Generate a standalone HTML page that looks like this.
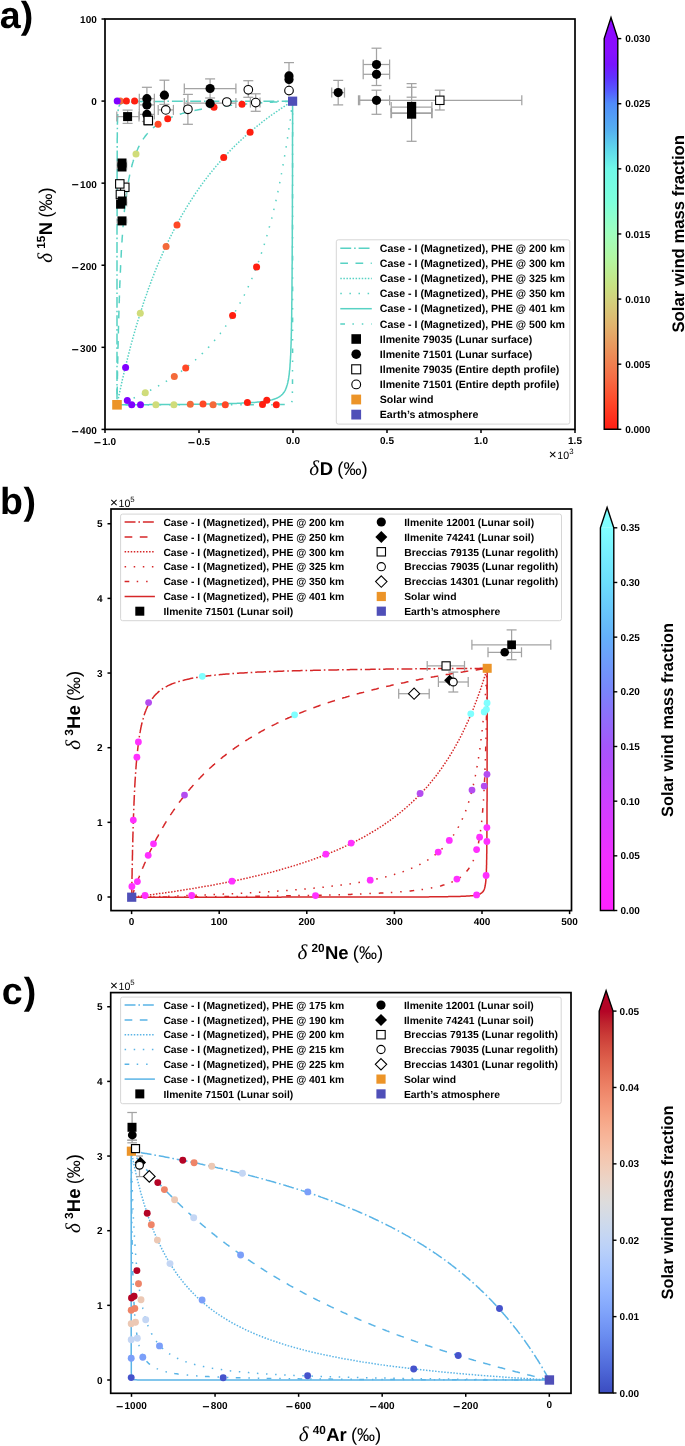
<!DOCTYPE html>
<html><head><meta charset="utf-8"><style>
html,body{margin:0;padding:0;background:#fff;}
svg{display:block;will-change:transform;}
text{text-rendering:geometricPrecision;}
</style></head><body>
<svg width="685" height="1446" viewBox="0 0 685 1446">
<rect width="685" height="1446" fill="#fff"/>
<polyline points="292.6,101.2 291.9,101.2 291.2,101.2 290.6,101.2 289.9,101.2 289.2,101.2 288.5,101.2 287.9,101.2 287.2,101.2 286.5,101.2 285.8,101.2 285.2,101.2 284.5,101.2 283.8,101.2 283.1,101.2 282.5,101.2 281.8,101.2 281.1,101.2 280.4,101.2 279.8,101.2 279.1,101.2 278.4,101.2 277.7,101.2 277.1,101.2 276.4,101.2 275.7,101.2 275.0,101.2 274.4,101.2 273.7,101.2 273.0,101.2 272.3,101.2 271.7,101.2 271.0,101.2 270.3,101.2 269.6,101.2 269.0,101.2 268.3,101.2 267.6,101.2 266.9,101.2 266.3,101.2 265.6,101.2 264.9,101.2 264.2,101.2 263.6,101.2 262.9,101.2 262.2,101.2 261.5,101.2 260.9,101.2 260.2,101.2 259.5,101.2 258.8,101.2 258.2,101.2 257.5,101.2 256.8,101.2 256.1,101.2 255.5,101.2 254.8,101.2 254.1,101.2 253.4,101.2 252.8,101.2 252.1,101.2 251.4,101.2 250.7,101.2 250.1,101.2 249.4,101.2 248.7,101.2 248.0,101.2 247.3,101.2 246.7,101.2 246.0,101.2 245.3,101.2 244.6,101.2 244.0,101.2 243.3,101.2 242.6,101.2 241.9,101.2 241.3,101.2 240.6,101.2 239.9,101.2 239.2,101.2 238.6,101.2 237.9,101.2 237.2,101.2 236.5,101.2 235.9,101.2 235.2,101.2 234.5,101.2 233.8,101.2 233.2,101.2 232.5,101.2 231.8,101.2 231.1,101.2 230.5,101.2 229.8,101.2 229.1,101.2 228.4,101.2 227.8,101.2 227.1,101.2 226.4,101.2 225.7,101.2 225.1,101.2 224.4,101.2 223.7,101.2 223.0,101.2 222.4,101.2 221.7,101.2 221.0,101.2 220.3,101.2 219.7,101.2 219.0,101.2 218.3,101.2 217.6,101.2 217.0,101.2 216.3,101.2 215.6,101.2 214.9,101.2 214.3,101.2 213.6,101.2 212.9,101.3 212.2,101.3 211.6,101.3 210.9,101.3 210.2,101.3 209.5,101.3 208.9,101.3 208.2,101.3 207.5,101.3 206.8,101.3 206.2,101.3 205.5,101.3 204.8,101.3 204.1,101.3 203.4,101.3 202.8,101.3 202.1,101.3 201.4,101.3 200.7,101.3 200.1,101.3 199.4,101.3 198.7,101.3 198.0,101.3 197.4,101.3 196.7,101.3 196.0,101.3 195.3,101.3 194.7,101.3 194.0,101.3 193.3,101.3 192.6,101.3 192.0,101.3 191.3,101.3 190.6,101.3 189.9,101.3 189.3,101.3 188.6,101.3 187.9,101.3 187.2,101.3 186.6,101.3 185.9,101.3 185.2,101.3 184.5,101.3 183.9,101.3 183.2,101.3 182.5,101.3 181.8,101.3 181.2,101.3 180.5,101.3 179.8,101.3 179.1,101.3 178.5,101.3 177.8,101.3 177.1,101.3 176.4,101.3 175.8,101.3 175.1,101.3 174.4,101.3 173.7,101.3 173.1,101.3 172.4,101.3 171.7,101.3 171.0,101.3 170.4,101.3 169.7,101.3 169.0,101.3 168.3,101.3 167.7,101.3 167.0,101.4 166.3,101.4 165.6,101.4 165.0,101.4 164.3,101.4 163.6,101.4 162.9,101.4 162.3,101.4 161.6,101.4 160.9,101.4 160.2,101.4 159.5,101.4 158.9,101.4 158.2,101.4 157.5,101.4 156.8,101.4 156.2,101.4 155.5,101.4 154.8,101.4 154.1,101.4 153.5,101.4 152.8,101.4 152.1,101.4 151.4,101.4 150.8,101.5 150.1,101.5 149.4,101.5 148.7,101.5 148.1,101.5 147.4,101.5 146.7,101.5 146.0,101.5 145.4,101.5 144.7,101.5 144.0,101.5 143.3,101.5 142.7,101.6 142.0,101.6 141.3,101.6 140.6,101.6 140.0,101.6 139.3,101.6 138.6,101.6 137.9,101.6 137.3,101.7 136.6,101.7 135.9,101.7 135.2,101.7 134.6,101.7 133.9,101.8 133.2,101.8 132.5,101.8 131.9,101.9 131.2,101.9 130.5,101.9 129.8,102.0 129.2,102.0 128.5,102.1 127.8,102.1 127.1,102.2 126.5,102.3 125.8,102.3 125.6,102.4 125.1,102.4 124.4,102.6 123.8,102.7 123.1,102.9 122.4,103.1 121.7,103.4 121.4,103.5 121.1,103.7 120.4,104.3 120.0,104.7 119.7,105.0 119.2,105.9 119.0,106.3 118.8,107.0 118.5,108.2 118.4,108.8 118.3,109.4 118.1,110.5 118.0,111.7 117.9,112.9 117.8,114.0 117.7,115.2 117.7,116.2 117.7,116.4 117.6,117.5 117.6,118.7 117.5,119.9 117.5,121.1 117.5,122.2 117.4,123.4 117.4,124.6 117.4,125.7 117.4,126.9 117.4,128.1 117.3,129.2 117.3,130.4 117.3,131.6 117.3,132.7 117.3,133.9 117.3,135.1 117.3,136.2 117.3,137.4 117.2,138.6 117.2,139.7 117.2,140.9 117.2,142.1 117.2,143.2 117.2,144.4 117.2,145.6 117.2,146.7 117.2,147.9 117.2,149.1 117.2,150.2 117.2,151.4 117.2,152.6 117.2,153.7 117.2,154.9 117.2,156.1 117.2,157.2 117.2,158.4 117.1,159.6 117.1,160.8 117.1,161.9 117.1,163.1 117.1,164.3 117.1,165.4 117.1,166.6 117.1,167.8 117.1,168.9 117.1,170.1 117.1,171.3 117.1,172.4 117.1,173.6 117.1,174.8 117.1,175.9 117.1,177.1 117.1,178.3 117.1,179.4 117.1,180.6 117.1,181.8 117.1,182.9 117.1,184.1 117.1,185.3 117.1,186.4 117.1,187.6 117.1,188.8 117.1,189.9 117.1,191.1 117.1,192.3 117.1,193.4 117.1,194.6 117.1,195.8 117.1,197.0 117.1,198.1 117.1,199.3 117.1,200.5 117.1,201.6 117.1,202.8 117.1,204.0 117.1,205.1 117.1,206.3 117.1,207.5 117.1,208.6 117.1,209.8 117.1,211.0 117.1,212.1 117.1,213.3 117.1,214.5 117.1,215.6 117.1,216.8 117.1,218.0 117.1,219.1 117.1,220.3 117.1,221.5 117.1,222.6 117.1,223.8 117.1,225.0 117.1,226.1 117.0,227.3 117.0,228.5 117.0,229.6 117.0,230.8 117.0,232.0 117.0,233.1 117.0,234.3 117.0,235.5 117.0,236.7 117.0,237.8 117.0,239.0 117.0,240.2 117.0,241.3 117.0,242.5 117.0,243.7 117.0,244.8 117.0,246.0 117.0,247.2 117.0,248.3 117.0,249.5 117.0,250.7 117.0,251.8 117.0,253.0 117.0,254.2 117.0,255.3 117.0,256.5 117.0,257.7 117.0,258.8 117.0,260.0 117.0,261.2 117.0,262.3 117.0,263.5 117.0,264.7 117.0,265.8 117.0,267.0 117.0,268.2 117.0,269.3 117.0,270.5 117.0,271.7 117.0,272.9 117.0,274.0 117.0,275.2 117.0,276.4 117.0,277.5 117.0,278.7 117.0,279.9 117.0,281.0 117.0,282.2 117.0,283.4 117.0,284.5 117.0,285.7 117.0,286.9 117.0,288.0 117.0,289.2 117.0,290.4 117.0,291.5 117.0,292.7 117.0,293.9 117.0,295.0 117.0,296.2 117.0,297.4 117.0,298.5 117.0,299.7 117.0,300.9 117.0,302.0 117.0,303.2 117.0,304.4 117.0,305.5 117.0,306.7 117.0,307.9 117.0,309.0 117.0,310.2 117.0,311.4 117.0,312.6 117.0,313.7 117.0,314.9 117.0,316.1 117.0,317.2 117.0,318.4 117.0,319.6 117.0,320.7 117.0,321.9 117.0,323.1 117.0,324.2 117.0,325.4 117.0,326.6 117.0,327.7 117.0,328.9 117.0,330.1 117.0,331.2 117.0,332.4 117.0,333.6 117.0,334.7 117.0,335.9 117.0,337.1 117.0,338.2 117.0,339.4 117.0,340.6 117.0,341.7 117.0,342.9 117.0,344.1 117.0,345.2 117.0,346.4 117.0,347.6 117.0,348.8 117.0,349.9 117.0,351.1 117.0,352.3 117.0,353.4 117.0,354.6 117.0,355.8 117.0,356.9 117.0,358.1 117.0,359.3 117.0,360.4 117.0,361.6 117.0,362.8 117.0,363.9 117.0,365.1 117.0,366.3 117.0,367.4 117.0,368.6 117.0,369.8 117.0,370.9 117.0,372.1 117.0,373.3 117.0,374.4 117.0,375.6 117.0,376.8 117.0,377.9 117.0,379.1 117.0,380.3 117.0,381.4 117.0,382.6 117.0,383.8 117.0,384.9 117.0,386.1 117.0,387.3 117.0,388.5 117.0,389.6 117.0,390.8 117.0,392.0 117.0,393.1 117.0,394.3 117.0,395.5 117.0,396.6 117.0,397.8 117.0,399.0 117.0,400.1 117.0,401.3 117.0,402.5 117.0,403.6 117.0,404.8" fill="none" stroke="#58d2c4" stroke-width="1.5" stroke-dasharray="10.9 2.9 1.6 2.9" />
<polyline points="292.6,101.2 291.9,101.2 291.2,101.3 290.6,101.3 289.9,101.3 289.2,101.3 288.5,101.4 287.9,101.4 287.2,101.4 286.5,101.5 285.8,101.5 285.2,101.5 284.5,101.6 283.8,101.6 283.1,101.6 282.5,101.7 281.8,101.7 281.1,101.7 280.4,101.8 279.8,101.8 279.1,101.8 278.4,101.9 277.7,101.9 277.1,101.9 276.4,102.0 275.7,102.0 275.0,102.0 274.4,102.1 273.7,102.1 273.0,102.1 272.3,102.2 271.7,102.2 271.0,102.3 270.3,102.3 269.6,102.3 269.1,102.4 269.0,102.4 268.3,102.4 267.6,102.5 266.9,102.5 266.3,102.5 265.6,102.6 264.9,102.6 264.2,102.7 263.6,102.7 262.9,102.7 262.2,102.8 261.5,102.8 260.9,102.9 260.2,102.9 259.5,103.0 258.8,103.0 258.2,103.0 257.5,103.1 256.8,103.1 256.1,103.2 255.5,103.2 254.8,103.3 254.1,103.3 253.4,103.4 252.8,103.4 252.1,103.5 251.4,103.5 251.0,103.5 250.7,103.6 250.1,103.6 249.4,103.7 248.7,103.7 248.0,103.8 247.3,103.8 246.7,103.9 246.0,103.9 245.3,104.0 244.6,104.0 244.0,104.1 243.3,104.1 242.6,104.2 241.9,104.2 241.3,104.3 240.6,104.4 239.9,104.4 239.2,104.5 238.6,104.5 237.9,104.6 237.2,104.7 236.7,104.7 236.5,104.7 235.9,104.8 235.2,104.8 234.5,104.9 233.8,105.0 233.2,105.0 232.5,105.1 231.8,105.2 231.1,105.2 230.5,105.3 229.8,105.4 229.1,105.4 228.4,105.5 227.8,105.6 227.1,105.7 226.4,105.7 225.7,105.8 225.1,105.9 225.1,105.9 224.4,105.9 223.7,106.0 223.0,106.1 222.4,106.2 221.7,106.3 221.0,106.3 220.3,106.4 219.7,106.5 219.0,106.6 218.3,106.7 217.6,106.8 217.0,106.8 216.3,106.9 215.6,107.0 215.4,107.0 214.9,107.1 214.3,107.2 213.6,107.3 212.9,107.4 212.2,107.5 211.6,107.6 210.9,107.7 210.2,107.8 209.5,107.9 208.9,108.0 208.2,108.1 207.5,108.2 207.3,108.2 206.8,108.3 206.2,108.4 205.5,108.5 204.8,108.6 204.1,108.7 203.4,108.8 202.8,108.9 202.1,109.1 201.4,109.2 200.7,109.3 200.4,109.4 200.1,109.4 199.4,109.5 198.7,109.7 198.0,109.8 197.4,109.9 196.7,110.1 196.0,110.2 195.3,110.3 194.7,110.5 194.4,110.5 194.0,110.6 193.3,110.8 192.6,110.9 192.0,111.1 191.3,111.2 190.6,111.4 189.9,111.5 189.3,111.7 189.1,111.7 188.6,111.8 187.9,112.0 187.2,112.2 186.6,112.3 185.9,112.5 185.2,112.7 184.5,112.9 183.9,113.1 183.2,113.2 182.5,113.4 181.8,113.6 181.2,113.8 180.5,114.0 180.5,114.0 179.8,114.2 179.1,114.5 178.5,114.7 177.8,114.9 177.1,115.1 176.8,115.2 176.4,115.3 175.8,115.6 175.1,115.8 174.4,116.1 173.7,116.3 173.5,116.4 173.1,116.6 172.4,116.8 171.7,117.1 171.0,117.4 170.6,117.5 170.4,117.6 169.7,117.9 169.0,118.2 168.3,118.5 167.9,118.7 167.7,118.8 167.0,119.1 166.3,119.5 165.6,119.8 165.5,119.9 165.0,120.1 164.3,120.5 163.6,120.9 163.2,121.1 162.9,121.2 162.3,121.6 161.6,122.0 161.2,122.2 160.9,122.4 160.2,122.8 159.5,123.2 159.3,123.4 158.9,123.6 158.2,124.1 157.5,124.6 156.8,125.0 156.2,125.5 155.9,125.7 155.5,126.0 154.8,126.5 154.4,126.9 154.1,127.1 153.5,127.6 153.0,128.1 152.8,128.2 152.1,128.8 151.7,129.2 151.4,129.4 150.8,130.0 150.4,130.4 150.1,130.7 149.4,131.4 149.3,131.6 148.7,132.1 148.2,132.7 148.1,132.8 147.4,133.6 147.1,133.9 146.7,134.4 146.2,135.1 146.0,135.2 145.4,136.1 145.2,136.2 144.7,137.0 144.4,137.4 144.0,137.9 143.5,138.6 143.3,138.9 142.8,139.7 142.7,139.9 142.0,140.9 142.0,141.0 141.3,142.1 141.3,142.1 140.6,143.2 140.0,144.4 140.0,144.5 139.4,145.6 139.3,145.7 138.8,146.7 138.6,147.1 138.2,147.9 137.9,148.5 137.7,149.1 137.3,150.0 137.2,150.2 136.7,151.4 136.6,151.6 136.2,152.6 135.9,153.3 135.7,153.7 135.3,154.9 135.2,155.1 134.9,156.1 134.6,157.0 134.5,157.2 134.1,158.4 133.9,159.0 133.7,159.6 133.3,160.8 133.2,161.1 133.0,161.9 132.6,163.1 132.5,163.4 132.3,164.3 132.0,165.4 131.9,165.8 131.7,166.6 131.4,167.8 131.2,168.4 131.1,168.9 130.8,170.1 130.5,171.3 130.2,172.4 130.0,173.6 129.8,174.3 129.7,174.8 129.5,175.9 129.3,177.1 129.2,177.6 129.0,178.3 128.8,179.4 128.6,180.6 128.5,181.1 128.4,181.8 128.2,182.9 128.0,184.1 127.8,185.0 127.8,185.3 127.6,186.4 127.4,187.6 127.2,188.8 127.1,189.2 127.0,189.9 126.8,191.1 126.7,192.3 126.5,193.4 126.5,193.9 126.4,194.6 126.2,195.8 126.0,197.0 125.9,198.1 125.8,199.0 125.7,199.3 125.6,200.5 125.5,201.6 125.3,202.8 125.2,204.0 125.1,204.6 125.0,205.1 124.9,206.3 124.8,207.5 124.7,208.6 124.5,209.8 124.4,210.9 124.4,211.0 124.3,212.1 124.2,213.3 124.1,214.5 124.0,215.6 123.9,216.8 123.8,218.0 123.6,219.1 123.5,220.3 123.4,221.5 123.3,222.6 123.2,223.8 123.2,225.0 123.1,225.9 123.1,226.1 123.0,227.3 122.9,228.5 122.8,229.6 122.7,230.8 122.6,232.0 122.5,233.1 122.4,234.3 122.4,235.0 122.4,235.5 122.3,236.7 122.2,237.8 122.1,239.0 122.1,240.2 122.0,241.3 121.9,242.5 121.8,243.7 121.8,244.8 121.7,245.3 121.7,246.0 121.6,247.2 121.5,248.3 121.5,249.5 121.4,250.7 121.3,251.8 121.3,253.0 121.2,254.2 121.2,255.3 121.1,256.5 121.1,257.3 121.0,257.7 121.0,258.8 120.9,260.0 120.9,261.2 120.8,262.3 120.7,263.5 120.7,264.7 120.6,265.8 120.6,267.0 120.5,268.2 120.5,269.3 120.4,270.5 120.4,271.3 120.4,271.7 120.3,272.9 120.3,274.0 120.2,275.2 120.2,276.4 120.1,277.5 120.1,278.7 120.0,279.9 120.0,281.0 119.9,282.2 119.9,283.4 119.8,284.5 119.8,285.7 119.7,286.9 119.7,288.0 119.7,289.2 119.6,290.4 119.6,291.5 119.5,292.7 119.5,293.9 119.5,295.0 119.4,296.2 119.4,297.4 119.3,298.5 119.3,299.7 119.3,300.9 119.2,302.0 119.2,303.2 119.1,304.4 119.1,305.5 119.1,306.7 119.0,307.9 119.0,308.2 119.0,309.0 119.0,310.2 118.9,311.4 118.9,312.6 118.9,313.7 118.8,314.9 118.8,316.1 118.8,317.2 118.7,318.4 118.7,319.6 118.7,320.7 118.6,321.9 118.6,323.1 118.6,324.2 118.5,325.4 118.5,326.6 118.5,327.7 118.5,328.9 118.4,330.1 118.4,331.2 118.4,332.4 118.4,332.9 118.3,333.6 118.3,334.7 118.3,335.9 118.3,337.1 118.2,338.2 118.2,339.4 118.2,340.6 118.1,341.7 118.1,342.9 118.1,344.1 118.1,345.2 118.0,346.4 118.0,347.6 118.0,348.8 118.0,349.9 117.9,351.1 117.9,352.3 117.9,353.4 117.9,354.6 117.8,355.8 117.8,356.9 117.8,358.1 117.8,359.3 117.7,360.4 117.7,361.6 117.7,362.8 117.7,363.9 117.7,364.2 117.7,365.1 117.6,366.3 117.6,367.4 117.6,368.6 117.6,369.8 117.5,370.9 117.5,372.1 117.5,373.3 117.5,374.4 117.5,375.6 117.4,376.8 117.4,377.9 117.4,379.1 117.4,380.3 117.4,381.4 117.3,382.6 117.3,383.8 117.3,384.9 117.3,386.1 117.3,387.3 117.2,388.5 117.2,389.6 117.2,390.8 117.2,392.0 117.2,393.1 117.2,394.3 117.1,395.5 117.1,396.6 117.1,397.8 117.1,399.0 117.1,400.1 117.1,401.3 117.0,402.5 117.0,403.6 117.0,404.8" fill="none" stroke="#58d2c4" stroke-width="1.5" stroke-dasharray="7.7 7.5" />
<polyline points="292.6,101.2 291.9,101.6 291.2,102.0 290.7,102.4 290.6,102.4 289.9,102.9 289.2,103.3 288.8,103.5 288.5,103.7 287.9,104.1 287.2,104.6 287.0,104.7 286.5,105.0 285.8,105.4 285.2,105.9 285.2,105.9 284.5,106.3 283.8,106.7 283.4,107.0 283.1,107.2 282.5,107.6 281.8,108.1 281.6,108.2 281.1,108.5 280.4,109.0 279.8,109.4 279.8,109.4 279.1,109.9 278.4,110.3 278.1,110.5 277.7,110.8 277.1,111.3 276.4,111.7 276.4,111.7 275.7,112.2 275.0,112.7 274.7,112.9 274.4,113.1 273.7,113.6 273.1,114.0 273.0,114.1 272.3,114.6 271.7,115.0 271.4,115.2 271.0,115.5 270.3,116.0 269.8,116.4 269.6,116.5 269.0,117.0 268.3,117.5 268.2,117.5 267.6,118.0 266.9,118.5 266.6,118.7 266.3,119.0 265.6,119.5 265.1,119.9 264.9,120.0 264.2,120.5 263.6,121.0 263.6,121.1 262.9,121.6 262.2,122.1 262.0,122.2 261.5,122.6 260.9,123.1 260.5,123.4 260.2,123.7 259.5,124.2 259.1,124.6 258.8,124.7 258.2,125.3 257.6,125.7 257.5,125.8 256.8,126.4 256.2,126.9 256.1,126.9 255.5,127.5 254.8,128.0 254.7,128.1 254.1,128.6 253.4,129.1 253.3,129.2 252.8,129.7 252.1,130.3 251.9,130.4 251.4,130.8 250.7,131.4 250.6,131.6 250.1,132.0 249.4,132.6 249.2,132.7 248.7,133.2 248.0,133.8 247.9,133.9 247.3,134.3 246.7,134.9 246.5,135.1 246.0,135.5 245.3,136.1 245.2,136.2 244.6,136.7 244.0,137.4 243.9,137.4 243.3,138.0 242.6,138.6 242.6,138.6 241.9,139.2 241.4,139.7 241.3,139.8 240.6,140.5 240.1,140.9 239.9,141.1 239.2,141.7 238.9,142.1 238.6,142.4 237.9,143.0 237.7,143.2 237.2,143.7 236.5,144.3 236.5,144.4 235.9,145.0 235.3,145.6 235.2,145.6 234.5,146.3 234.1,146.7 233.8,147.0 233.2,147.6 232.9,147.9 232.5,148.3 231.8,149.0 231.7,149.1 231.1,149.7 230.6,150.2 230.5,150.4 229.8,151.1 229.5,151.4 229.1,151.8 228.4,152.5 228.3,152.6 227.8,153.2 227.2,153.7 227.1,153.9 226.4,154.6 226.1,154.9 225.7,155.3 225.1,156.1 225.1,156.1 224.4,156.8 224.0,157.2 223.7,157.5 223.0,158.3 222.9,158.4 222.4,159.0 221.9,159.6 221.7,159.8 221.0,160.5 220.8,160.8 220.3,161.3 219.8,161.9 219.7,162.1 219.0,162.9 218.8,163.1 218.3,163.6 217.8,164.3 217.6,164.4 217.0,165.2 216.8,165.4 216.3,166.0 215.8,166.6 215.6,166.8 214.9,167.6 214.8,167.8 214.3,168.4 213.8,168.9 213.6,169.2 212.9,170.1 212.9,170.1 212.2,170.9 211.9,171.3 211.6,171.7 211.0,172.4 210.9,172.6 210.2,173.4 210.1,173.6 209.5,174.3 209.1,174.8 208.9,175.1 208.2,175.9 208.2,176.0 207.5,176.9 207.3,177.1 206.8,177.7 206.4,178.3 206.2,178.6 205.5,179.4 205.5,179.5 204.8,180.4 204.7,180.6 204.1,181.3 203.8,181.8 203.4,182.2 202.9,182.9 202.8,183.1 202.1,184.1 202.1,184.1 201.4,185.0 201.2,185.3 200.7,185.9 200.4,186.4 200.1,186.9 199.6,187.6 199.4,187.8 198.7,188.8 198.7,188.8 198.0,189.8 197.9,189.9 197.4,190.7 197.1,191.1 196.7,191.7 196.3,192.3 196.0,192.7 195.5,193.4 195.3,193.7 194.7,194.6 194.7,194.7 194.0,195.7 194.0,195.8 193.3,196.7 193.2,197.0 192.6,197.8 192.4,198.1 192.0,198.8 191.7,199.3 191.3,199.9 190.9,200.5 190.6,200.9 190.2,201.6 189.9,202.0 189.4,202.8 189.3,203.0 188.7,204.0 188.6,204.1 188.0,205.1 187.9,205.2 187.2,206.3 187.2,206.3 186.6,207.4 186.5,207.5 185.9,208.5 185.8,208.6 185.2,209.6 185.1,209.8 184.5,210.8 184.4,211.0 183.9,211.9 183.7,212.1 183.2,213.1 183.1,213.3 182.5,214.2 182.4,214.5 181.8,215.4 181.7,215.6 181.2,216.6 181.0,216.8 180.5,217.8 180.4,218.0 179.8,219.0 179.7,219.1 179.1,220.2 179.1,220.3 178.5,221.4 178.4,221.5 177.8,222.6 177.8,222.7 177.2,223.8 177.1,223.9 176.5,225.0 176.4,225.2 175.9,226.1 175.8,226.4 175.3,227.3 175.1,227.7 174.7,228.5 174.4,229.0 174.1,229.6 173.7,230.3 173.5,230.8 173.1,231.6 172.9,232.0 172.4,232.9 172.3,233.1 171.7,234.2 171.7,234.3 171.1,235.5 171.0,235.6 170.5,236.7 170.4,237.0 169.9,237.8 169.7,238.3 169.4,239.0 169.0,239.7 168.8,240.2 168.3,241.1 168.2,241.3 167.7,242.5 167.7,242.5 167.1,243.7 167.0,243.9 166.6,244.8 166.3,245.4 166.0,246.0 165.6,246.8 165.5,247.2 165.0,248.3 164.9,248.3 164.4,249.5 164.3,249.8 163.9,250.7 163.6,251.2 163.3,251.8 162.9,252.7 162.8,253.0 162.3,254.2 162.3,254.3 161.8,255.3 161.6,255.8 161.3,256.5 160.9,257.3 160.8,257.7 160.3,258.8 160.2,258.9 159.8,260.0 159.5,260.5 159.3,261.2 158.9,262.1 158.8,262.3 158.3,263.5 158.2,263.7 157.8,264.7 157.5,265.3 157.3,265.8 156.8,267.0 156.8,267.0 156.4,268.2 156.2,268.6 155.9,269.3 155.5,270.3 155.4,270.5 154.9,271.7 154.8,272.0 154.5,272.9 154.1,273.7 154.0,274.0 153.6,275.2 153.5,275.4 153.1,276.4 152.8,277.2 152.7,277.5 152.2,278.7 152.1,278.9 151.8,279.9 151.4,280.7 151.3,281.0 150.9,282.2 150.8,282.5 150.5,283.4 150.1,284.3 150.0,284.5 149.6,285.7 149.4,286.2 149.2,286.9 148.7,288.0 148.7,288.0 148.3,289.2 148.1,289.9 147.9,290.4 147.5,291.5 147.4,291.8 147.1,292.7 146.7,293.7 146.7,293.9 146.3,295.0 146.0,295.6 145.8,296.2 145.4,297.4 145.4,297.6 145.0,298.5 144.7,299.6 144.6,299.7 144.3,300.9 144.0,301.6 143.9,302.0 143.5,303.2 143.3,303.6 143.1,304.4 142.7,305.5 142.7,305.7 142.3,306.7 142.0,307.7 141.9,307.9 141.6,309.0 141.3,309.8 141.2,310.2 140.8,311.4 140.6,311.9 140.4,312.6 140.1,313.7 140.0,314.1 139.7,314.9 139.3,316.1 139.3,316.2 139.0,317.2 138.6,318.4 138.6,318.4 138.3,319.6 137.9,320.6 137.9,320.7 137.6,321.9 137.3,322.9 137.2,323.1 136.9,324.2 136.6,325.2 136.5,325.4 136.2,326.6 135.9,327.4 135.8,327.7 135.5,328.9 135.2,329.8 135.1,330.1 134.8,331.2 134.6,332.1 134.5,332.4 134.1,333.6 133.9,334.5 133.8,334.7 133.5,335.9 133.2,336.9 133.2,337.1 132.8,338.2 132.5,339.3 132.5,339.4 132.2,340.6 131.9,341.7 131.9,341.8 131.6,342.9 131.2,344.1 131.2,344.3 130.9,345.2 130.6,346.4 130.5,346.8 130.3,347.6 130.0,348.8 129.8,349.4 129.7,349.9 129.4,351.1 129.2,352.0 129.1,352.3 128.8,353.4 128.5,354.6 128.5,354.6 128.2,355.8 127.9,356.9 127.8,357.2 127.6,358.1 127.3,359.3 127.1,359.9 127.0,360.4 126.7,361.6 126.5,362.6 126.4,362.8 126.1,363.9 125.9,365.1 125.8,365.4 125.6,366.3 125.3,367.4 125.1,368.2 125.0,368.6 124.7,369.8 124.5,370.9 124.4,371.0 124.2,372.1 123.9,373.3 123.8,373.9 123.6,374.4 123.4,375.6 123.1,376.8 123.1,376.8 122.8,377.9 122.5,379.1 122.4,379.7 122.3,380.3 122.0,381.4 121.8,382.6 121.7,382.7 121.5,383.8 121.2,384.9 121.1,385.8 121.0,386.1 120.7,387.3 120.5,388.5 120.4,388.8 120.2,389.6 119.9,390.8 119.7,391.9 119.7,392.0 119.4,393.1 119.2,394.3 119.0,395.1 118.9,395.5 118.7,396.6 118.5,397.8 118.4,398.3 118.2,399.0 118.0,400.1 117.7,401.3 117.7,401.5 117.5,402.5 117.2,403.6 117.0,404.8" fill="none" stroke="#58d2c4" stroke-width="1.5" stroke-dasharray="1.5 1.56" />
<polyline points="292.6,101.2 292.5,102.4 292.3,103.5 292.2,104.7 292.0,105.9 291.9,106.6 291.9,107.0 291.7,108.2 291.6,109.4 291.4,110.5 291.3,111.7 291.2,111.8 291.1,112.9 290.9,114.0 290.8,115.2 290.6,116.4 290.6,116.8 290.5,117.5 290.3,118.7 290.2,119.9 290.0,121.1 289.9,121.8 289.8,122.2 289.7,123.4 289.5,124.6 289.3,125.7 289.2,126.6 289.2,126.9 289.0,128.1 288.8,129.2 288.7,130.4 288.5,131.2 288.5,131.6 288.3,132.7 288.2,133.9 288.0,135.1 287.9,135.8 287.8,136.2 287.6,137.4 287.5,138.6 287.3,139.7 287.2,140.3 287.1,140.9 286.9,142.1 286.7,143.2 286.6,144.4 286.5,144.6 286.4,145.6 286.2,146.7 286.0,147.9 285.8,148.8 285.8,149.1 285.6,150.2 285.4,151.4 285.2,152.6 285.2,152.9 285.0,153.7 284.8,154.9 284.6,156.1 284.5,157.0 284.4,157.2 284.2,158.4 284.0,159.6 283.8,160.8 283.8,160.9 283.6,161.9 283.4,163.1 283.2,164.3 283.1,164.7 283.0,165.4 282.8,166.6 282.6,167.8 282.5,168.5 282.4,168.9 282.2,170.1 282.0,171.3 281.8,172.1 281.7,172.4 281.5,173.6 281.3,174.8 281.1,175.7 281.1,175.9 280.9,177.1 280.6,178.3 280.4,179.2 280.4,179.4 280.2,180.6 279.9,181.8 279.8,182.6 279.7,182.9 279.5,184.1 279.2,185.3 279.1,186.0 279.0,186.4 278.8,187.6 278.5,188.8 278.4,189.3 278.3,189.9 278.0,191.1 277.8,192.3 277.7,192.5 277.5,193.4 277.3,194.6 277.1,195.6 277.0,195.8 276.8,197.0 276.5,198.1 276.4,198.7 276.3,199.3 276.0,200.5 275.7,201.6 275.7,201.7 275.5,202.8 275.2,204.0 275.0,204.6 274.9,205.1 274.7,206.3 274.4,207.5 274.4,207.5 274.1,208.6 273.8,209.8 273.7,210.3 273.5,211.0 273.3,212.1 273.0,213.1 273.0,213.3 272.7,214.5 272.4,215.6 272.3,215.8 272.1,216.8 271.8,218.0 271.7,218.5 271.5,219.1 271.2,220.3 271.0,221.1 270.9,221.5 270.6,222.6 270.3,223.7 270.3,223.8 270.0,225.0 269.6,226.1 269.6,226.2 269.3,227.3 269.0,228.5 269.0,228.6 268.7,229.6 268.4,230.8 268.3,231.0 268.0,232.0 267.7,233.1 267.6,233.4 267.4,234.3 267.0,235.5 266.9,235.8 266.7,236.7 266.3,237.8 266.3,238.0 266.0,239.0 265.6,240.2 265.6,240.3 265.3,241.3 264.9,242.5 264.9,242.5 264.5,243.7 264.2,244.7 264.2,244.8 263.8,246.0 263.6,246.8 263.4,247.2 263.1,248.3 262.9,248.9 262.7,249.5 262.3,250.7 262.2,250.9 261.9,251.8 261.5,253.0 261.5,253.0 261.1,254.2 260.9,255.0 260.7,255.3 260.3,256.5 260.2,256.9 259.9,257.7 259.5,258.8 259.5,258.8 259.1,260.0 258.8,260.7 258.7,261.2 258.2,262.3 258.2,262.6 257.8,263.5 257.5,264.4 257.4,264.7 256.9,265.8 256.8,266.2 256.5,267.0 256.1,268.0 256.1,268.2 255.6,269.3 255.5,269.7 255.1,270.5 254.8,271.4 254.7,271.7 254.2,272.9 254.1,273.1 253.7,274.0 253.4,274.8 253.3,275.2 252.8,276.4 252.8,276.4 252.3,277.5 252.1,278.0 251.8,278.7 251.4,279.6 251.3,279.9 250.8,281.0 250.7,281.2 250.3,282.2 250.1,282.7 249.8,283.4 249.4,284.2 249.2,284.5 248.7,285.7 248.7,285.7 248.2,286.9 248.0,287.2 247.6,288.0 247.3,288.7 247.1,289.2 246.7,290.1 246.5,290.4 246.0,291.5 246.0,291.5 245.4,292.7 245.3,292.9 244.8,293.9 244.6,294.3 244.3,295.0 244.0,295.6 243.7,296.2 243.3,297.0 243.1,297.4 242.6,298.3 242.5,298.5 241.9,299.6 241.9,299.7 241.3,300.9 241.3,300.9 240.6,302.0 240.6,302.1 240.0,303.2 239.9,303.4 239.4,304.4 239.2,304.6 238.7,305.5 238.6,305.8 238.1,306.7 237.9,307.0 237.4,307.9 237.2,308.2 236.7,309.0 236.5,309.3 236.0,310.2 235.9,310.5 235.3,311.4 235.2,311.6 234.6,312.6 234.5,312.8 233.9,313.7 233.8,313.9 233.2,314.9 233.2,315.0 232.5,316.0 232.5,316.1 231.8,317.1 231.7,317.2 231.1,318.2 231.0,318.4 230.5,319.2 230.2,319.6 229.8,320.2 229.5,320.7 229.1,321.2 228.7,321.9 228.4,322.2 227.9,323.1 227.8,323.2 227.1,324.2 227.1,324.2 226.4,325.2 226.3,325.4 225.7,326.1 225.4,326.6 225.1,327.1 224.6,327.7 224.4,328.0 223.7,328.9 223.7,328.9 223.0,329.8 222.9,330.1 222.4,330.8 222.0,331.2 221.7,331.6 221.1,332.4 221.0,332.5 220.3,333.4 220.2,333.6 219.7,334.3 219.3,334.7 219.0,335.1 218.3,335.9 218.3,336.0 217.6,336.8 217.4,337.1 217.0,337.6 216.4,338.2 216.3,338.4 215.6,339.2 215.5,339.4 214.9,340.0 214.5,340.6 214.3,340.8 213.6,341.6 213.5,341.7 212.9,342.4 212.4,342.9 212.2,343.1 211.6,343.9 211.4,344.1 210.9,344.7 210.3,345.2 210.2,345.4 209.5,346.1 209.3,346.4 208.9,346.9 208.2,347.6 208.2,347.6 207.5,348.3 207.1,348.8 206.8,349.0 206.2,349.7 205.9,349.9 205.5,350.4 204.8,351.1 204.8,351.1 204.1,351.7 203.6,352.3 203.4,352.4 202.8,353.1 202.4,353.4 202.1,353.7 201.4,354.4 201.2,354.6 200.7,355.0 200.1,355.7 200.0,355.8 199.4,356.3 198.7,356.9 198.7,356.9 198.0,357.5 197.4,358.1 197.4,358.2 196.7,358.8 196.1,359.3 196.0,359.4 195.3,360.0 194.8,360.4 194.7,360.6 194.0,361.1 193.5,361.6 193.3,361.7 192.6,362.3 192.1,362.8 192.0,362.9 191.3,363.4 190.7,363.9 190.6,364.0 189.9,364.6 189.3,365.1 189.3,365.1 188.6,365.7 187.9,366.2 187.8,366.3 187.2,366.7 186.6,367.3 186.3,367.4 185.9,367.8 185.2,368.3 184.8,368.6 184.5,368.8 183.9,369.3 183.3,369.8 183.2,369.9 182.5,370.4 181.8,370.9 181.7,370.9 181.2,371.4 180.5,371.8 180.1,372.1 179.8,372.3 179.1,372.8 178.5,373.3 178.5,373.3 177.8,373.8 177.1,374.2 176.8,374.4 176.4,374.7 175.8,375.2 175.1,375.6 175.1,375.6 174.4,376.1 173.7,376.5 173.4,376.8 173.1,377.0 172.4,377.4 171.7,377.9 171.6,377.9 171.0,378.3 170.4,378.7 169.8,379.1 169.7,379.2 169.0,379.6 168.3,380.0 167.9,380.3 167.7,380.5 167.0,380.9 166.3,381.3 166.0,381.4 165.6,381.7 165.0,382.1 164.3,382.5 164.1,382.6 163.6,382.9 162.9,383.3 162.3,383.7 162.1,383.8 161.6,384.1 160.9,384.5 160.2,384.9 160.1,384.9 159.5,385.3 158.9,385.6 158.2,386.0 158.0,386.1 157.5,386.4 156.8,386.8 156.2,387.1 155.9,387.3 155.5,387.5 154.8,387.9 154.1,388.2 153.7,388.5 153.5,388.6 152.8,389.0 152.1,389.3 151.5,389.6 151.4,389.7 150.8,390.0 150.1,390.4 149.4,390.7 149.3,390.8 148.7,391.0 148.1,391.4 147.4,391.7 146.9,392.0 146.7,392.1 146.0,392.4 145.4,392.7 144.7,393.0 144.5,393.1 144.0,393.4 143.3,393.7 142.7,394.0 142.1,394.3 142.0,394.3 141.3,394.7 140.6,395.0 140.0,395.3 139.6,395.5 139.3,395.6 138.6,395.9 137.9,396.2 137.3,396.5 137.0,396.6 136.6,396.8 135.9,397.1 135.2,397.4 134.6,397.7 134.4,397.8 133.9,398.0 133.2,398.3 132.5,398.6 131.9,398.9 131.7,399.0 131.2,399.2 130.5,399.5 129.8,399.7 129.2,400.0 128.9,400.1 128.5,400.3 127.8,400.6 127.1,400.9 126.5,401.1 126.0,401.3 125.8,401.4 125.1,401.7 124.4,401.9 123.8,402.2 123.1,402.5 123.1,402.5 122.4,402.7 121.7,403.0 121.1,403.3 120.4,403.5 120.1,403.6 119.7,403.8 119.0,404.0 118.4,404.3 117.7,404.5 117.0,404.8" fill="none" stroke="#58d2c4" stroke-width="1.5" stroke-dasharray="1.5 7.6" />
<polyline points="292.6,101.2 292.6,102.4 292.6,103.5 292.6,104.7 292.6,105.9 292.6,107.0 292.6,108.2 292.6,109.4 292.6,110.5 292.6,111.7 292.6,112.9 292.6,114.0 292.6,115.2 292.6,116.4 292.6,117.5 292.6,118.7 292.6,119.9 292.6,121.1 292.6,122.2 292.6,123.4 292.6,124.6 292.6,125.7 292.6,126.9 292.6,128.1 292.6,129.2 292.6,130.4 292.6,131.6 292.6,132.7 292.6,133.9 292.6,135.1 292.5,136.2 292.5,137.4 292.5,138.6 292.5,139.7 292.5,140.9 292.5,142.1 292.5,143.2 292.5,144.4 292.5,145.6 292.5,146.7 292.5,147.9 292.5,149.1 292.5,150.2 292.5,151.4 292.5,152.6 292.5,153.7 292.5,154.9 292.5,156.1 292.5,157.2 292.5,158.4 292.5,159.6 292.5,160.8 292.5,161.9 292.5,163.1 292.5,164.3 292.5,165.4 292.5,166.6 292.5,167.8 292.5,168.9 292.5,170.1 292.5,171.3 292.5,172.4 292.5,173.6 292.5,174.8 292.5,175.9 292.5,177.1 292.5,178.3 292.5,179.4 292.5,180.6 292.5,181.8 292.5,182.9 292.5,184.1 292.5,185.3 292.4,186.4 292.4,187.6 292.4,188.8 292.4,189.9 292.4,191.1 292.4,192.3 292.4,193.4 292.4,194.6 292.4,195.8 292.4,197.0 292.4,198.1 292.4,199.3 292.4,200.5 292.4,201.6 292.4,202.8 292.4,204.0 292.4,205.1 292.4,206.3 292.4,207.5 292.4,208.6 292.4,209.8 292.4,211.0 292.4,212.1 292.4,213.3 292.4,214.5 292.4,215.6 292.4,216.8 292.4,218.0 292.4,219.1 292.3,220.3 292.3,221.5 292.3,222.6 292.3,223.8 292.3,225.0 292.3,226.1 292.3,227.3 292.3,228.5 292.3,229.6 292.3,230.8 292.3,232.0 292.3,233.1 292.3,234.3 292.3,235.5 292.3,236.7 292.3,237.8 292.3,239.0 292.3,240.2 292.3,241.3 292.3,242.5 292.3,243.7 292.3,244.8 292.2,246.0 292.2,247.2 292.2,248.3 292.2,249.5 292.2,250.7 292.2,251.8 292.2,253.0 292.2,254.2 292.2,255.3 292.2,256.5 292.2,257.7 292.2,258.8 292.2,260.0 292.2,261.2 292.2,262.3 292.2,263.5 292.1,264.7 292.1,265.8 292.1,267.0 292.1,268.2 292.1,269.3 292.1,270.5 292.1,271.7 292.1,272.9 292.1,274.0 292.1,275.2 292.1,276.4 292.1,277.5 292.1,278.7 292.0,279.9 292.0,281.0 292.0,282.2 292.0,283.4 292.0,284.5 292.0,285.7 292.0,286.9 292.0,288.0 292.0,289.2 292.0,290.4 291.9,291.5 291.9,292.7 291.9,293.9 291.9,293.9 291.9,295.0 291.9,296.2 291.9,297.4 291.9,298.5 291.9,299.7 291.9,300.9 291.8,302.0 291.8,303.2 291.8,304.4 291.8,305.5 291.8,306.7 291.8,307.9 291.8,309.0 291.7,310.2 291.7,311.4 291.7,312.6 291.7,313.7 291.7,314.9 291.7,316.1 291.6,317.2 291.6,318.4 291.6,319.6 291.6,320.7 291.6,321.9 291.5,323.1 291.5,324.2 291.5,325.4 291.5,326.6 291.5,327.7 291.4,328.9 291.4,330.1 291.4,331.2 291.4,332.4 291.3,333.6 291.3,334.7 291.3,335.9 291.3,337.1 291.2,337.2 291.2,338.2 291.2,339.4 291.2,340.6 291.1,341.7 291.1,342.9 291.1,344.1 291.0,345.2 291.0,346.4 290.9,347.6 290.9,348.8 290.8,349.9 290.8,351.1 290.8,352.3 290.7,353.4 290.7,354.6 290.6,355.8 290.6,356.2 290.5,356.9 290.5,358.1 290.4,359.3 290.3,360.4 290.3,361.6 290.2,362.8 290.1,363.9 290.0,365.1 290.0,366.3 289.9,367.0 289.9,367.4 289.8,368.6 289.7,369.8 289.5,370.9 289.4,372.1 289.3,373.3 289.2,373.9 289.2,374.4 289.0,375.6 288.8,376.8 288.7,377.9 288.5,378.7 288.5,379.1 288.3,380.3 288.0,381.4 287.9,382.2 287.8,382.6 287.5,383.8 287.2,384.9 287.2,384.9 286.8,386.1 286.5,387.1 286.4,387.3 286.0,388.5 285.8,388.8 285.5,389.6 285.2,390.3 284.9,390.8 284.5,391.5 284.2,392.0 283.8,392.5 283.4,393.1 283.1,393.4 282.5,394.2 282.4,394.3 281.8,394.8 281.1,395.5 281.1,395.5 280.4,396.0 279.8,396.5 279.5,396.6 279.1,396.9 278.4,397.3 277.7,397.7 277.5,397.8 277.1,398.0 276.4,398.3 275.7,398.6 275.0,398.8 274.7,399.0 274.4,399.1 273.7,399.3 273.0,399.5 272.3,399.7 271.7,399.9 271.0,400.1 270.7,400.1 270.3,400.2 269.6,400.4 269.0,400.5 268.3,400.7 267.6,400.8 266.9,400.9 266.3,401.0 265.6,401.1 264.9,401.2 264.5,401.3 264.2,401.3 263.6,401.4 262.9,401.5 262.2,401.6 261.5,401.7 260.9,401.8 260.2,401.8 259.5,401.9 258.8,402.0 258.2,402.1 257.5,402.1 256.8,402.2 256.1,402.2 255.5,402.3 254.8,402.4 254.1,402.4 253.5,402.5 253.4,402.5 252.8,402.5 252.1,402.6 251.4,402.6 250.7,402.7 250.1,402.7 249.4,402.7 248.7,402.8 248.0,402.8 247.3,402.9 246.7,402.9 246.0,402.9 245.3,403.0 244.6,403.0 244.0,403.0 243.3,403.1 242.6,403.1 241.9,403.1 241.3,403.2 240.6,403.2 239.9,403.2 239.2,403.3 238.6,403.3 237.9,403.3 237.2,403.3 236.5,403.4 235.9,403.4 235.2,403.4 234.5,403.4 233.8,403.5 233.2,403.5 232.5,403.5 231.8,403.5 231.1,403.6 230.5,403.6 229.8,403.6 229.1,403.6 228.5,403.6 228.4,403.6 227.8,403.7 227.1,403.7 226.4,403.7 225.7,403.7 225.1,403.7 224.4,403.7 223.7,403.8 223.0,403.8 222.4,403.8 221.7,403.8 221.0,403.8 220.3,403.8 219.7,403.9 219.0,403.9 218.3,403.9 217.6,403.9 217.0,403.9 216.3,403.9 215.6,403.9 214.9,404.0 214.3,404.0 213.6,404.0 212.9,404.0 212.2,404.0 211.6,404.0 210.9,404.0 210.2,404.0 209.5,404.1 208.9,404.1 208.2,404.1 207.5,404.1 206.8,404.1 206.2,404.1 205.5,404.1 204.8,404.1 204.1,404.1 203.4,404.1 202.8,404.2 202.1,404.2 201.4,404.2 200.7,404.2 200.1,404.2 199.4,404.2 198.7,404.2 198.0,404.2 197.4,404.2 196.7,404.2 196.0,404.2 195.3,404.3 194.7,404.3 194.0,404.3 193.3,404.3 192.6,404.3 192.0,404.3 191.3,404.3 190.6,404.3 189.9,404.3 189.3,404.3 188.6,404.3 187.9,404.3 187.2,404.4 186.6,404.4 185.9,404.4 185.2,404.4 184.5,404.4 183.9,404.4 183.2,404.4 182.5,404.4 181.8,404.4 181.2,404.4 180.5,404.4 179.8,404.4 179.1,404.4 178.5,404.4 177.8,404.4 177.1,404.4 176.4,404.5 175.8,404.5 175.1,404.5 174.4,404.5 173.7,404.5 173.1,404.5 172.4,404.5 171.7,404.5 171.0,404.5 170.4,404.5 169.7,404.5 169.0,404.5 168.3,404.5 167.7,404.5 167.0,404.5 166.3,404.5 165.6,404.5 165.0,404.5 164.3,404.6 163.6,404.6 162.9,404.6 162.3,404.6 161.6,404.6 160.9,404.6 160.2,404.6 159.5,404.6 158.9,404.6 158.2,404.6 157.5,404.6 156.8,404.6 156.2,404.6 155.5,404.6 154.8,404.6 154.1,404.6 153.5,404.6 152.8,404.6 152.1,404.6 151.4,404.6 150.8,404.6 150.1,404.6 149.4,404.6 148.7,404.7 148.1,404.7 147.4,404.7 146.7,404.7 146.0,404.7 145.4,404.7 144.7,404.7 144.0,404.7 143.3,404.7 142.7,404.7 142.0,404.7 141.3,404.7 140.6,404.7 140.0,404.7 139.3,404.7 138.6,404.7 137.9,404.7 137.3,404.7 136.6,404.7 135.9,404.7 135.2,404.7 134.6,404.7 133.9,404.7 133.2,404.7 132.5,404.7 131.9,404.7 131.2,404.7 130.5,404.7 129.8,404.7 129.2,404.7 128.5,404.8 127.8,404.8 127.1,404.8 126.5,404.8 125.8,404.8 125.1,404.8 124.4,404.8 123.8,404.8 123.1,404.8 122.4,404.8 121.7,404.8 121.1,404.8 120.4,404.8 119.7,404.8 119.0,404.8 118.4,404.8 117.7,404.8 117.0,404.8" fill="none" stroke="#58d2c4" stroke-width="1.5" />
<polyline points="292.6,101.2 292.6,102.4 292.6,103.5 292.6,104.7 292.6,105.9 292.6,107.0 292.6,108.2 292.6,109.4 292.6,110.5 292.6,111.7 292.6,112.9 292.6,114.0 292.6,115.2 292.6,116.4 292.6,117.5 292.6,118.7 292.6,119.9 292.6,121.1 292.6,122.2 292.6,123.4 292.6,124.6 292.6,125.7 292.6,126.9 292.6,128.1 292.6,129.2 292.6,130.4 292.6,131.6 292.6,132.7 292.6,133.9 292.6,135.1 292.6,136.2 292.6,137.4 292.6,138.6 292.6,139.7 292.6,140.9 292.6,142.1 292.6,143.2 292.6,144.4 292.6,145.6 292.6,146.7 292.6,147.9 292.6,149.1 292.6,150.2 292.6,151.4 292.6,152.6 292.6,153.7 292.6,154.9 292.6,156.1 292.6,157.2 292.6,158.4 292.6,159.6 292.6,160.8 292.6,161.9 292.6,163.1 292.6,164.3 292.6,165.4 292.6,166.6 292.6,167.8 292.6,168.9 292.6,170.1 292.6,171.3 292.6,172.4 292.6,173.6 292.6,174.8 292.6,175.9 292.6,177.1 292.6,178.3 292.6,179.4 292.6,180.6 292.6,181.8 292.6,182.9 292.6,184.1 292.6,185.3 292.6,186.4 292.6,187.6 292.6,188.8 292.6,189.9 292.6,191.1 292.6,192.3 292.6,193.4 292.6,194.6 292.6,195.8 292.6,197.0 292.6,198.1 292.6,199.3 292.6,200.5 292.6,201.6 292.6,202.8 292.6,204.0 292.6,205.1 292.6,206.3 292.6,207.5 292.6,208.6 292.6,209.8 292.6,211.0 292.6,212.1 292.6,213.3 292.6,214.5 292.6,215.6 292.6,216.8 292.6,218.0 292.6,219.1 292.6,220.3 292.6,221.5 292.6,222.6 292.6,223.8 292.6,225.0 292.6,226.1 292.6,227.3 292.6,228.5 292.6,229.6 292.6,230.8 292.6,232.0 292.6,233.1 292.6,234.3 292.6,235.5 292.6,236.7 292.6,237.8 292.6,239.0 292.6,240.2 292.6,241.3 292.6,242.5 292.6,243.7 292.6,244.8 292.6,246.0 292.6,247.2 292.6,248.3 292.6,249.5 292.6,250.7 292.6,251.8 292.6,253.0 292.6,254.2 292.6,255.3 292.6,256.5 292.6,257.7 292.6,258.8 292.6,260.0 292.6,261.2 292.6,262.3 292.6,263.5 292.6,264.7 292.6,265.8 292.6,267.0 292.6,268.2 292.6,269.3 292.6,270.5 292.6,271.7 292.6,272.9 292.6,274.0 292.6,275.2 292.6,276.4 292.6,277.5 292.6,278.7 292.6,279.9 292.6,281.0 292.6,282.2 292.6,283.4 292.6,284.5 292.6,285.7 292.6,286.9 292.6,288.0 292.6,289.2 292.6,290.4 292.6,291.5 292.6,292.7 292.6,293.9 292.6,295.0 292.6,296.2 292.6,297.4 292.6,298.5 292.6,299.7 292.6,300.9 292.6,302.0 292.6,303.2 292.6,304.4 292.6,305.5 292.6,306.7 292.6,307.9 292.6,309.0 292.6,310.2 292.6,311.4 292.6,312.6 292.6,313.7 292.6,314.9 292.6,316.1 292.6,317.2 292.6,318.4 292.6,319.6 292.6,320.7 292.6,321.9 292.6,323.1 292.6,324.2 292.6,325.4 292.6,326.6 292.6,327.7 292.6,328.9 292.6,330.1 292.6,331.2 292.6,332.4 292.6,333.6 292.6,334.7 292.6,335.9 292.6,337.1 292.6,338.2 292.6,339.4 292.6,340.6 292.6,341.7 292.6,342.9 292.6,344.1 292.6,345.2 292.6,346.4 292.6,347.6 292.6,348.8 292.6,349.9 292.6,351.1 292.6,352.3 292.6,353.4 292.6,354.6 292.6,355.8 292.6,356.9 292.6,358.1 292.6,359.3 292.6,360.4 292.6,361.6 292.6,362.8 292.6,363.9 292.6,365.1 292.6,366.3 292.5,367.4 292.5,368.6 292.5,369.8 292.5,370.9 292.5,372.1 292.5,373.3 292.5,374.4 292.5,375.6 292.5,376.8 292.5,377.9 292.5,379.1 292.5,380.3 292.5,381.4 292.5,382.6 292.5,383.8 292.5,384.9 292.5,386.1 292.5,387.3 292.5,388.5 292.5,389.6 292.5,390.8 292.4,392.0 292.4,393.1 292.4,394.3 292.4,395.5 292.3,396.6 292.3,397.8 292.2,399.0 292.2,400.1 292.0,401.3 291.9,401.7 291.7,402.5 291.2,403.2 290.8,403.6 290.6,403.8 289.9,404.0 289.2,404.2 288.5,404.3 287.9,404.4 287.2,404.4 286.5,404.5 285.8,404.5 285.2,404.5 284.5,404.5 283.8,404.6 283.1,404.6 282.5,404.6 281.8,404.6 281.1,404.6 280.4,404.6 279.8,404.6 279.1,404.7 278.4,404.7 277.7,404.7 277.1,404.7 276.4,404.7 275.7,404.7 275.0,404.7 274.4,404.7 273.7,404.7 273.0,404.7 272.3,404.7 271.7,404.7 271.0,404.7 270.3,404.7 269.6,404.7 269.0,404.7 268.3,404.7 267.6,404.7 266.9,404.7 266.3,404.7 265.6,404.7 264.9,404.7 264.2,404.7 263.6,404.7 262.9,404.7 262.2,404.7 261.5,404.7 260.9,404.7 260.2,404.7 259.5,404.7 258.8,404.7 258.2,404.8 257.5,404.8 256.8,404.8 256.1,404.8 255.5,404.8 254.8,404.8 254.1,404.8 253.4,404.8 252.8,404.8 252.1,404.8 251.4,404.8 250.7,404.8 250.1,404.8 249.4,404.8 248.7,404.8 248.0,404.8 247.3,404.8 246.7,404.8 246.0,404.8 245.3,404.8 244.6,404.8 244.0,404.8 243.3,404.8 242.6,404.8 241.9,404.8 241.3,404.8 240.6,404.8 239.9,404.8 239.2,404.8 238.6,404.8 237.9,404.8 237.2,404.8 236.5,404.8 235.9,404.8 235.2,404.8 234.5,404.8 233.8,404.8 233.2,404.8 232.5,404.8 231.8,404.8 231.1,404.8 230.5,404.8 229.8,404.8 229.1,404.8 228.4,404.8 227.8,404.8 227.1,404.8 226.4,404.8 225.7,404.8 225.1,404.8 224.4,404.8 223.7,404.8 223.0,404.8 222.4,404.8 221.7,404.8 221.0,404.8 220.3,404.8 219.7,404.8 219.0,404.8 218.3,404.8 217.6,404.8 217.0,404.8 216.3,404.8 215.6,404.8 214.9,404.8 214.3,404.8 213.6,404.8 212.9,404.8 212.2,404.8 211.6,404.8 210.9,404.8 210.2,404.8 209.5,404.8 208.9,404.8 208.2,404.8 207.5,404.8 206.8,404.8 206.2,404.8 205.5,404.8 204.8,404.8 204.1,404.8 203.4,404.8 202.8,404.8 202.1,404.8 201.4,404.8 200.7,404.8 200.1,404.8 199.4,404.8 198.7,404.8 198.0,404.8 197.4,404.8 196.7,404.8 196.0,404.8 195.3,404.8 194.7,404.8 194.0,404.8 193.3,404.8 192.6,404.8 192.0,404.8 191.3,404.8 190.6,404.8 189.9,404.8 189.3,404.8 188.6,404.8 187.9,404.8 187.2,404.8 186.6,404.8 185.9,404.8 185.2,404.8 184.5,404.8 183.9,404.8 183.2,404.8 182.5,404.8 181.8,404.8 181.2,404.8 180.5,404.8 179.8,404.8 179.1,404.8 178.5,404.8 177.8,404.8 177.1,404.8 176.4,404.8 175.8,404.8 175.1,404.8 174.4,404.8 173.7,404.8 173.1,404.8 172.4,404.8 171.7,404.8 171.0,404.8 170.4,404.8 169.7,404.8 169.0,404.8 168.3,404.8 167.7,404.8 167.0,404.8 166.3,404.8 165.6,404.8 165.0,404.8 164.3,404.8 163.6,404.8 162.9,404.8 162.3,404.8 161.6,404.8 160.9,404.8 160.2,404.8 159.5,404.8 158.9,404.8 158.2,404.8 157.5,404.8 156.8,404.8 156.2,404.8 155.5,404.8 154.8,404.8 154.1,404.8 153.5,404.8 152.8,404.8 152.1,404.8 151.4,404.8 150.8,404.8 150.1,404.8 149.4,404.8 148.7,404.8 148.1,404.8 147.4,404.8 146.7,404.8 146.0,404.8 145.4,404.8 144.7,404.8 144.0,404.8 143.3,404.8 142.7,404.8 142.0,404.8 141.3,404.8 140.6,404.8 140.0,404.8 139.3,404.8 138.6,404.8 137.9,404.8 137.3,404.8 136.6,404.8 135.9,404.8 135.2,404.8 134.6,404.8 133.9,404.8 133.2,404.8 132.5,404.8 131.9,404.8 131.2,404.8 130.5,404.8 129.8,404.8 129.2,404.8 128.5,404.8 127.8,404.8 127.1,404.8 126.5,404.8 125.8,404.8 125.1,404.8 124.4,404.8 123.8,404.8 123.1,404.8 122.4,404.8 121.7,404.8 121.1,404.8 120.4,404.8 119.7,404.8 119.0,404.8 118.4,404.8 117.7,404.8 117.0,404.8" fill="none" stroke="#58d2c4" stroke-width="1.5" stroke-dasharray="4.7 7.4 1.5 7.9 1.5 7.9" />
<line x1="116.80" y1="116.60" x2="139.00" y2="116.60" stroke="#a3a3a3" stroke-width="1.25" />
<line x1="116.80" y1="111.60" x2="116.80" y2="121.60" stroke="#a3a3a3" stroke-width="1.25" />
<line x1="139.00" y1="111.60" x2="139.00" y2="121.60" stroke="#a3a3a3" stroke-width="1.25" />
<line x1="127.60" y1="110.10" x2="127.60" y2="123.40" stroke="#a3a3a3" stroke-width="1.25" />
<line x1="122.60" y1="110.10" x2="132.60" y2="110.10" stroke="#a3a3a3" stroke-width="1.25" />
<line x1="122.60" y1="123.40" x2="132.60" y2="123.40" stroke="#a3a3a3" stroke-width="1.25" />
<line x1="139.30" y1="98.70" x2="154.40" y2="98.70" stroke="#a3a3a3" stroke-width="1.25" />
<line x1="139.30" y1="93.70" x2="139.30" y2="103.70" stroke="#a3a3a3" stroke-width="1.25" />
<line x1="154.40" y1="93.70" x2="154.40" y2="103.70" stroke="#a3a3a3" stroke-width="1.25" />
<line x1="146.90" y1="87.30" x2="146.90" y2="121.50" stroke="#a3a3a3" stroke-width="1.25" />
<line x1="141.90" y1="87.30" x2="151.90" y2="87.30" stroke="#a3a3a3" stroke-width="1.25" />
<line x1="141.90" y1="121.50" x2="151.90" y2="121.50" stroke="#a3a3a3" stroke-width="1.25" />
<line x1="139.30" y1="104.90" x2="154.40" y2="104.90" stroke="#a3a3a3" stroke-width="1.25" />
<line x1="139.30" y1="99.90" x2="139.30" y2="109.90" stroke="#a3a3a3" stroke-width="1.25" />
<line x1="154.40" y1="99.90" x2="154.40" y2="109.90" stroke="#a3a3a3" stroke-width="1.25" />
<line x1="139.30" y1="114.40" x2="154.40" y2="114.40" stroke="#a3a3a3" stroke-width="1.25" />
<line x1="139.30" y1="109.40" x2="139.30" y2="119.40" stroke="#a3a3a3" stroke-width="1.25" />
<line x1="154.40" y1="109.40" x2="154.40" y2="119.40" stroke="#a3a3a3" stroke-width="1.25" />
<line x1="164.40" y1="80.20" x2="164.40" y2="104.40" stroke="#a3a3a3" stroke-width="1.25" />
<line x1="159.40" y1="80.20" x2="169.40" y2="80.20" stroke="#a3a3a3" stroke-width="1.25" />
<line x1="159.40" y1="104.40" x2="169.40" y2="104.40" stroke="#a3a3a3" stroke-width="1.25" />
<line x1="158.20" y1="109.90" x2="173.40" y2="109.90" stroke="#a3a3a3" stroke-width="1.25" />
<line x1="158.20" y1="104.90" x2="158.20" y2="114.90" stroke="#a3a3a3" stroke-width="1.25" />
<line x1="173.40" y1="104.90" x2="173.40" y2="114.90" stroke="#a3a3a3" stroke-width="1.25" />
<line x1="187.90" y1="94.40" x2="187.90" y2="124.30" stroke="#a3a3a3" stroke-width="1.25" />
<line x1="182.90" y1="94.40" x2="192.90" y2="94.40" stroke="#a3a3a3" stroke-width="1.25" />
<line x1="182.90" y1="124.30" x2="192.90" y2="124.30" stroke="#a3a3a3" stroke-width="1.25" />
<line x1="184.30" y1="88.50" x2="235.90" y2="88.50" stroke="#a3a3a3" stroke-width="1.25" />
<line x1="184.30" y1="83.50" x2="184.30" y2="93.50" stroke="#a3a3a3" stroke-width="1.25" />
<line x1="235.90" y1="83.50" x2="235.90" y2="93.50" stroke="#a3a3a3" stroke-width="1.25" />
<line x1="210.10" y1="78.90" x2="210.10" y2="98.00" stroke="#a3a3a3" stroke-width="1.25" />
<line x1="205.10" y1="78.90" x2="215.10" y2="78.90" stroke="#a3a3a3" stroke-width="1.25" />
<line x1="205.10" y1="98.00" x2="215.10" y2="98.00" stroke="#a3a3a3" stroke-width="1.25" />
<line x1="184.30" y1="103.00" x2="235.90" y2="103.00" stroke="#a3a3a3" stroke-width="1.25" />
<line x1="184.30" y1="98.00" x2="184.30" y2="108.00" stroke="#a3a3a3" stroke-width="1.25" />
<line x1="235.90" y1="98.00" x2="235.90" y2="108.00" stroke="#a3a3a3" stroke-width="1.25" />
<line x1="248.30" y1="80.70" x2="248.30" y2="97.30" stroke="#a3a3a3" stroke-width="1.25" />
<line x1="243.30" y1="80.70" x2="253.30" y2="80.70" stroke="#a3a3a3" stroke-width="1.25" />
<line x1="243.30" y1="97.30" x2="253.30" y2="97.30" stroke="#a3a3a3" stroke-width="1.25" />
<line x1="250.40" y1="102.60" x2="260.00" y2="102.60" stroke="#a3a3a3" stroke-width="1.25" />
<line x1="250.40" y1="97.60" x2="250.40" y2="107.60" stroke="#a3a3a3" stroke-width="1.25" />
<line x1="260.00" y1="97.60" x2="260.00" y2="107.60" stroke="#a3a3a3" stroke-width="1.25" />
<line x1="255.70" y1="93.80" x2="255.70" y2="111.30" stroke="#a3a3a3" stroke-width="1.25" />
<line x1="250.70" y1="93.80" x2="260.70" y2="93.80" stroke="#a3a3a3" stroke-width="1.25" />
<line x1="250.70" y1="111.30" x2="260.70" y2="111.30" stroke="#a3a3a3" stroke-width="1.25" />
<line x1="289.00" y1="62.60" x2="289.00" y2="92.00" stroke="#a3a3a3" stroke-width="1.25" />
<line x1="284.00" y1="62.60" x2="294.00" y2="62.60" stroke="#a3a3a3" stroke-width="1.25" />
<line x1="284.00" y1="92.00" x2="294.00" y2="92.00" stroke="#a3a3a3" stroke-width="1.25" />
<line x1="331.70" y1="92.60" x2="344.50" y2="92.60" stroke="#a3a3a3" stroke-width="1.25" />
<line x1="331.70" y1="87.60" x2="331.70" y2="97.60" stroke="#a3a3a3" stroke-width="1.25" />
<line x1="344.50" y1="87.60" x2="344.50" y2="97.60" stroke="#a3a3a3" stroke-width="1.25" />
<line x1="338.20" y1="80.40" x2="338.20" y2="104.90" stroke="#a3a3a3" stroke-width="1.25" />
<line x1="333.20" y1="80.40" x2="343.20" y2="80.40" stroke="#a3a3a3" stroke-width="1.25" />
<line x1="333.20" y1="104.90" x2="343.20" y2="104.90" stroke="#a3a3a3" stroke-width="1.25" />
<line x1="363.20" y1="64.50" x2="389.60" y2="64.50" stroke="#a3a3a3" stroke-width="1.25" />
<line x1="363.20" y1="59.50" x2="363.20" y2="69.50" stroke="#a3a3a3" stroke-width="1.25" />
<line x1="389.60" y1="59.50" x2="389.60" y2="69.50" stroke="#a3a3a3" stroke-width="1.25" />
<line x1="376.50" y1="48.20" x2="376.50" y2="85.50" stroke="#a3a3a3" stroke-width="1.25" />
<line x1="371.50" y1="48.20" x2="381.50" y2="48.20" stroke="#a3a3a3" stroke-width="1.25" />
<line x1="371.50" y1="85.50" x2="381.50" y2="85.50" stroke="#a3a3a3" stroke-width="1.25" />
<line x1="363.20" y1="74.30" x2="389.60" y2="74.30" stroke="#a3a3a3" stroke-width="1.25" />
<line x1="363.20" y1="69.30" x2="363.20" y2="79.30" stroke="#a3a3a3" stroke-width="1.25" />
<line x1="389.60" y1="69.30" x2="389.60" y2="79.30" stroke="#a3a3a3" stroke-width="1.25" />
<line x1="358.50" y1="100.30" x2="389.60" y2="100.30" stroke="#a3a3a3" stroke-width="1.25" />
<line x1="358.50" y1="95.30" x2="358.50" y2="105.30" stroke="#a3a3a3" stroke-width="1.25" />
<line x1="389.60" y1="95.30" x2="389.60" y2="105.30" stroke="#a3a3a3" stroke-width="1.25" />
<line x1="376.50" y1="90.20" x2="376.50" y2="114.30" stroke="#a3a3a3" stroke-width="1.25" />
<line x1="371.50" y1="90.20" x2="381.50" y2="90.20" stroke="#a3a3a3" stroke-width="1.25" />
<line x1="371.50" y1="114.30" x2="381.50" y2="114.30" stroke="#a3a3a3" stroke-width="1.25" />
<line x1="391.20" y1="107.00" x2="431.90" y2="107.00" stroke="#a3a3a3" stroke-width="1.25" />
<line x1="391.20" y1="102.00" x2="391.20" y2="112.00" stroke="#a3a3a3" stroke-width="1.25" />
<line x1="431.90" y1="102.00" x2="431.90" y2="112.00" stroke="#a3a3a3" stroke-width="1.25" />
<line x1="411.60" y1="83.60" x2="411.60" y2="141.30" stroke="#a3a3a3" stroke-width="1.25" />
<line x1="406.60" y1="83.60" x2="416.60" y2="83.60" stroke="#a3a3a3" stroke-width="1.25" />
<line x1="406.60" y1="141.30" x2="416.60" y2="141.30" stroke="#a3a3a3" stroke-width="1.25" />
<line x1="411.60" y1="87.30" x2="411.60" y2="97.20" stroke="#a3a3a3" stroke-width="1.25" />
<line x1="406.60" y1="87.30" x2="416.60" y2="87.30" stroke="#a3a3a3" stroke-width="1.25" />
<line x1="406.60" y1="97.20" x2="416.60" y2="97.20" stroke="#a3a3a3" stroke-width="1.25" />
<line x1="391.20" y1="113.20" x2="431.90" y2="113.20" stroke="#a3a3a3" stroke-width="1.8" />
<line x1="391.20" y1="108.20" x2="391.20" y2="118.20" stroke="#a3a3a3" stroke-width="1.8" />
<line x1="431.90" y1="108.20" x2="431.90" y2="118.20" stroke="#a3a3a3" stroke-width="1.8" />
<line x1="359.70" y1="100.30" x2="521.80" y2="100.30" stroke="#a3a3a3" stroke-width="1.25" />
<line x1="359.70" y1="95.30" x2="359.70" y2="105.30" stroke="#a3a3a3" stroke-width="1.25" />
<line x1="521.80" y1="95.30" x2="521.80" y2="105.30" stroke="#a3a3a3" stroke-width="1.25" />
<line x1="439.80" y1="90.20" x2="439.80" y2="110.00" stroke="#a3a3a3" stroke-width="1.25" />
<line x1="434.80" y1="90.20" x2="444.80" y2="90.20" stroke="#a3a3a3" stroke-width="1.25" />
<line x1="434.80" y1="110.00" x2="444.80" y2="110.00" stroke="#a3a3a3" stroke-width="1.25" />
<line x1="116.50" y1="163.00" x2="127.00" y2="163.00" stroke="#c8c8c8" stroke-width="0.8" />
<line x1="116.50" y1="160.50" x2="116.50" y2="165.50" stroke="#c8c8c8" stroke-width="0.8" />
<line x1="127.00" y1="160.50" x2="127.00" y2="165.50" stroke="#c8c8c8" stroke-width="0.8" />
<line x1="116.50" y1="167.00" x2="127.00" y2="167.00" stroke="#c8c8c8" stroke-width="0.8" />
<line x1="116.50" y1="164.50" x2="116.50" y2="169.50" stroke="#c8c8c8" stroke-width="0.8" />
<line x1="127.00" y1="164.50" x2="127.00" y2="169.50" stroke="#c8c8c8" stroke-width="0.8" />
<line x1="116.50" y1="201.00" x2="127.00" y2="201.00" stroke="#c8c8c8" stroke-width="0.8" />
<line x1="116.50" y1="198.50" x2="116.50" y2="203.50" stroke="#c8c8c8" stroke-width="0.8" />
<line x1="127.00" y1="198.50" x2="127.00" y2="203.50" stroke="#c8c8c8" stroke-width="0.8" />
<line x1="116.50" y1="204.20" x2="127.00" y2="204.20" stroke="#c8c8c8" stroke-width="0.8" />
<line x1="116.50" y1="201.70" x2="116.50" y2="206.70" stroke="#c8c8c8" stroke-width="0.8" />
<line x1="127.00" y1="201.70" x2="127.00" y2="206.70" stroke="#c8c8c8" stroke-width="0.8" />
<line x1="116.50" y1="220.90" x2="127.00" y2="220.90" stroke="#c8c8c8" stroke-width="0.8" />
<line x1="116.50" y1="218.40" x2="116.50" y2="223.40" stroke="#c8c8c8" stroke-width="0.8" />
<line x1="127.00" y1="218.40" x2="127.00" y2="223.40" stroke="#c8c8c8" stroke-width="0.8" />
<line x1="116.50" y1="183.90" x2="127.00" y2="183.90" stroke="#c8c8c8" stroke-width="0.8" />
<line x1="116.50" y1="181.40" x2="116.50" y2="186.40" stroke="#c8c8c8" stroke-width="0.8" />
<line x1="127.00" y1="181.40" x2="127.00" y2="186.40" stroke="#c8c8c8" stroke-width="0.8" />
<line x1="116.50" y1="187.30" x2="127.00" y2="187.30" stroke="#c8c8c8" stroke-width="0.8" />
<line x1="116.50" y1="184.80" x2="116.50" y2="189.80" stroke="#c8c8c8" stroke-width="0.8" />
<line x1="127.00" y1="184.80" x2="127.00" y2="189.80" stroke="#c8c8c8" stroke-width="0.8" />
<line x1="116.50" y1="194.50" x2="127.00" y2="194.50" stroke="#c8c8c8" stroke-width="0.8" />
<line x1="116.50" y1="192.00" x2="116.50" y2="197.00" stroke="#c8c8c8" stroke-width="0.8" />
<line x1="127.00" y1="192.00" x2="127.00" y2="197.00" stroke="#c8c8c8" stroke-width="0.8" />
<circle cx="120.30" cy="101.10" r="3.5" fill="#f46a3a" stroke="none" stroke-width="0"/>
<circle cx="126.40" cy="101.10" r="3.5" fill="#ff1f10" stroke="none" stroke-width="0"/>
<circle cx="134.60" cy="101.10" r="3.5" fill="#ff1f10" stroke="none" stroke-width="0"/>
<circle cx="117.20" cy="101.10" r="3.5" fill="#8000ff" stroke="none" stroke-width="0"/>
<circle cx="167.70" cy="118.80" r="3.5" fill="#ff1f10" stroke="none" stroke-width="0"/>
<circle cx="158.10" cy="124.30" r="3.5" fill="#ff4826" stroke="none" stroke-width="0"/>
<circle cx="136.00" cy="153.90" r="3.5" fill="#d0dc7a" stroke="none" stroke-width="0"/>
<circle cx="214.00" cy="107.30" r="3.5" fill="#ff1f10" stroke="none" stroke-width="0"/>
<circle cx="242.00" cy="104.30" r="3.5" fill="#ff1f10" stroke="none" stroke-width="0"/>
<circle cx="250.10" cy="132.20" r="3.5" fill="#ff1f10" stroke="none" stroke-width="0"/>
<circle cx="223.70" cy="157.60" r="3.5" fill="#ff1f10" stroke="none" stroke-width="0"/>
<circle cx="177.00" cy="224.90" r="3.5" fill="#ff4826" stroke="none" stroke-width="0"/>
<circle cx="166.10" cy="246.60" r="3.5" fill="#f46a3a" stroke="none" stroke-width="0"/>
<circle cx="140.30" cy="313.20" r="3.5" fill="#d0dc7a" stroke="none" stroke-width="0"/>
<circle cx="125.60" cy="367.40" r="3.5" fill="#8000ff" stroke="none" stroke-width="0"/>
<circle cx="256.60" cy="266.90" r="3.5" fill="#ff1f10" stroke="none" stroke-width="0"/>
<circle cx="232.60" cy="315.60" r="3.5" fill="#ff1f10" stroke="none" stroke-width="0"/>
<circle cx="185.70" cy="367.90" r="3.5" fill="#ff4826" stroke="none" stroke-width="0"/>
<circle cx="174.30" cy="376.40" r="3.5" fill="#f46a3a" stroke="none" stroke-width="0"/>
<circle cx="145.30" cy="392.70" r="3.5" fill="#d0dc7a" stroke="none" stroke-width="0"/>
<circle cx="127.30" cy="400.60" r="3.5" fill="#8000ff" stroke="none" stroke-width="0"/>
<circle cx="131.70" cy="404.70" r="3.5" fill="#8000ff" stroke="none" stroke-width="0"/>
<circle cx="140.50" cy="404.70" r="3.5" fill="#8000ff" stroke="none" stroke-width="0"/>
<circle cx="155.90" cy="404.70" r="3.5" fill="#d0dc7a" stroke="none" stroke-width="0"/>
<circle cx="173.90" cy="404.70" r="3.5" fill="#d0dc7a" stroke="none" stroke-width="0"/>
<circle cx="190.30" cy="404.30" r="3.5" fill="#f46a3a" stroke="none" stroke-width="0"/>
<circle cx="203.00" cy="404.00" r="3.5" fill="#ff4826" stroke="none" stroke-width="0"/>
<circle cx="213.10" cy="404.70" r="3.5" fill="#f46a3a" stroke="none" stroke-width="0"/>
<circle cx="225.30" cy="404.70" r="3.5" fill="#ff4826" stroke="none" stroke-width="0"/>
<circle cx="247.40" cy="402.40" r="3.5" fill="#ff1f10" stroke="none" stroke-width="0"/>
<circle cx="262.50" cy="404.60" r="3.5" fill="#ff1f10" stroke="none" stroke-width="0"/>
<circle cx="266.80" cy="400.30" r="3.5" fill="#ff1f10" stroke="none" stroke-width="0"/>
<circle cx="276.30" cy="404.80" r="3.5" fill="#ff1f10" stroke="none" stroke-width="0"/>
<rect x="117.50" y="158.50" width="9.0" height="9.0" fill="#000" stroke="none" stroke-width="0"/>
<rect x="117.50" y="162.50" width="9.0" height="9.0" fill="#000" stroke="none" stroke-width="0"/>
<rect x="120.60" y="183.10" width="8.4" height="8.4" fill="#fff" stroke="#000" stroke-width="1.1"/>
<rect x="115.60" y="179.70" width="8.4" height="8.4" fill="#fff" stroke="#000" stroke-width="1.1"/>
<rect x="116.20" y="190.30" width="8.4" height="8.4" fill="#fff" stroke="#000" stroke-width="1.1"/>
<rect x="117.70" y="196.50" width="9.0" height="9.0" fill="#000" stroke="none" stroke-width="0"/>
<rect x="116.10" y="199.70" width="9.0" height="9.0" fill="#000" stroke="none" stroke-width="0"/>
<rect x="117.50" y="216.40" width="9.0" height="9.0" fill="#000" stroke="none" stroke-width="0"/>
<rect x="123.10" y="112.10" width="9.0" height="9.0" fill="#000" stroke="none" stroke-width="0"/>
<rect x="144.10" y="116.30" width="8.4" height="8.4" fill="#fff" stroke="#000" stroke-width="1.1"/>
<circle cx="146.90" cy="98.70" r="4.6" fill="#000" stroke="none" stroke-width="0"/>
<circle cx="146.90" cy="104.90" r="4.6" fill="#000" stroke="none" stroke-width="0"/>
<circle cx="146.90" cy="114.40" r="4.6" fill="#000" stroke="none" stroke-width="0"/>
<circle cx="164.40" cy="95.20" r="4.6" fill="#000" stroke="none" stroke-width="0"/>
<circle cx="210.10" cy="88.50" r="4.6" fill="#000" stroke="none" stroke-width="0"/>
<circle cx="210.10" cy="103.40" r="4.6" fill="#000" stroke="none" stroke-width="0"/>
<circle cx="289.00" cy="75.90" r="4.6" fill="#000" stroke="none" stroke-width="0"/>
<circle cx="289.00" cy="79.40" r="4.6" fill="#000" stroke="none" stroke-width="0"/>
<circle cx="338.20" cy="92.60" r="4.6" fill="#000" stroke="none" stroke-width="0"/>
<circle cx="376.50" cy="64.50" r="4.6" fill="#000" stroke="none" stroke-width="0"/>
<circle cx="376.50" cy="74.30" r="4.6" fill="#000" stroke="none" stroke-width="0"/>
<circle cx="376.50" cy="100.30" r="4.6" fill="#000" stroke="none" stroke-width="0"/>
<rect x="144.10" y="116.30" width="8.4" height="8.4" fill="#fff" stroke="#000" stroke-width="1.1"/>
<circle cx="165.80" cy="109.90" r="4.3" fill="#fff" stroke="#000" stroke-width="1.1"/>
<circle cx="187.90" cy="109.30" r="4.3" fill="#fff" stroke="#000" stroke-width="1.1"/>
<circle cx="226.80" cy="102.00" r="4.3" fill="#fff" stroke="#000" stroke-width="1.1"/>
<circle cx="248.30" cy="89.80" r="4.3" fill="#fff" stroke="#000" stroke-width="1.1"/>
<circle cx="255.70" cy="102.60" r="4.3" fill="#fff" stroke="#000" stroke-width="1.1"/>
<circle cx="289.00" cy="90.60" r="4.3" fill="#fff" stroke="#000" stroke-width="1.1"/>
<rect x="407.0" y="101.9" width="9.2" height="16.8" fill="#000"/>
<rect x="435.60" y="96.10" width="8.4" height="8.4" fill="#fff" stroke="#000" stroke-width="1.1"/>
<rect x="112.20" y="400.00" width="9.6" height="9.6" fill="#ec9428" stroke="none" stroke-width="0"/>
<rect x="288.00" y="96.60" width="9.2" height="9.2" fill="#4f4fb8" stroke="none" stroke-width="0"/>
<rect x="105.0" y="19.0" width="470.0" height="410.4" fill="none" stroke="#000" stroke-width="1.7"/>
<line x1="101.50" y1="19.00" x2="105.00" y2="19.00" stroke="#000" stroke-width="1.5" />
<text x="96.80" y="22.60" font-family="'Liberation Sans', sans-serif" font-size="10" font-weight="bold" font-style="normal" text-anchor="end" fill="#000" >100</text>
<line x1="101.50" y1="101.08" x2="105.00" y2="101.08" stroke="#000" stroke-width="1.5" />
<text x="96.80" y="104.68" font-family="'Liberation Sans', sans-serif" font-size="10" font-weight="bold" font-style="normal" text-anchor="end" fill="#000" >0</text>
<line x1="101.50" y1="183.16" x2="105.00" y2="183.16" stroke="#000" stroke-width="1.5" />
<text x="96.80" y="186.76" font-family="'Liberation Sans', sans-serif" font-size="10" font-weight="bold" font-style="normal" text-anchor="end" fill="#000" ><tspan font-size="12.4" dy="1.7">–</tspan><tspan dx="1.4" dy="-0.7">100</tspan></text>
<line x1="101.50" y1="265.24" x2="105.00" y2="265.24" stroke="#000" stroke-width="1.5" />
<text x="96.80" y="268.84" font-family="'Liberation Sans', sans-serif" font-size="10" font-weight="bold" font-style="normal" text-anchor="end" fill="#000" ><tspan font-size="12.4" dy="1.7">–</tspan><tspan dx="1.4" dy="-0.7">200</tspan></text>
<line x1="101.50" y1="347.32" x2="105.00" y2="347.32" stroke="#000" stroke-width="1.5" />
<text x="96.80" y="350.92" font-family="'Liberation Sans', sans-serif" font-size="10" font-weight="bold" font-style="normal" text-anchor="end" fill="#000" ><tspan font-size="12.4" dy="1.7">–</tspan><tspan dx="1.4" dy="-0.7">300</tspan></text>
<line x1="101.50" y1="429.40" x2="105.00" y2="429.40" stroke="#000" stroke-width="1.5" />
<text x="96.80" y="433.00" font-family="'Liberation Sans', sans-serif" font-size="10" font-weight="bold" font-style="normal" text-anchor="end" fill="#000" ><tspan font-size="12.4" dy="1.7">–</tspan><tspan dx="1.4" dy="-0.7">400</tspan></text>
<line x1="105.00" y1="429.40" x2="105.00" y2="432.90" stroke="#000" stroke-width="1.5" />
<text x="105.00" y="444.20" font-family="'Liberation Sans', sans-serif" font-size="10" font-weight="bold" font-style="normal" text-anchor="middle" fill="#000" ><tspan font-size="12.4" dy="1.7">–</tspan><tspan dx="1.4" dy="-0.7">1.0</tspan></text>
<line x1="199.00" y1="429.40" x2="199.00" y2="432.90" stroke="#000" stroke-width="1.5" />
<text x="199.00" y="444.20" font-family="'Liberation Sans', sans-serif" font-size="10" font-weight="bold" font-style="normal" text-anchor="middle" fill="#000" ><tspan font-size="12.4" dy="1.7">–</tspan><tspan dx="1.4" dy="-0.7">0.5</tspan></text>
<line x1="293.00" y1="429.40" x2="293.00" y2="432.90" stroke="#000" stroke-width="1.5" />
<text x="293.00" y="444.20" font-family="'Liberation Sans', sans-serif" font-size="10" font-weight="bold" font-style="normal" text-anchor="middle" fill="#000" >0.0</text>
<line x1="387.00" y1="429.40" x2="387.00" y2="432.90" stroke="#000" stroke-width="1.5" />
<text x="387.00" y="444.20" font-family="'Liberation Sans', sans-serif" font-size="10" font-weight="bold" font-style="normal" text-anchor="middle" fill="#000" >0.5</text>
<line x1="481.00" y1="429.40" x2="481.00" y2="432.90" stroke="#000" stroke-width="1.5" />
<text x="481.00" y="444.20" font-family="'Liberation Sans', sans-serif" font-size="10" font-weight="bold" font-style="normal" text-anchor="middle" fill="#000" >1.0</text>
<line x1="575.00" y1="429.40" x2="575.00" y2="432.90" stroke="#000" stroke-width="1.5" />
<text x="575.00" y="444.20" font-family="'Liberation Sans', sans-serif" font-size="10" font-weight="bold" font-style="normal" text-anchor="middle" fill="#000" >1.5</text>
<text x="573.50" y="458.80" font-family="'Liberation Sans', sans-serif" font-size="10.6" font-weight="normal" font-style="normal" text-anchor="end" fill="#000" ><tspan font-size="13.5">×</tspan><tspan dx="0.6">10</tspan><tspan font-size="7.8" dy="-4.8">3</tspan></text>
<text x="338.50" y="475.40" font-family="'Liberation Sans', sans-serif" font-size="18.5" font-weight="bold" font-style="normal" text-anchor="middle" fill="#000" ><tspan font-family="'Liberation Serif', serif" font-style="italic" font-weight="normal" font-size="21">δ</tspan><tspan dx="0.6">D</tspan><tspan font-weight="normal" dx="4.2">(</tspan><tspan font-weight="normal" textLength="18" lengthAdjust="spacingAndGlyphs">‰</tspan><tspan font-weight="normal">)</tspan></text>
<g transform="translate(51.8,225.0) rotate(-90)">
<text x="0.00" y="0.00" font-family="'Liberation Sans', sans-serif" font-size="18.5" font-weight="bold" font-style="normal" text-anchor="middle" fill="#000" ><tspan font-family="'Liberation Serif', serif" font-style="italic" font-weight="normal" font-size="21">δ</tspan><tspan font-size="11.8" dx="4.2" dy="-6.8">15</tspan><tspan dy="6.8" dx="0.3">N</tspan><tspan font-weight="normal" dx="4.2">(</tspan><tspan font-weight="normal" textLength="18" lengthAdjust="spacingAndGlyphs">‰</tspan><tspan font-weight="normal">)</tspan></text>
</g>
<text x="-0.20" y="28.30" font-family="'Liberation Sans', sans-serif" font-size="37.5" font-weight="bold" font-style="normal" text-anchor="start" fill="#000" >a<tspan dx="0.2">)</tspan></text>
<rect x="336.3" y="239.8" width="233.5" height="184.3" rx="2" fill="#fff" fill-opacity="0.8" stroke="#d6d6d6" stroke-width="1"/>
<line x1="340.3" y1="248.2" x2="371.8" y2="248.2" stroke="#58d2c4" stroke-width="1.5" stroke-dasharray="10.9 2.9 1.6 2.9"/>
<text x="379.80" y="251.90" font-family="'Liberation Sans', sans-serif" font-size="10.6" font-weight="bold" font-style="normal" text-anchor="start" fill="#000" >Case - I (Magnetized), PHE @ 200 km</text>
<line x1="340.3" y1="263.3" x2="371.8" y2="263.3" stroke="#58d2c4" stroke-width="1.5" stroke-dasharray="7.7 7.5"/>
<text x="379.80" y="267.00" font-family="'Liberation Sans', sans-serif" font-size="10.6" font-weight="bold" font-style="normal" text-anchor="start" fill="#000" >Case - I (Magnetized), PHE @ 300 km</text>
<line x1="340.3" y1="278.4" x2="371.8" y2="278.4" stroke="#58d2c4" stroke-width="1.5" stroke-dasharray="1.5 1.56"/>
<text x="379.80" y="282.10" font-family="'Liberation Sans', sans-serif" font-size="10.6" font-weight="bold" font-style="normal" text-anchor="start" fill="#000" >Case - I (Magnetized), PHE @ 325 km</text>
<line x1="340.3" y1="293.6" x2="371.8" y2="293.6" stroke="#58d2c4" stroke-width="1.5" stroke-dasharray="1.5 7.6"/>
<text x="379.80" y="297.30" font-family="'Liberation Sans', sans-serif" font-size="10.6" font-weight="bold" font-style="normal" text-anchor="start" fill="#000" >Case - I (Magnetized), PHE @ 350 km</text>
<line x1="340.3" y1="308.7" x2="371.8" y2="308.7" stroke="#58d2c4" stroke-width="1.5"/>
<text x="379.80" y="312.40" font-family="'Liberation Sans', sans-serif" font-size="10.6" font-weight="bold" font-style="normal" text-anchor="start" fill="#000" >Case - I (Magnetized), PHE @ 401 km</text>
<line x1="340.3" y1="323.9" x2="371.8" y2="323.9" stroke="#58d2c4" stroke-width="1.5" stroke-dasharray="4.7 7.4 1.5 7.9 1.5 7.9"/>
<text x="379.80" y="327.60" font-family="'Liberation Sans', sans-serif" font-size="10.6" font-weight="bold" font-style="normal" text-anchor="start" fill="#000" >Case - I (Magnetized), PHE @ 500 km</text>
<text x="379.80" y="342.70" font-family="'Liberation Sans', sans-serif" font-size="10.6" font-weight="bold" font-style="normal" text-anchor="start" fill="#000" >Ilmenite 79035 (Lunar surface)</text>
<text x="379.80" y="357.90" font-family="'Liberation Sans', sans-serif" font-size="10.6" font-weight="bold" font-style="normal" text-anchor="start" fill="#000" >Ilmenite 71501 (Lunar surface)</text>
<text x="379.80" y="373.00" font-family="'Liberation Sans', sans-serif" font-size="10.6" font-weight="bold" font-style="normal" text-anchor="start" fill="#000" >Ilmenite 79035 (Entire depth profile)</text>
<text x="379.80" y="388.10" font-family="'Liberation Sans', sans-serif" font-size="10.6" font-weight="bold" font-style="normal" text-anchor="start" fill="#000" >Ilmenite 71501 (Entire depth profile)</text>
<text x="379.80" y="403.20" font-family="'Liberation Sans', sans-serif" font-size="10.6" font-weight="bold" font-style="normal" text-anchor="start" fill="#000" >Solar wind</text>
<text x="379.80" y="418.30" font-family="'Liberation Sans', sans-serif" font-size="10.6" font-weight="bold" font-style="normal" text-anchor="start" fill="#000" >Earth’s atmosphere</text>
<rect x="351.40" y="334.20" width="9.6" height="9.6" fill="#000" stroke="none" stroke-width="0"/>
<circle cx="356.20" cy="354.20" r="4.8" fill="#000" stroke="none" stroke-width="0"/>
<rect x="351.70" y="364.80" width="9.0" height="9.0" fill="#fff" stroke="#000" stroke-width="1.1"/>
<circle cx="356.20" cy="384.40" r="4.4" fill="#fff" stroke="#000" stroke-width="1.1"/>
<rect x="351.30" y="394.60" width="9.8" height="9.8" fill="#ec9428" stroke="none" stroke-width="0"/>
<rect x="351.30" y="409.70" width="9.8" height="9.8" fill="#4f4fb8" stroke="none" stroke-width="0"/>
<defs><linearGradient id="cba" gradientUnits="userSpaceOnUse" x1="0" y1="429.3" x2="0" y2="38.6"><stop offset="0.0000" stop-color="#ff1e14"/><stop offset="0.0667" stop-color="#ff4628"/><stop offset="0.1333" stop-color="#f56e46"/><stop offset="0.2000" stop-color="#eb915a"/><stop offset="0.2667" stop-color="#e1b46e"/><stop offset="0.3333" stop-color="#d2d27d"/><stop offset="0.3667" stop-color="#c8e182"/><stop offset="0.4333" stop-color="#b4f5a0"/><stop offset="0.5000" stop-color="#a0ffbe"/><stop offset="0.5833" stop-color="#7dffdc"/><stop offset="0.6667" stop-color="#70f8e8"/><stop offset="0.7167" stop-color="#5fd7eb"/><stop offset="0.7667" stop-color="#55aff0"/><stop offset="0.8333" stop-color="#508cfa"/><stop offset="0.8667" stop-color="#555aff"/><stop offset="0.9000" stop-color="#5f32ff"/><stop offset="0.9333" stop-color="#7814ff"/><stop offset="0.9667" stop-color="#870fff"/><stop offset="1.0000" stop-color="#8c0aff"/></linearGradient></defs>
<path d="M604.2,429.3 L604.2,38.6 L611.0,17.6 L617.8,38.6 L617.8,429.3 Z" fill="url(#cba)"/>
<path d="M604.2,38.6 L611.0,17.6 L617.8,38.6 Z" fill="#8c0aff"/>
<path d="M604.2,429.3 L604.2,38.6 L611.0,17.6 L617.8,38.6 L617.8,429.3 Z" fill="none" stroke="#000" stroke-width="1.4"/>
<line x1="617.80" y1="429.30" x2="621.30" y2="429.30" stroke="#000" stroke-width="1.4" />
<text x="625.20" y="432.90" font-family="'Liberation Sans', sans-serif" font-size="10" font-weight="bold" font-style="normal" text-anchor="start" fill="#000" >0.000</text>
<line x1="617.80" y1="364.18" x2="621.30" y2="364.18" stroke="#000" stroke-width="1.4" />
<text x="625.20" y="367.78" font-family="'Liberation Sans', sans-serif" font-size="10" font-weight="bold" font-style="normal" text-anchor="start" fill="#000" >0.005</text>
<line x1="617.80" y1="299.07" x2="621.30" y2="299.07" stroke="#000" stroke-width="1.4" />
<text x="625.20" y="302.67" font-family="'Liberation Sans', sans-serif" font-size="10" font-weight="bold" font-style="normal" text-anchor="start" fill="#000" >0.010</text>
<line x1="617.80" y1="233.95" x2="621.30" y2="233.95" stroke="#000" stroke-width="1.4" />
<text x="625.20" y="237.55" font-family="'Liberation Sans', sans-serif" font-size="10" font-weight="bold" font-style="normal" text-anchor="start" fill="#000" >0.015</text>
<line x1="617.80" y1="168.83" x2="621.30" y2="168.83" stroke="#000" stroke-width="1.4" />
<text x="625.20" y="172.43" font-family="'Liberation Sans', sans-serif" font-size="10" font-weight="bold" font-style="normal" text-anchor="start" fill="#000" >0.020</text>
<line x1="617.80" y1="103.72" x2="621.30" y2="103.72" stroke="#000" stroke-width="1.4" />
<text x="625.20" y="107.32" font-family="'Liberation Sans', sans-serif" font-size="10" font-weight="bold" font-style="normal" text-anchor="start" fill="#000" >0.025</text>
<line x1="617.80" y1="38.60" x2="621.30" y2="38.60" stroke="#000" stroke-width="1.4" />
<text x="625.20" y="42.20" font-family="'Liberation Sans', sans-serif" font-size="10" font-weight="bold" font-style="normal" text-anchor="start" fill="#000" >0.030</text>
<g transform="translate(684.3,233.8) rotate(-90)">
<text x="0.00" y="0.00" font-family="'Liberation Sans', sans-serif" font-size="16.7" font-weight="bold" font-style="normal" text-anchor="middle" fill="#000" >Solar wind mass fraction</text>
</g>
<polyline points="131.7,897.2 131.7,896.3 131.7,895.4 131.7,894.6 131.8,893.7 131.8,892.8 131.8,891.9 131.8,891.0 131.8,890.2 131.8,889.3 131.8,888.4 131.8,887.5 131.9,886.6 131.9,885.8 131.9,884.9 131.9,884.0 131.9,883.1 131.9,882.2 131.9,881.4 132.0,880.5 132.0,879.6 132.0,878.7 132.0,877.8 132.0,877.0 132.0,876.1 132.1,875.2 132.1,874.3 132.1,873.4 132.1,872.5 132.1,871.7 132.1,870.8 132.1,869.9 132.2,869.0 132.2,868.1 132.2,867.3 132.2,866.4 132.2,865.5 132.3,864.6 132.3,863.7 132.3,862.9 132.3,862.0 132.3,861.1 132.3,860.2 132.4,859.3 132.4,858.5 132.4,857.6 132.4,856.7 132.4,855.8 132.5,854.9 132.5,854.1 132.5,853.2 132.5,852.3 132.5,851.4 132.5,850.5 132.6,849.7 132.6,848.8 132.6,847.9 132.6,847.0 132.7,846.1 132.7,845.3 132.7,844.4 132.7,843.5 132.7,842.6 132.8,841.7 132.8,840.9 132.8,840.0 132.8,839.1 132.8,838.2 132.9,837.3 132.9,836.5 132.9,835.6 132.9,834.7 133.0,833.8 133.0,832.9 133.0,832.1 133.0,831.2 133.1,830.3 133.1,830.3 133.1,829.4 133.1,828.5 133.1,827.6 133.2,826.8 133.2,825.9 133.2,825.0 133.3,824.1 133.3,823.2 133.3,822.4 133.3,821.5 133.4,820.6 133.4,819.7 133.4,818.8 133.5,818.0 133.5,817.1 133.5,816.2 133.5,815.3 133.6,814.4 133.6,813.6 133.6,812.7 133.7,811.8 133.7,810.9 133.7,810.0 133.8,809.2 133.8,808.3 133.8,807.4 133.9,806.5 133.9,805.6 133.9,804.8 134.0,803.9 134.0,803.0 134.0,802.1 134.1,801.2 134.1,800.4 134.2,799.5 134.2,798.6 134.2,797.7 134.3,796.8 134.3,796.0 134.4,795.1 134.4,794.2 134.4,793.4 134.4,793.3 134.5,792.4 134.5,791.6 134.6,790.7 134.6,789.8 134.7,788.9 134.7,788.0 134.7,787.2 134.8,786.3 134.8,785.4 134.9,784.5 134.9,783.6 135.0,782.8 135.0,781.9 135.1,781.0 135.1,780.1 135.2,779.2 135.3,778.3 135.3,777.5 135.4,776.6 135.4,775.7 135.5,774.8 135.5,773.9 135.6,773.1 135.7,772.2 135.7,771.3 135.8,770.4 135.8,770.1 135.8,769.5 135.9,768.7 136.0,767.8 136.0,766.9 136.1,766.0 136.2,765.1 136.2,764.3 136.3,763.4 136.4,762.5 136.5,761.6 136.5,760.7 136.6,759.9 136.7,759.0 136.8,758.1 136.9,757.2 136.9,756.3 137.0,755.5 137.1,754.6 137.2,754.0 137.2,753.7 137.3,752.8 137.4,751.9 137.5,751.1 137.6,750.2 137.7,749.3 137.8,748.4 137.9,747.5 138.0,746.7 138.1,745.8 138.2,744.9 138.3,744.0 138.4,743.1 138.5,742.3 138.5,742.2 138.6,741.4 138.8,740.5 138.9,739.6 139.0,738.7 139.2,737.9 139.3,737.0 139.4,736.1 139.6,735.2 139.7,734.3 139.9,733.4 139.9,733.2 140.0,732.6 140.2,731.7 140.3,730.8 140.5,729.9 140.7,729.0 140.8,728.2 141.0,727.3 141.2,726.4 141.3,726.1 141.4,725.5 141.6,724.6 141.8,723.8 142.0,722.9 142.2,722.0 142.4,721.1 142.6,720.4 142.7,720.2 142.9,719.4 143.2,718.5 143.4,717.6 143.7,716.7 143.9,715.8 144.0,715.6 144.2,715.0 144.5,714.1 144.8,713.2 145.1,712.3 145.4,711.7 145.5,711.4 145.8,710.6 146.1,709.7 146.5,708.8 146.7,708.3 146.9,707.9 147.3,707.0 147.7,706.2 148.1,705.4 148.1,705.3 148.6,704.4 149.1,703.5 149.5,702.8 149.6,702.6 150.1,701.8 150.7,700.9 150.8,700.6 151.2,700.0 151.8,699.1 152.2,698.6 152.5,698.2 153.2,697.4 153.6,696.9 153.9,696.5 154.7,695.6 154.9,695.3 155.5,694.7 156.3,693.9 156.3,693.8 157.3,693.0 157.7,692.6 158.2,692.1 159.0,691.4 159.3,691.2 160.4,690.3 160.4,690.3 161.6,689.4 161.8,689.3 162.9,688.5 163.1,688.4 164.3,687.7 164.5,687.6 165.9,686.8 165.9,686.8 167.2,686.1 167.5,685.9 168.6,685.4 169.4,685.0 170.0,684.8 171.4,684.2 171.4,684.1 172.7,683.6 173.6,683.3 174.1,683.1 175.5,682.6 176.0,682.4 176.8,682.1 178.2,681.7 178.8,681.5 179.6,681.3 180.9,680.9 181.8,680.6 182.3,680.5 183.7,680.2 185.0,679.8 185.3,679.7 186.4,679.5 187.8,679.2 189.1,678.9 189.2,678.9 190.5,678.6 191.9,678.3 193.2,678.1 193.8,678.0 194.6,677.8 196.0,677.6 197.3,677.4 198.7,677.2 199.0,677.1 200.1,676.9 201.4,676.7 202.8,676.5 204.2,676.4 205.2,676.2 205.5,676.2 206.9,676.0 208.3,675.8 209.6,675.7 211.0,675.5 212.4,675.4 212.6,675.3 213.7,675.2 215.1,675.1 216.5,674.9 217.8,674.8 219.2,674.7 220.6,674.5 221.5,674.5 221.9,674.4 223.3,674.3 224.7,674.2 226.0,674.1 227.4,674.0 228.8,673.9 230.1,673.8 231.5,673.7 232.5,673.6 232.9,673.6 234.2,673.5 235.6,673.4 237.0,673.3 238.3,673.2 239.7,673.1 241.1,673.0 242.5,672.9 243.8,672.9 245.2,672.8 246.4,672.7 246.6,672.7 247.9,672.6 249.3,672.5 250.7,672.5 252.0,672.4 253.4,672.3 254.8,672.3 256.1,672.2 257.5,672.1 258.9,672.1 260.2,672.0 261.6,672.0 263.0,671.9 264.3,671.8 264.8,671.8 265.7,671.8 267.1,671.7 268.4,671.7 269.8,671.6 271.2,671.6 272.5,671.5 273.9,671.5 275.3,671.4 276.6,671.4 278.0,671.3 279.4,671.3 280.7,671.2 282.1,671.2 283.5,671.1 284.8,671.1 286.2,671.0 287.6,671.0 288.9,671.0 289.8,670.9 290.3,670.9 291.7,670.9 293.0,670.8 294.4,670.8 295.8,670.8 297.1,670.7 298.5,670.7 299.9,670.7 301.2,670.6 302.6,670.6 304.0,670.6 305.3,670.5 306.7,670.5 308.1,670.5 309.4,670.4 310.8,670.4 312.2,670.4 313.6,670.3 314.9,670.3 316.3,670.3 317.7,670.2 319.0,670.2 320.4,670.2 321.8,670.1 323.1,670.1 324.5,670.1 325.9,670.1 326.0,670.1 327.2,670.0 328.6,670.0 330.0,670.0 331.3,670.0 332.7,669.9 334.1,669.9 335.4,669.9 336.8,669.9 338.2,669.8 339.5,669.8 340.9,669.8 342.3,669.8 343.6,669.7 345.0,669.7 346.4,669.7 347.7,669.7 349.1,669.7 350.5,669.6 351.8,669.6 353.2,669.6 354.6,669.6 355.9,669.5 357.3,669.5 358.7,669.5 360.0,669.5 361.4,669.5 362.8,669.4 364.1,669.4 365.5,669.4 366.9,669.4 368.2,669.4 369.6,669.4 371.0,669.3 372.3,669.3 373.7,669.3 375.1,669.3 376.4,669.3 377.8,669.2 379.2,669.2 380.5,669.2 381.9,669.2 383.3,669.2 383.3,669.2 384.7,669.2 386.0,669.1 387.4,669.1 388.8,669.1 390.1,669.1 391.5,669.1 392.9,669.1 394.2,669.1 395.6,669.0 397.0,669.0 398.3,669.0 399.7,669.0 401.1,669.0 402.4,669.0 403.8,669.0 405.2,668.9 406.5,668.9 407.9,668.9 409.3,668.9 410.6,668.9 412.0,668.9 413.4,668.9 414.7,668.8 416.1,668.8 417.5,668.8 418.8,668.8 420.2,668.8 421.6,668.8 422.9,668.8 424.3,668.8 425.7,668.7 427.0,668.7 428.4,668.7 429.8,668.7 431.1,668.7 432.5,668.7 433.9,668.7 435.2,668.7 436.6,668.7 438.0,668.6 439.3,668.6 440.7,668.6 442.1,668.6 443.4,668.6 444.8,668.6 446.2,668.6 447.5,668.6 448.9,668.6 450.3,668.5 451.6,668.5 453.0,668.5 454.4,668.5 455.8,668.5 457.1,668.5 458.5,668.5 459.9,668.5 461.2,668.5 462.6,668.5 464.0,668.4 465.3,668.4 466.7,668.4 468.1,668.4 469.4,668.4 470.8,668.4 472.2,668.4 473.5,668.4 474.9,668.4 476.3,668.4 477.6,668.4 479.0,668.4 480.4,668.3 481.7,668.3 483.1,668.3 484.5,668.3 485.8,668.3 487.2,668.3" fill="none" stroke="#d62728" stroke-width="1.5" stroke-dasharray="10.9 2.9 1.6 2.9" />
<polyline points="131.7,897.2 132.0,896.3 132.3,895.4 132.6,894.6 132.9,893.7 133.1,893.2 133.2,892.8 133.5,891.9 133.8,891.0 134.1,890.2 134.4,889.4 134.5,889.3 134.8,888.4 135.1,887.5 135.4,886.6 135.7,885.8 135.8,885.6 136.1,884.9 136.4,884.0 136.7,883.1 137.0,882.2 137.2,881.9 137.4,881.4 137.7,880.5 138.1,879.6 138.4,878.7 138.5,878.3 138.7,877.8 139.1,877.0 139.4,876.1 139.8,875.2 139.9,874.9 140.1,874.3 140.5,873.4 140.8,872.5 141.2,871.7 141.3,871.5 141.5,870.8 141.9,869.9 142.3,869.0 142.6,868.1 142.6,868.1 143.0,867.3 143.4,866.4 143.8,865.5 144.0,864.9 144.1,864.6 144.5,863.7 144.9,862.9 145.3,862.0 145.4,861.8 145.7,861.1 146.1,860.2 146.4,859.3 146.7,858.7 146.8,858.5 147.2,857.6 147.6,856.7 148.0,855.8 148.1,855.7 148.4,854.9 148.9,854.1 149.3,853.2 149.5,852.7 149.7,852.3 150.1,851.4 150.5,850.5 150.8,849.9 150.9,849.7 151.4,848.8 151.8,847.9 152.2,847.1 152.2,847.0 152.7,846.1 153.1,845.3 153.6,844.4 153.6,844.3 154.0,843.5 154.4,842.6 154.9,841.7 154.9,841.7 155.4,840.9 155.8,840.0 156.3,839.1 156.3,839.0 156.7,838.2 157.2,837.3 157.7,836.5 157.7,836.5 158.2,835.6 158.6,834.7 159.0,834.0 159.1,833.8 159.6,832.9 160.1,832.1 160.4,831.5 160.6,831.2 161.1,830.3 161.6,829.4 161.8,829.1 162.1,828.5 162.6,827.6 163.1,826.8 163.1,826.8 163.7,825.9 164.2,825.0 164.5,824.5 164.7,824.1 165.2,823.2 165.8,822.4 165.9,822.2 166.3,821.5 166.9,820.6 167.2,820.0 167.4,819.7 168.0,818.8 168.5,818.0 168.6,817.8 169.1,817.1 169.7,816.2 170.0,815.7 170.2,815.3 170.8,814.4 171.4,813.6 171.4,813.6 172.0,812.7 172.6,811.8 172.7,811.6 173.2,810.9 173.8,810.0 174.1,809.6 174.4,809.2 175.0,808.3 175.5,807.6 175.6,807.4 176.2,806.5 176.8,805.7 176.9,805.6 177.5,804.8 178.1,803.9 178.2,803.8 178.8,803.0 179.4,802.1 179.6,802.0 180.1,801.2 180.8,800.4 180.9,800.1 181.4,799.5 182.1,798.6 182.3,798.4 182.8,797.7 183.5,796.8 183.7,796.6 184.2,796.0 184.9,795.1 185.0,794.9 185.6,794.2 186.3,793.3 186.4,793.2 187.0,792.4 187.7,791.6 187.8,791.5 188.5,790.7 189.1,789.9 189.2,789.8 190.0,788.9 190.5,788.3 190.7,788.0 191.5,787.2 191.9,786.7 192.3,786.3 193.0,785.4 193.2,785.2 193.8,784.5 194.6,783.6 194.6,783.6 195.4,782.8 196.0,782.1 196.2,781.9 197.0,781.0 197.3,780.7 197.9,780.1 198.7,779.2 198.7,779.2 199.5,778.3 200.1,777.8 200.4,777.5 201.2,776.6 201.4,776.4 202.1,775.7 202.8,775.0 203.0,774.8 203.9,773.9 204.2,773.7 204.8,773.1 205.5,772.3 205.7,772.2 206.6,771.3 206.9,771.0 207.5,770.4 208.3,769.7 208.4,769.5 209.4,768.7 209.6,768.4 210.3,767.8 211.0,767.2 211.3,766.9 212.3,766.0 212.4,765.9 213.3,765.1 213.7,764.7 214.3,764.3 215.1,763.5 215.3,763.4 216.3,762.5 216.5,762.3 217.3,761.6 217.8,761.2 218.4,760.7 219.2,760.0 219.4,759.9 220.5,759.0 220.6,758.9 221.5,758.1 221.9,757.8 222.6,757.2 223.3,756.7 223.7,756.3 224.7,755.6 224.9,755.5 226.0,754.6 226.0,754.5 227.1,753.7 227.4,753.5 228.3,752.8 228.8,752.4 229.4,751.9 230.1,751.4 230.6,751.1 231.5,750.4 231.8,750.2 232.9,749.4 233.0,749.3 234.2,748.4 234.3,748.4 235.5,747.5 235.6,747.5 236.8,746.7 237.0,746.5 238.0,745.8 238.3,745.6 239.3,744.9 239.7,744.6 240.6,744.0 241.1,743.7 241.9,743.1 242.5,742.8 243.3,742.3 243.8,741.9 244.6,741.4 245.2,741.0 246.0,740.5 246.6,740.1 247.4,739.6 247.9,739.3 248.8,738.7 249.3,738.4 250.2,737.9 250.7,737.6 251.7,737.0 252.0,736.8 253.2,736.1 253.4,735.9 254.6,735.2 254.8,735.1 256.1,734.3 256.1,734.3 257.5,733.5 257.7,733.4 258.9,732.8 259.2,732.6 260.2,732.0 260.8,731.7 261.6,731.2 262.4,730.8 263.0,730.5 264.0,729.9 264.3,729.7 265.6,729.0 265.7,729.0 267.1,728.3 267.3,728.2 268.4,727.6 269.0,727.3 269.8,726.9 270.7,726.4 271.2,726.2 272.4,725.5 272.5,725.5 273.9,724.8 274.2,724.6 275.3,724.1 275.9,723.8 276.6,723.4 277.7,722.9 278.0,722.8 279.4,722.1 279.6,722.0 280.7,721.5 281.4,721.1 282.1,720.8 283.3,720.2 283.5,720.2 284.8,719.6 285.3,719.4 286.2,718.9 287.2,718.5 287.6,718.3 288.9,717.7 289.2,717.6 290.3,717.1 291.2,716.7 291.7,716.5 293.0,715.9 293.2,715.8 294.4,715.3 295.3,715.0 295.8,714.8 297.1,714.2 297.4,714.1 298.5,713.6 299.6,713.2 299.9,713.1 301.2,712.5 301.8,712.3 302.6,712.0 304.0,711.4 304.0,711.4 305.3,710.9 306.2,710.6 306.7,710.4 308.1,709.8 308.5,709.7 309.4,709.3 310.8,708.8 310.8,708.8 312.2,708.3 313.2,707.9 313.6,707.8 314.9,707.3 315.6,707.0 316.3,706.8 317.7,706.3 318.1,706.2 319.0,705.8 320.4,705.3 320.6,705.3 321.8,704.9 323.1,704.4 323.1,704.4 324.5,703.9 325.7,703.5 325.9,703.5 327.2,703.0 328.3,702.6 328.6,702.5 330.0,702.1 331.0,701.8 331.3,701.6 332.7,701.2 333.7,700.9 334.1,700.8 335.4,700.3 336.5,700.0 336.8,699.9 338.2,699.5 339.3,699.1 339.5,699.0 340.9,698.6 342.2,698.2 342.3,698.2 343.6,697.8 345.0,697.4 345.1,697.4 346.4,697.0 347.7,696.6 348.1,696.5 349.1,696.2 350.5,695.8 351.1,695.6 351.8,695.4 353.2,695.0 354.3,694.7 354.6,694.6 355.9,694.2 357.3,693.9 357.4,693.8 358.7,693.5 360.0,693.1 360.6,693.0 361.4,692.7 362.8,692.4 363.9,692.1 364.1,692.0 365.5,691.7 366.9,691.3 367.3,691.2 368.2,690.9 369.6,690.6 370.7,690.3 371.0,690.2 372.3,689.9 373.7,689.6 374.2,689.4 375.1,689.2 376.4,688.9 377.8,688.5 377.8,688.5 379.2,688.2 380.5,687.9 381.5,687.7 381.9,687.6 383.3,687.2 384.7,686.9 385.2,686.8 386.0,686.6 387.4,686.3 388.8,686.0 389.0,685.9 390.1,685.7 391.5,685.3 392.9,685.0 392.9,685.0 394.2,684.7 395.6,684.4 396.9,684.1 397.0,684.1 398.3,683.8 399.7,683.5 400.9,683.3 401.1,683.2 402.4,682.9 403.8,682.7 405.1,682.4 405.2,682.4 406.5,682.1 407.9,681.8 409.3,681.5 409.3,681.5 410.6,681.2 412.0,681.0 413.4,680.7 413.7,680.6 414.7,680.4 416.1,680.1 417.5,679.9 418.2,679.7 418.8,679.6 420.2,679.3 421.6,679.1 422.7,678.9 422.9,678.8 424.3,678.6 425.7,678.3 427.0,678.0 427.4,678.0 428.4,677.8 429.8,677.5 431.1,677.3 432.2,677.1 432.5,677.0 433.9,676.8 435.2,676.5 436.6,676.3 437.1,676.2 438.0,676.1 439.3,675.8 440.7,675.6 442.1,675.3 442.1,675.3 443.4,675.1 444.8,674.9 446.2,674.6 447.2,674.5 447.5,674.4 448.9,674.2 450.3,673.9 451.6,673.7 452.5,673.6 453.0,673.5 454.4,673.3 455.8,673.0 457.1,672.8 457.9,672.7 458.5,672.6 459.9,672.4 461.2,672.2 462.6,672.0 463.5,671.8 464.0,671.7 465.3,671.5 466.7,671.3 468.1,671.1 469.2,670.9 469.4,670.9 470.8,670.7 472.2,670.5 473.5,670.3 474.9,670.1 475.0,670.1 476.3,669.9 477.6,669.7 479.0,669.5 480.4,669.3 481.0,669.2 481.7,669.1 483.1,668.9 484.5,668.7 485.8,668.5 487.2,668.3" fill="none" stroke="#d62728" stroke-width="1.5" stroke-dasharray="7.7 7.5" />
<polyline points="131.7,897.2 133.1,897.0 134.4,896.9 135.8,896.7 137.2,896.5 138.5,896.4 138.8,896.3 139.9,896.2 141.3,896.0 142.6,895.8 144.0,895.7 145.4,895.5 145.6,895.4 146.7,895.3 148.1,895.1 149.5,894.9 150.8,894.8 152.2,894.6 152.3,894.6 153.6,894.4 154.9,894.2 156.3,894.0 157.7,893.8 158.7,893.7 159.0,893.6 160.4,893.4 161.8,893.2 163.1,893.1 164.5,892.9 165.0,892.8 165.9,892.7 167.2,892.5 168.6,892.3 170.0,892.1 171.0,891.9 171.4,891.9 172.7,891.7 174.1,891.5 175.5,891.3 176.8,891.0 176.9,891.0 178.2,890.8 179.6,890.6 180.9,890.4 182.3,890.2 182.6,890.2 183.7,890.0 185.0,889.8 186.4,889.6 187.8,889.3 188.1,889.3 189.1,889.1 190.5,888.9 191.9,888.7 193.2,888.4 193.5,888.4 194.6,888.2 196.0,888.0 197.3,887.8 198.7,887.5 198.8,887.5 200.1,887.3 201.4,887.1 202.8,886.8 203.9,886.6 204.2,886.6 205.5,886.3 206.9,886.1 208.3,885.9 208.8,885.8 209.6,885.6 211.0,885.4 212.4,885.1 213.6,884.9 213.7,884.9 215.1,884.6 216.5,884.3 217.8,884.1 218.3,884.0 219.2,883.8 220.6,883.6 221.9,883.3 222.9,883.1 223.3,883.0 224.7,882.8 226.0,882.5 227.4,882.2 227.4,882.2 228.8,882.0 230.1,881.7 231.5,881.4 231.7,881.4 232.9,881.1 234.2,880.8 235.6,880.5 236.0,880.5 237.0,880.3 238.3,880.0 239.7,879.7 240.1,879.6 241.1,879.4 242.5,879.1 243.8,878.8 244.1,878.7 245.2,878.5 246.6,878.2 247.9,877.9 248.0,877.8 249.3,877.5 250.7,877.2 251.9,877.0 252.0,876.9 253.4,876.6 254.8,876.3 255.6,876.1 256.1,876.0 257.5,875.6 258.9,875.3 259.3,875.2 260.2,875.0 261.6,874.6 262.9,874.3 263.0,874.3 264.3,873.9 265.7,873.6 266.4,873.4 267.1,873.3 268.4,872.9 269.8,872.5 269.8,872.5 271.2,872.2 272.5,871.8 273.1,871.7 273.9,871.5 275.3,871.1 276.4,870.8 276.6,870.7 278.0,870.4 279.4,870.0 279.6,869.9 280.7,869.6 282.1,869.2 282.7,869.0 283.5,868.8 284.8,868.4 285.8,868.1 286.2,868.0 287.6,867.6 288.8,867.3 288.9,867.2 290.3,866.8 291.7,866.4 291.7,866.4 293.0,866.0 294.4,865.6 294.6,865.5 295.8,865.1 297.1,864.7 297.4,864.6 298.5,864.3 299.9,863.8 300.2,863.7 301.2,863.4 302.6,863.0 302.9,862.9 304.0,862.5 305.3,862.0 305.5,862.0 306.7,861.6 308.1,861.1 308.1,861.1 309.4,860.7 310.7,860.2 310.8,860.2 312.2,859.7 313.2,859.3 313.6,859.2 314.9,858.7 315.6,858.5 316.3,858.2 317.7,857.7 318.0,857.6 319.0,857.2 320.4,856.7 320.4,856.7 321.8,856.2 322.7,855.8 323.1,855.7 324.5,855.1 325.0,854.9 325.9,854.6 327.2,854.1 327.2,854.1 328.6,853.5 329.4,853.2 330.0,853.0 331.3,852.4 331.6,852.3 332.7,851.8 333.7,851.4 334.1,851.3 335.4,850.7 335.8,850.5 336.8,850.1 337.8,849.7 338.2,849.5 339.5,848.9 339.8,848.8 340.9,848.3 341.8,847.9 342.3,847.7 343.6,847.1 343.7,847.0 345.0,846.4 345.6,846.1 346.4,845.8 347.5,845.3 347.7,845.2 349.1,844.5 349.4,844.4 350.5,843.8 351.2,843.5 351.8,843.2 353.0,842.6 353.2,842.5 354.6,841.8 354.7,841.7 355.9,841.1 356.4,840.9 357.3,840.4 358.1,840.0 358.7,839.7 359.8,839.1 360.0,839.0 361.4,838.2 361.5,838.2 362.8,837.5 363.1,837.3 364.1,836.7 364.7,836.5 365.5,836.0 366.2,835.6 366.9,835.2 367.8,834.7 368.2,834.4 369.3,833.8 369.6,833.6 370.8,832.9 371.0,832.8 372.3,832.1 372.3,832.0 373.7,831.2 373.8,831.2 375.1,830.4 375.2,830.3 376.4,829.5 376.6,829.4 377.8,828.7 378.0,828.5 379.2,827.8 379.4,827.6 380.5,826.9 380.7,826.8 381.9,826.0 382.1,825.9 383.3,825.1 383.4,825.0 384.7,824.2 384.7,824.1 386.0,823.2 386.0,823.2 387.2,822.4 387.4,822.3 388.5,821.5 388.8,821.3 389.7,820.6 390.1,820.3 390.9,819.7 391.5,819.3 392.1,818.8 392.9,818.3 393.3,818.0 394.2,817.3 394.5,817.1 395.6,816.2 395.6,816.2 396.8,815.3 397.0,815.2 397.9,814.4 398.3,814.1 399.0,813.6 399.7,813.0 400.1,812.7 401.1,811.9 401.2,811.8 402.2,810.9 402.4,810.8 403.3,810.0 403.8,809.6 404.3,809.2 405.2,808.4 405.3,808.3 406.4,807.4 406.5,807.3 407.4,806.5 407.9,806.0 408.4,805.6 409.3,804.8 409.3,804.8 410.3,803.9 410.6,803.6 411.3,803.0 412.0,802.3 412.2,802.1 413.1,801.2 413.4,801.0 414.0,800.4 414.7,799.7 415.0,799.5 415.9,798.6 416.1,798.4 416.7,797.7 417.5,797.0 417.6,796.8 418.5,796.0 418.8,795.6 419.4,795.1 420.2,794.2 420.2,794.2 421.0,793.3 421.6,792.8 421.9,792.4 422.7,791.6 422.9,791.3 423.5,790.7 424.3,789.8 424.3,789.8 425.1,788.9 425.7,788.3 425.9,788.0 426.7,787.2 427.0,786.7 427.4,786.3 428.2,785.4 428.4,785.2 429.0,784.5 429.7,783.6 429.8,783.5 430.4,782.8 431.1,781.9 431.2,781.9 431.9,781.0 432.5,780.2 432.6,780.1 433.3,779.2 433.9,778.5 434.0,778.3 434.7,777.5 435.2,776.8 435.4,776.6 436.1,775.7 436.6,775.0 436.7,774.8 437.4,773.9 438.0,773.2 438.1,773.1 438.7,772.2 439.3,771.3 439.4,771.3 440.0,770.4 440.6,769.5 440.7,769.5 441.3,768.7 441.9,767.8 442.1,767.5 442.5,766.9 443.1,766.0 443.4,765.5 443.7,765.1 444.3,764.3 444.8,763.5 444.9,763.4 445.5,762.5 446.1,761.6 446.2,761.5 446.7,760.7 447.2,759.9 447.5,759.4 447.8,759.0 448.4,758.1 448.9,757.2 448.9,757.2 449.5,756.3 450.0,755.5 450.3,755.0 450.6,754.6 451.1,753.7 451.6,752.8 451.6,752.8 452.1,751.9 452.7,751.1 453.0,750.5 453.2,750.2 453.7,749.3 454.2,748.4 454.4,748.1 454.7,747.5 455.2,746.7 455.7,745.8 455.8,745.7 456.2,744.9 456.7,744.0 457.1,743.2 457.2,743.1 457.6,742.3 458.1,741.4 458.5,740.7 458.6,740.5 459.1,739.6 459.5,738.7 459.9,738.1 460.0,737.9 460.4,737.0 460.9,736.1 461.2,735.4 461.3,735.2 461.8,734.3 462.2,733.4 462.6,732.7 462.7,732.6 463.1,731.7 463.5,730.8 463.9,729.9 464.0,729.9 464.4,729.0 464.8,728.2 465.2,727.3 465.3,727.0 465.6,726.4 466.0,725.5 466.4,724.6 466.7,724.1 466.8,723.8 467.2,722.9 467.6,722.0 468.0,721.1 468.1,721.1 468.4,720.2 468.8,719.4 469.2,718.5 469.4,718.0 469.6,717.6 470.0,716.7 470.3,715.8 470.7,715.0 470.8,714.8 471.1,714.1 471.4,713.2 471.8,712.3 472.2,711.5 472.2,711.4 472.5,710.6 472.9,709.7 473.3,708.8 473.5,708.1 473.6,707.9 474.0,707.0 474.3,706.2 474.6,705.3 474.9,704.6 475.0,704.4 475.3,703.5 475.7,702.6 476.0,701.8 476.3,701.1 476.3,700.9 476.7,700.0 477.0,699.1 477.3,698.2 477.6,697.4 477.6,697.4 478.0,696.5 478.3,695.6 478.6,694.7 478.9,693.8 479.0,693.6 479.2,693.0 479.5,692.1 479.9,691.2 480.2,690.3 480.4,689.7 480.5,689.4 480.8,688.5 481.1,687.7 481.4,686.8 481.7,685.9 481.7,685.7 482.0,685.0 482.2,684.1 482.5,683.3 482.8,682.4 483.1,681.5 483.1,681.5 483.4,680.6 483.7,679.7 484.0,678.9 484.2,678.0 484.5,677.3 484.5,677.1 484.8,676.2 485.1,675.3 485.3,674.5 485.6,673.6 485.8,672.9 485.9,672.7 486.1,671.8 486.4,670.9 486.7,670.1 486.9,669.2 487.2,668.3" fill="none" stroke="#d62728" stroke-width="1.5" stroke-dasharray="1.5 1.56" />
<polyline points="131.7,897.2 133.1,897.2 134.4,897.1 135.8,897.1 137.2,897.1 138.5,897.0 139.9,897.0 141.3,897.0 142.6,896.9 144.0,896.9 145.4,896.8 146.7,896.8 148.1,896.8 149.5,896.7 150.8,896.7 152.2,896.7 153.6,896.6 154.9,896.6 156.3,896.5 157.7,896.5 159.0,896.5 160.4,896.4 161.8,896.4 163.1,896.3 163.7,896.3 164.5,896.3 165.9,896.3 167.2,896.2 168.6,896.2 170.0,896.1 171.4,896.1 172.7,896.0 174.1,896.0 175.5,896.0 176.8,895.9 178.2,895.9 179.6,895.8 180.9,895.8 182.3,895.7 183.7,895.7 185.0,895.6 186.4,895.6 187.8,895.5 189.1,895.5 190.5,895.4 190.6,895.4 191.9,895.4 193.2,895.3 194.6,895.3 196.0,895.2 197.3,895.2 198.7,895.1 200.1,895.1 201.4,895.0 202.8,895.0 204.2,894.9 205.5,894.9 206.9,894.8 208.3,894.8 209.6,894.7 211.0,894.7 212.4,894.6 213.6,894.6 213.7,894.6 215.1,894.5 216.5,894.4 217.8,894.4 219.2,894.3 220.6,894.3 221.9,894.2 223.3,894.1 224.7,894.1 226.0,894.0 227.4,894.0 228.8,893.9 230.1,893.8 231.5,893.8 232.9,893.7 233.4,893.7 234.2,893.6 235.6,893.6 237.0,893.5 238.3,893.4 239.7,893.4 241.1,893.3 242.5,893.2 243.8,893.2 245.2,893.1 246.6,893.0 247.9,892.9 249.3,892.9 250.6,892.8 250.7,892.8 252.0,892.7 253.4,892.6 254.8,892.6 256.1,892.5 257.5,892.4 258.9,892.3 260.2,892.3 261.6,892.2 263.0,892.1 264.3,892.0 265.7,891.9 265.8,891.9 267.1,891.8 268.4,891.8 269.8,891.7 271.2,891.6 272.5,891.5 273.9,891.4 275.3,891.3 276.6,891.2 278.0,891.1 279.2,891.0 279.4,891.0 280.7,890.9 282.1,890.8 283.5,890.7 284.8,890.6 286.2,890.5 287.6,890.4 288.9,890.3 290.3,890.2 291.2,890.2 291.7,890.1 293.0,890.0 294.4,889.9 295.8,889.8 297.1,889.7 298.5,889.6 299.9,889.5 301.2,889.3 302.0,889.3 302.6,889.2 304.0,889.1 305.3,889.0 306.7,888.9 308.1,888.7 309.4,888.6 310.8,888.5 311.7,888.4 312.2,888.3 313.6,888.2 314.9,888.1 316.3,887.9 317.7,887.8 319.0,887.7 320.4,887.5 320.5,887.5 321.8,887.4 323.1,887.2 324.5,887.1 325.9,886.9 327.2,886.8 328.5,886.6 328.6,886.6 330.0,886.5 331.3,886.3 332.7,886.1 334.1,886.0 335.4,885.8 335.9,885.8 336.8,885.6 338.2,885.5 339.5,885.3 340.9,885.1 342.3,884.9 342.6,884.9 343.6,884.7 345.0,884.5 346.4,884.4 347.7,884.2 348.9,884.0 349.1,884.0 350.5,883.8 351.8,883.5 353.2,883.3 354.6,883.1 354.6,883.1 355.9,882.9 357.3,882.7 358.7,882.5 360.0,882.2 360.0,882.2 361.4,882.0 362.8,881.7 364.1,881.5 364.9,881.4 365.5,881.2 366.9,881.0 368.2,880.7 369.5,880.5 369.6,880.5 371.0,880.2 372.3,879.9 373.7,879.6 373.9,879.6 375.1,879.3 376.4,879.0 377.8,878.7 377.9,878.7 379.2,878.4 380.5,878.1 381.7,877.8 381.9,877.8 383.3,877.5 384.7,877.1 385.3,877.0 386.0,876.8 387.4,876.4 388.7,876.1 388.8,876.0 390.1,875.7 391.5,875.3 391.8,875.2 392.9,874.9 394.2,874.5 394.8,874.3 395.6,874.1 397.0,873.7 397.7,873.4 398.3,873.2 399.7,872.8 400.4,872.5 401.1,872.3 402.4,871.8 402.9,871.7 403.8,871.4 405.2,870.9 405.4,870.8 406.5,870.4 407.7,869.9 407.9,869.8 409.3,869.3 409.9,869.0 410.6,868.7 412.0,868.1 412.0,868.1 413.4,867.6 414.0,867.3 414.7,866.9 415.9,866.4 416.1,866.3 417.5,865.7 417.8,865.5 418.8,865.0 419.5,864.6 420.2,864.3 421.2,863.7 421.6,863.6 422.9,862.9 422.9,862.8 424.3,862.0 424.4,862.0 425.7,861.2 425.9,861.1 427.0,860.4 427.4,860.2 428.4,859.6 428.7,859.3 429.8,858.7 430.1,858.5 431.1,857.7 431.4,857.6 432.5,856.8 432.6,856.7 433.8,855.8 433.9,855.8 435.0,854.9 435.2,854.7 436.1,854.1 436.6,853.6 437.2,853.2 438.0,852.5 438.2,852.3 439.2,851.4 439.3,851.3 440.2,850.5 440.7,850.1 441.2,849.7 442.1,848.8 442.1,848.8 443.0,847.9 443.4,847.4 443.8,847.0 444.7,846.1 444.8,846.0 445.5,845.3 446.2,844.5 446.3,844.4 447.1,843.5 447.5,842.9 447.8,842.6 448.6,841.7 448.9,841.3 449.3,840.9 450.0,840.0 450.3,839.6 450.6,839.1 451.3,838.2 451.6,837.7 451.9,837.3 452.6,836.5 453.0,835.8 453.2,835.6 453.8,834.7 454.3,833.8 454.4,833.7 454.9,832.9 455.5,832.1 455.8,831.6 456.0,831.2 456.5,830.3 457.0,829.4 457.1,829.3 457.5,828.5 458.0,827.6 458.5,826.8 458.5,826.8 459.0,825.9 459.5,825.0 459.9,824.2 459.9,824.1 460.3,823.2 460.8,822.4 461.2,821.5 461.2,821.4 461.6,820.6 462.0,819.7 462.4,818.8 462.6,818.5 462.8,818.0 463.2,817.1 463.6,816.2 463.9,815.3 464.0,815.3 464.3,814.4 464.6,813.6 465.0,812.7 465.3,811.8 465.3,811.8 465.7,810.9 466.0,810.0 466.3,809.2 466.6,808.3 466.7,808.1 466.9,807.4 467.3,806.5 467.6,805.6 467.8,804.8 468.1,804.1 468.1,803.9 468.4,803.0 468.7,802.1 469.0,801.2 469.2,800.4 469.4,799.8 469.5,799.5 469.8,798.6 470.0,797.7 470.3,796.8 470.5,796.0 470.8,795.1 470.8,795.0 471.0,794.2 471.3,793.3 471.5,792.4 471.7,791.6 472.0,790.7 472.2,789.9 472.2,789.8 472.4,788.9 472.6,788.0 472.8,787.2 473.0,786.3 473.3,785.4 473.5,784.5 473.5,784.2 473.7,783.6 473.9,782.8 474.1,781.9 474.2,781.0 474.4,780.1 474.6,779.2 474.8,778.3 474.9,777.9 475.0,777.5 475.2,776.6 475.4,775.7 475.5,774.8 475.7,773.9 475.9,773.1 476.0,772.2 476.2,771.3 476.3,771.0 476.4,770.4 476.5,769.5 476.7,768.7 476.9,767.8 477.0,766.9 477.2,766.0 477.3,765.1 477.5,764.3 477.6,763.4 477.6,763.3 477.8,762.5 477.9,761.6 478.0,760.7 478.2,759.9 478.3,759.0 478.5,758.1 478.6,757.2 478.7,756.3 478.9,755.5 479.0,754.6 479.0,754.6 479.1,753.7 479.3,752.8 479.4,751.9 479.5,751.1 479.6,750.2 479.8,749.3 479.9,748.4 480.0,747.5 480.1,746.7 480.2,745.8 480.4,744.9 480.4,744.9 480.5,744.0 480.6,743.1 480.7,742.3 480.8,741.4 480.9,740.5 481.0,739.6 481.1,738.7 481.2,737.9 481.4,737.0 481.5,736.1 481.6,735.2 481.7,734.3 481.7,733.8 481.8,733.4 481.9,732.6 482.0,731.7 482.1,730.8 482.2,729.9 482.3,729.0 482.4,728.2 482.5,727.3 482.5,726.4 482.6,725.5 482.7,724.6 482.8,723.8 482.9,722.9 483.0,722.0 483.1,721.1 483.1,721.0 483.2,720.2 483.3,719.4 483.3,718.5 483.4,717.6 483.5,716.7 483.6,715.8 483.7,715.0 483.8,714.1 483.8,713.2 483.9,712.3 484.0,711.4 484.1,710.6 484.2,709.7 484.2,708.8 484.3,707.9 484.4,707.0 484.5,706.3 484.5,706.2 484.5,705.3 484.6,704.4 484.7,703.5 484.8,702.6 484.8,701.8 484.9,700.9 485.0,700.0 485.1,699.1 485.1,698.2 485.2,697.4 485.3,696.5 485.3,695.6 485.4,694.7 485.5,693.8 485.5,693.0 485.6,692.1 485.7,691.2 485.7,690.3 485.8,689.4 485.8,688.9 485.9,688.5 485.9,687.7 486.0,686.8 486.0,685.9 486.1,685.0 486.2,684.1 486.2,683.3 486.3,682.4 486.4,681.5 486.4,680.6 486.5,679.7 486.5,678.9 486.6,678.0 486.6,677.1 486.7,676.2 486.8,675.3 486.8,674.5 486.9,673.6 486.9,672.7 487.0,671.8 487.0,670.9 487.1,670.1 487.1,669.2 487.2,668.3" fill="none" stroke="#d62728" stroke-width="1.5" stroke-dasharray="1.5 7.6" />
<polyline points="131.7,897.2 133.1,897.2 134.4,897.2 135.8,897.2 137.2,897.2 138.5,897.2 139.9,897.2 141.3,897.2 142.6,897.1 144.0,897.1 145.4,897.1 146.7,897.1 148.1,897.1 149.5,897.1 150.8,897.1 152.2,897.1 153.6,897.1 154.9,897.1 156.3,897.1 157.7,897.1 159.0,897.1 160.4,897.0 161.8,897.0 163.1,897.0 164.5,897.0 165.9,897.0 167.2,897.0 168.6,897.0 170.0,897.0 171.4,897.0 172.7,897.0 174.1,897.0 175.5,896.9 176.8,896.9 178.2,896.9 179.6,896.9 180.9,896.9 182.3,896.9 183.7,896.9 185.0,896.9 186.4,896.9 187.8,896.9 189.1,896.9 190.5,896.8 191.9,896.8 193.2,896.8 194.6,896.8 196.0,896.8 197.3,896.8 198.7,896.8 200.1,896.8 201.4,896.8 202.8,896.8 204.2,896.7 205.5,896.7 206.9,896.7 208.3,896.7 209.6,896.7 211.0,896.7 212.4,896.7 213.7,896.7 215.1,896.7 216.5,896.6 217.8,896.6 219.2,896.6 220.6,896.6 221.9,896.6 223.3,896.6 224.7,896.6 226.0,896.6 227.4,896.5 228.8,896.5 230.1,896.5 231.5,896.5 232.9,896.5 234.2,896.5 235.6,896.5 237.0,896.5 238.3,896.4 239.7,896.4 241.1,896.4 242.5,896.4 243.8,896.4 245.2,896.4 246.6,896.4 247.9,896.3 249.3,896.3 249.4,896.3 250.7,896.3 252.0,896.3 253.4,896.3 254.8,896.3 256.1,896.2 257.5,896.2 258.9,896.2 260.2,896.2 261.6,896.2 263.0,896.2 264.3,896.1 265.7,896.1 267.1,896.1 268.4,896.1 269.8,896.1 271.2,896.1 272.5,896.0 273.9,896.0 275.3,896.0 276.6,896.0 278.0,896.0 279.4,895.9 280.7,895.9 282.1,895.9 283.5,895.9 284.8,895.9 286.2,895.8 287.6,895.8 288.9,895.8 290.3,895.8 291.7,895.7 293.0,895.7 294.4,895.7 295.8,895.7 297.1,895.7 298.5,895.6 299.9,895.6 301.2,895.6 302.6,895.6 304.0,895.5 305.3,895.5 306.7,895.5 308.1,895.5 308.9,895.4 309.4,895.4 310.8,895.4 312.2,895.4 313.6,895.3 314.9,895.3 316.3,895.3 317.7,895.3 319.0,895.2 320.4,895.2 321.8,895.2 323.1,895.1 324.5,895.1 325.9,895.1 327.2,895.0 328.6,895.0 330.0,895.0 331.3,894.9 332.7,894.9 334.1,894.9 335.4,894.8 336.8,894.8 338.2,894.8 339.5,894.7 340.9,894.7 342.3,894.6 343.6,894.6 344.8,894.6 345.0,894.6 346.4,894.5 347.7,894.5 349.1,894.4 350.5,894.4 351.8,894.3 353.2,894.3 354.6,894.2 355.9,894.2 357.3,894.1 358.7,894.1 360.0,894.0 361.4,894.0 362.8,893.9 364.1,893.9 365.5,893.8 366.9,893.8 368.2,893.7 368.8,893.7 369.6,893.6 371.0,893.6 372.3,893.5 373.7,893.5 375.1,893.4 376.4,893.3 377.8,893.3 379.2,893.2 380.5,893.1 381.9,893.0 383.3,893.0 384.7,892.9 386.0,892.8 386.0,892.8 387.4,892.7 388.8,892.6 390.1,892.5 391.5,892.5 392.9,892.4 394.2,892.3 395.6,892.2 397.0,892.1 398.3,892.0 399.0,891.9 399.7,891.9 401.1,891.7 402.4,891.6 403.8,891.5 405.2,891.4 406.5,891.3 407.9,891.1 409.0,891.0 409.3,891.0 410.6,890.9 412.0,890.7 413.4,890.6 414.7,890.4 416.1,890.3 417.1,890.2 417.5,890.1 418.8,889.9 420.2,889.8 421.6,889.6 422.9,889.4 423.7,889.3 424.3,889.2 425.7,889.0 427.0,888.8 428.4,888.5 429.2,888.4 429.8,888.3 431.1,888.0 432.5,887.8 433.9,887.5 433.9,887.5 435.2,887.2 436.6,886.9 437.8,886.6 438.0,886.6 439.3,886.3 440.7,885.9 441.3,885.8 442.1,885.5 443.4,885.1 444.3,884.9 444.8,884.7 446.2,884.3 447.0,884.0 447.5,883.8 448.9,883.3 449.4,883.1 450.3,882.8 451.5,882.2 451.6,882.2 453.0,881.6 453.5,881.4 454.4,880.9 455.2,880.5 455.8,880.2 456.8,879.6 457.1,879.4 458.2,878.7 458.5,878.5 459.5,877.8 459.9,877.6 460.8,877.0 461.2,876.6 461.9,876.1 462.6,875.5 462.9,875.2 463.9,874.3 464.0,874.2 464.8,873.4 465.3,872.9 465.6,872.5 466.4,871.7 466.7,871.3 467.1,870.8 467.8,869.9 468.1,869.6 468.5,869.0 469.1,868.1 469.4,867.7 469.7,867.3 470.2,866.4 470.7,865.5 470.8,865.4 471.2,864.6 471.7,863.7 472.2,862.9 472.2,862.8 472.6,862.0 473.0,861.1 473.4,860.2 473.5,859.8 473.7,859.3 474.1,858.5 474.4,857.6 474.8,856.7 474.9,856.3 475.1,855.8 475.4,854.9 475.6,854.1 475.9,853.2 476.2,852.3 476.3,852.1 476.4,851.4 476.7,850.5 476.9,849.7 477.2,848.8 477.4,847.9 477.6,847.0 477.6,846.9 477.8,846.1 478.0,845.3 478.2,844.4 478.4,843.5 478.6,842.6 478.7,841.7 478.9,840.9 479.0,840.4 479.1,840.0 479.2,839.1 479.4,838.2 479.5,837.3 479.7,836.5 479.8,835.6 480.0,834.7 480.1,833.8 480.2,832.9 480.4,832.1 480.4,832.1 480.5,831.2 480.6,830.3 480.7,829.4 480.8,828.5 481.0,827.6 481.1,826.8 481.2,825.9 481.3,825.0 481.4,824.1 481.5,823.2 481.6,822.4 481.7,821.5 481.7,821.0 481.8,820.6 481.9,819.7 482.0,818.8 482.0,818.0 482.1,817.1 482.2,816.2 482.3,815.3 482.4,814.4 482.4,813.6 482.5,812.7 482.6,811.8 482.7,810.9 482.7,810.0 482.8,809.2 482.9,808.3 483.0,807.4 483.0,806.5 483.1,805.6 483.1,805.5 483.2,804.8 483.2,803.9 483.3,803.0 483.3,802.1 483.4,801.2 483.5,800.4 483.5,799.5 483.6,798.6 483.6,797.7 483.7,796.8 483.7,796.0 483.8,795.1 483.8,794.2 483.9,793.3 483.9,792.4 484.0,791.6 484.0,790.7 484.1,789.8 484.1,788.9 484.2,788.0 484.2,787.2 484.3,786.3 484.3,785.4 484.4,784.5 484.4,783.6 484.4,782.8 484.5,782.4 484.5,781.9 484.5,781.0 484.6,780.1 484.6,779.2 484.7,778.3 484.7,777.5 484.7,776.6 484.8,775.7 484.8,774.8 484.8,773.9 484.9,773.1 484.9,772.2 484.9,771.3 485.0,770.4 485.0,769.5 485.0,768.7 485.1,767.8 485.1,766.9 485.1,766.0 485.2,765.1 485.2,764.3 485.2,763.4 485.3,762.5 485.3,761.6 485.3,760.7 485.4,759.9 485.4,759.0 485.4,758.1 485.4,757.2 485.5,756.3 485.5,755.5 485.5,754.6 485.6,753.7 485.6,752.8 485.6,751.9 485.6,751.1 485.7,750.2 485.7,749.3 485.7,748.4 485.7,747.5 485.8,746.7 485.8,745.8 485.8,744.9 485.8,744.1 485.8,744.0 485.9,743.1 485.9,742.3 485.9,741.4 485.9,740.5 485.9,739.6 486.0,738.7 486.0,737.9 486.0,737.0 486.0,736.1 486.1,735.2 486.1,734.3 486.1,733.4 486.1,732.6 486.1,731.7 486.2,730.8 486.2,729.9 486.2,729.0 486.2,728.2 486.2,727.3 486.3,726.4 486.3,725.5 486.3,724.6 486.3,723.8 486.3,722.9 486.4,722.0 486.4,721.1 486.4,720.2 486.4,719.4 486.4,718.5 486.4,717.6 486.5,716.7 486.5,715.8 486.5,715.0 486.5,714.1 486.5,713.2 486.5,712.3 486.6,711.4 486.6,710.6 486.6,709.7 486.6,708.8 486.6,707.9 486.6,707.0 486.7,706.2 486.7,705.3 486.7,704.4 486.7,703.5 486.7,702.6 486.7,701.8 486.7,700.9 486.8,700.0 486.8,699.1 486.8,698.2 486.8,697.4 486.8,696.5 486.8,695.6 486.8,694.7 486.9,693.8 486.9,693.0 486.9,692.1 486.9,691.2 486.9,690.3 486.9,689.4 486.9,688.5 486.9,687.7 487.0,686.8 487.0,685.9 487.0,685.0 487.0,684.1 487.0,683.3 487.0,682.4 487.0,681.5 487.0,680.6 487.1,679.7 487.1,678.9 487.1,678.0 487.1,677.1 487.1,676.2 487.1,675.3 487.1,674.5 487.1,673.6 487.1,672.7 487.2,671.8 487.2,670.9 487.2,670.1 487.2,669.2 487.2,668.3" fill="none" stroke="#d62728" stroke-width="1.5" stroke-dasharray="4.7 7.4 1.5 7.9 1.5 7.9" />
<polyline points="131.7,897.2 133.1,897.2 134.4,897.2 135.8,897.2 137.2,897.2 138.5,897.2 139.9,897.2 141.3,897.2 142.6,897.2 144.0,897.2 145.4,897.2 146.7,897.2 148.1,897.2 149.5,897.2 150.8,897.2 152.2,897.2 153.6,897.2 154.9,897.2 156.3,897.2 157.7,897.2 159.0,897.2 160.4,897.2 161.8,897.2 163.1,897.2 164.5,897.2 165.9,897.2 167.2,897.2 168.6,897.2 170.0,897.2 171.4,897.2 172.7,897.2 174.1,897.2 175.5,897.2 176.8,897.2 178.2,897.2 179.6,897.2 180.9,897.2 182.3,897.2 183.7,897.2 185.0,897.2 186.4,897.2 187.8,897.2 189.1,897.2 190.5,897.2 191.9,897.2 193.2,897.2 194.6,897.2 196.0,897.2 197.3,897.2 198.7,897.2 200.1,897.2 201.4,897.2 202.8,897.2 204.2,897.2 205.5,897.2 206.9,897.2 208.3,897.2 209.6,897.2 211.0,897.2 212.4,897.2 213.7,897.2 215.1,897.2 216.5,897.2 217.8,897.2 219.2,897.2 220.6,897.2 221.9,897.2 223.3,897.2 224.7,897.2 226.0,897.2 227.4,897.2 228.8,897.2 230.1,897.2 231.5,897.2 232.9,897.2 234.2,897.2 235.6,897.2 237.0,897.2 238.3,897.2 239.7,897.2 241.1,897.2 242.5,897.2 243.8,897.2 245.2,897.2 246.6,897.2 247.9,897.2 249.3,897.2 250.7,897.2 252.0,897.2 253.4,897.2 254.8,897.2 256.1,897.2 257.5,897.2 258.9,897.2 260.2,897.2 261.6,897.2 263.0,897.2 264.3,897.2 265.7,897.2 267.1,897.2 268.4,897.2 269.8,897.2 271.2,897.2 272.5,897.2 273.9,897.2 275.3,897.2 276.6,897.2 278.0,897.2 279.4,897.2 280.7,897.2 282.1,897.1 283.5,897.1 284.8,897.1 286.2,897.1 287.6,897.1 288.9,897.1 290.3,897.1 291.7,897.1 293.0,897.1 294.4,897.1 295.8,897.1 297.1,897.1 298.5,897.1 299.9,897.1 301.2,897.1 302.6,897.1 304.0,897.1 305.3,897.1 306.7,897.1 308.1,897.1 309.4,897.1 310.8,897.1 312.2,897.1 313.6,897.1 314.9,897.1 316.3,897.1 317.7,897.1 319.0,897.1 320.4,897.1 321.8,897.1 323.1,897.1 324.5,897.1 325.9,897.1 327.2,897.1 328.6,897.1 330.0,897.1 331.3,897.1 332.7,897.1 334.1,897.1 335.4,897.1 336.8,897.1 338.2,897.1 339.5,897.1 340.9,897.1 342.3,897.1 343.6,897.1 345.0,897.1 346.4,897.1 347.7,897.1 349.1,897.1 350.5,897.1 351.8,897.1 353.2,897.1 354.6,897.1 355.9,897.1 357.3,897.1 358.7,897.1 360.0,897.1 361.4,897.1 362.8,897.1 364.1,897.1 365.5,897.1 366.9,897.1 368.2,897.1 369.6,897.1 371.0,897.1 372.3,897.1 373.7,897.1 375.1,897.1 376.4,897.0 377.8,897.0 379.2,897.0 380.5,897.0 381.9,897.0 383.3,897.0 384.7,897.0 386.0,897.0 387.4,897.0 388.8,897.0 390.1,897.0 391.5,897.0 392.9,897.0 394.2,897.0 395.6,897.0 397.0,897.0 398.3,897.0 399.7,897.0 401.1,897.0 402.4,897.0 403.8,897.0 405.2,897.0 406.5,897.0 407.9,897.0 409.3,897.0 410.6,897.0 412.0,896.9 413.4,896.9 414.7,896.9 416.1,896.9 417.5,896.9 418.8,896.9 420.2,896.9 421.6,896.9 422.9,896.9 424.3,896.9 425.7,896.9 427.0,896.9 428.4,896.9 429.8,896.8 431.1,896.8 432.5,896.8 433.9,896.8 435.2,896.8 436.6,896.8 438.0,896.8 439.3,896.8 440.7,896.7 442.1,896.7 443.4,896.7 444.8,896.7 446.2,896.7 447.5,896.7 448.9,896.6 450.3,896.6 451.6,896.6 453.0,896.6 454.4,896.5 455.8,896.5 457.1,896.5 458.5,896.4 459.9,896.4 461.2,896.3 461.6,896.3 462.6,896.3 464.0,896.2 465.3,896.2 466.7,896.1 468.1,896.0 469.4,895.9 470.8,895.8 472.2,895.7 473.5,895.5 474.0,895.4 474.9,895.3 476.3,895.1 477.6,894.7 478.3,894.6 479.0,894.3 480.4,893.8 480.5,893.7 481.7,892.9 481.8,892.8 482.7,891.9 483.1,891.5 483.4,891.0 483.9,890.2 484.3,889.3 484.5,888.7 484.6,888.4 484.8,887.5 485.0,886.6 485.2,885.8 485.3,884.9 485.5,884.0 485.6,883.1 485.7,882.2 485.8,881.4 485.8,880.7 485.9,880.5 485.9,879.6 486.0,878.7 486.0,877.8 486.1,877.0 486.2,876.1 486.2,875.2 486.2,874.3 486.3,873.4 486.3,872.5 486.4,871.7 486.4,870.8 486.4,869.9 486.4,869.0 486.5,868.1 486.5,867.3 486.5,866.4 486.5,865.5 486.6,864.6 486.6,863.7 486.6,862.9 486.6,862.0 486.6,861.1 486.6,860.2 486.7,859.3 486.7,858.5 486.7,857.6 486.7,856.7 486.7,855.8 486.7,854.9 486.7,854.1 486.8,853.2 486.8,852.3 486.8,851.4 486.8,850.5 486.8,849.7 486.8,848.8 486.8,847.9 486.8,847.0 486.8,846.1 486.8,845.3 486.8,844.4 486.9,843.5 486.9,842.6 486.9,841.7 486.9,840.9 486.9,840.0 486.9,839.1 486.9,838.2 486.9,837.3 486.9,836.5 486.9,835.6 486.9,834.7 486.9,833.8 486.9,832.9 486.9,832.1 486.9,831.2 486.9,830.3 486.9,829.4 487.0,828.5 487.0,827.6 487.0,826.8 487.0,825.9 487.0,825.0 487.0,824.1 487.0,823.2 487.0,822.4 487.0,821.5 487.0,820.6 487.0,819.7 487.0,818.8 487.0,818.0 487.0,817.1 487.0,816.2 487.0,815.3 487.0,814.4 487.0,813.6 487.0,812.7 487.0,811.8 487.0,810.9 487.0,810.0 487.0,809.2 487.0,808.3 487.0,807.4 487.0,806.5 487.0,805.6 487.0,804.8 487.0,803.9 487.0,803.0 487.0,802.1 487.1,801.2 487.1,800.4 487.1,799.5 487.1,798.6 487.1,797.7 487.1,796.8 487.1,796.0 487.1,795.1 487.1,794.2 487.1,793.3 487.1,792.4 487.1,791.6 487.1,790.7 487.1,789.8 487.1,788.9 487.1,788.0 487.1,787.2 487.1,786.3 487.1,785.4 487.1,784.5 487.1,783.6 487.1,782.8 487.1,781.9 487.1,781.0 487.1,780.1 487.1,779.2 487.1,778.3 487.1,777.5 487.1,776.6 487.1,775.7 487.1,774.8 487.1,773.9 487.1,773.1 487.1,772.2 487.1,771.3 487.1,770.4 487.1,769.5 487.1,768.7 487.1,767.8 487.1,766.9 487.1,766.0 487.1,765.1 487.1,764.3 487.1,763.4 487.1,762.5 487.1,761.6 487.1,760.7 487.1,759.9 487.1,759.0 487.1,758.1 487.1,757.2 487.1,756.3 487.1,755.5 487.1,754.6 487.1,753.7 487.1,752.8 487.1,751.9 487.1,751.1 487.1,750.2 487.1,749.3 487.1,748.4 487.1,747.5 487.1,746.7 487.1,745.8 487.1,744.9 487.1,744.0 487.1,743.1 487.1,742.3 487.1,741.4 487.2,740.5 487.2,739.6 487.2,738.7 487.2,737.9 487.2,737.0 487.2,736.1 487.2,735.2 487.2,734.3 487.2,733.4 487.2,732.6 487.2,731.7 487.2,730.8 487.2,729.9 487.2,729.0 487.2,728.2 487.2,727.3 487.2,726.4 487.2,725.5 487.2,724.6 487.2,723.8 487.2,722.9 487.2,722.0 487.2,721.1 487.2,720.2 487.2,719.4 487.2,718.5 487.2,717.6 487.2,716.7 487.2,715.8 487.2,715.0 487.2,714.1 487.2,713.2 487.2,712.3 487.2,711.4 487.2,710.6 487.2,709.7 487.2,708.8 487.2,707.9 487.2,707.0 487.2,706.2 487.2,705.3 487.2,704.4 487.2,703.5 487.2,702.6 487.2,701.8 487.2,700.9 487.2,700.0 487.2,699.1 487.2,698.2 487.2,697.4 487.2,696.5 487.2,695.6 487.2,694.7 487.2,693.8 487.2,693.0 487.2,692.1 487.2,691.2 487.2,690.3 487.2,689.4 487.2,688.5 487.2,687.7 487.2,686.8 487.2,685.9 487.2,685.0 487.2,684.1 487.2,683.3 487.2,682.4 487.2,681.5 487.2,680.6 487.2,679.7 487.2,678.9 487.2,678.0 487.2,677.1 487.2,676.2 487.2,675.3 487.2,674.5 487.2,673.6 487.2,672.7 487.2,671.8 487.2,670.9 487.2,670.1 487.2,669.2 487.2,668.3" fill="none" stroke="#d62728" stroke-width="1.5" />
<line x1="471.90" y1="644.80" x2="550.80" y2="644.80" stroke="#a3a3a3" stroke-width="1.25" />
<line x1="471.90" y1="639.80" x2="471.90" y2="649.80" stroke="#a3a3a3" stroke-width="1.25" />
<line x1="550.80" y1="639.80" x2="550.80" y2="649.80" stroke="#a3a3a3" stroke-width="1.25" />
<line x1="511.60" y1="629.90" x2="511.60" y2="659.70" stroke="#a3a3a3" stroke-width="1.25" />
<line x1="506.60" y1="629.90" x2="516.60" y2="629.90" stroke="#a3a3a3" stroke-width="1.25" />
<line x1="506.60" y1="659.70" x2="516.60" y2="659.70" stroke="#a3a3a3" stroke-width="1.25" />
<line x1="488.00" y1="652.30" x2="521.50" y2="652.30" stroke="#a3a3a3" stroke-width="1.25" />
<line x1="488.00" y1="647.30" x2="488.00" y2="657.30" stroke="#a3a3a3" stroke-width="1.25" />
<line x1="521.50" y1="647.30" x2="521.50" y2="657.30" stroke="#a3a3a3" stroke-width="1.25" />
<line x1="427.20" y1="665.90" x2="464.50" y2="665.90" stroke="#a3a3a3" stroke-width="1.25" />
<line x1="427.20" y1="660.90" x2="427.20" y2="670.90" stroke="#a3a3a3" stroke-width="1.25" />
<line x1="464.50" y1="660.90" x2="464.50" y2="670.90" stroke="#a3a3a3" stroke-width="1.25" />
<line x1="438.40" y1="682.00" x2="468.20" y2="682.00" stroke="#a3a3a3" stroke-width="1.25" />
<line x1="438.40" y1="677.00" x2="438.40" y2="687.00" stroke="#a3a3a3" stroke-width="1.25" />
<line x1="468.20" y1="677.00" x2="468.20" y2="687.00" stroke="#a3a3a3" stroke-width="1.25" />
<line x1="453.30" y1="672.10" x2="453.30" y2="692.00" stroke="#a3a3a3" stroke-width="1.25" />
<line x1="448.30" y1="672.10" x2="458.30" y2="672.10" stroke="#a3a3a3" stroke-width="1.25" />
<line x1="448.30" y1="692.00" x2="458.30" y2="692.00" stroke="#a3a3a3" stroke-width="1.25" />
<line x1="398.70" y1="693.70" x2="429.20" y2="693.70" stroke="#a3a3a3" stroke-width="1.25" />
<line x1="398.70" y1="688.70" x2="398.70" y2="698.70" stroke="#a3a3a3" stroke-width="1.25" />
<line x1="429.20" y1="688.70" x2="429.20" y2="698.70" stroke="#a3a3a3" stroke-width="1.25" />
<circle cx="202.30" cy="676.30" r="3.4" fill="#80ffff" stroke="none" stroke-width="0"/>
<circle cx="148.60" cy="702.60" r="3.4" fill="#b44cf0" stroke="none" stroke-width="0"/>
<circle cx="138.40" cy="742.00" r="3.4" fill="#ff30ff" stroke="none" stroke-width="0"/>
<circle cx="136.90" cy="757.20" r="3.4" fill="#ff30ff" stroke="none" stroke-width="0"/>
<circle cx="133.30" cy="820.10" r="3.4" fill="#ff30ff" stroke="none" stroke-width="0"/>
<circle cx="131.90" cy="886.40" r="3.4" fill="#ff30ff" stroke="none" stroke-width="0"/>
<circle cx="294.60" cy="714.80" r="3.4" fill="#80ffff" stroke="none" stroke-width="0"/>
<circle cx="184.50" cy="795.10" r="3.4" fill="#b44cf0" stroke="none" stroke-width="0"/>
<circle cx="153.50" cy="843.80" r="3.4" fill="#ff30ff" stroke="none" stroke-width="0"/>
<circle cx="148.20" cy="855.30" r="3.4" fill="#ff30ff" stroke="none" stroke-width="0"/>
<circle cx="137.40" cy="881.60" r="3.4" fill="#ff30ff" stroke="none" stroke-width="0"/>
<circle cx="470.80" cy="713.80" r="3.4" fill="#80ffff" stroke="none" stroke-width="0"/>
<circle cx="420.10" cy="793.50" r="3.4" fill="#b44cf0" stroke="none" stroke-width="0"/>
<circle cx="351.20" cy="843.10" r="3.4" fill="#ff30ff" stroke="none" stroke-width="0"/>
<circle cx="325.80" cy="854.20" r="3.4" fill="#ff30ff" stroke="none" stroke-width="0"/>
<circle cx="232.00" cy="881.20" r="3.4" fill="#ff30ff" stroke="none" stroke-width="0"/>
<circle cx="145.00" cy="895.50" r="3.4" fill="#ff30ff" stroke="none" stroke-width="0"/>
<circle cx="484.20" cy="711.90" r="3.4" fill="#80ffff" stroke="none" stroke-width="0"/>
<circle cx="472.00" cy="790.10" r="3.4" fill="#b44cf0" stroke="none" stroke-width="0"/>
<circle cx="449.30" cy="840.40" r="3.4" fill="#ff30ff" stroke="none" stroke-width="0"/>
<circle cx="438.20" cy="852.10" r="3.4" fill="#ff30ff" stroke="none" stroke-width="0"/>
<circle cx="370.20" cy="880.20" r="3.4" fill="#ff30ff" stroke="none" stroke-width="0"/>
<circle cx="191.70" cy="895.50" r="3.4" fill="#ff30ff" stroke="none" stroke-width="0"/>
<circle cx="486.40" cy="709.40" r="3.4" fill="#80ffff" stroke="none" stroke-width="0"/>
<circle cx="484.20" cy="786.10" r="3.4" fill="#b44cf0" stroke="none" stroke-width="0"/>
<circle cx="479.60" cy="837.20" r="3.4" fill="#ff30ff" stroke="none" stroke-width="0"/>
<circle cx="476.60" cy="849.60" r="3.4" fill="#ff30ff" stroke="none" stroke-width="0"/>
<circle cx="456.90" cy="879.10" r="3.4" fill="#ff30ff" stroke="none" stroke-width="0"/>
<circle cx="315.50" cy="895.60" r="3.4" fill="#ff30ff" stroke="none" stroke-width="0"/>
<circle cx="487.10" cy="703.00" r="3.4" fill="#80ffff" stroke="none" stroke-width="0"/>
<circle cx="487.00" cy="774.30" r="3.4" fill="#b44cf0" stroke="none" stroke-width="0"/>
<circle cx="486.90" cy="827.60" r="3.4" fill="#ff30ff" stroke="none" stroke-width="0"/>
<circle cx="486.90" cy="841.50" r="3.4" fill="#ff30ff" stroke="none" stroke-width="0"/>
<circle cx="486.10" cy="875.50" r="3.4" fill="#ff30ff" stroke="none" stroke-width="0"/>
<circle cx="476.60" cy="894.90" r="3.4" fill="#ff30ff" stroke="none" stroke-width="0"/>
<rect x="507.25" y="640.45" width="8.7" height="8.7" fill="#000" stroke="none" stroke-width="0"/>
<circle cx="504.70" cy="652.30" r="4.3" fill="#000" stroke="none" stroke-width="0"/>
<rect x="442.00" y="661.80" width="8.2" height="8.2" fill="#fff" stroke="#000" stroke-width="1.1"/>
<polygon points="449.60,674.80 455.10,680.30 449.60,685.80 444.10,680.30" fill="#000" stroke="none" stroke-width="0"/>
<circle cx="453.30" cy="682.00" r="3.9" fill="#fff" stroke="#000" stroke-width="1.1"/>
<polygon points="414.10,688.10 419.70,693.70 414.10,699.30 408.50,693.70" fill="#fff" stroke="#000" stroke-width="1.1"/>
<rect x="482.70" y="663.80" width="9.0" height="9.0" fill="#ec9428" stroke="none" stroke-width="0"/>
<rect x="127.10" y="892.60" width="9.2" height="9.2" fill="#4f4fb8" stroke="none" stroke-width="0"/>
<rect x="111.0" y="509.0" width="460.5" height="401.6" fill="none" stroke="#000" stroke-width="1.7"/>
<line x1="107.50" y1="897.00" x2="111.00" y2="897.00" stroke="#000" stroke-width="1.5" />
<text x="102.60" y="900.60" font-family="'Liberation Sans', sans-serif" font-size="10" font-weight="bold" font-style="normal" text-anchor="end" fill="#000" >0</text>
<line x1="107.50" y1="822.35" x2="111.00" y2="822.35" stroke="#000" stroke-width="1.5" />
<text x="102.60" y="825.95" font-family="'Liberation Sans', sans-serif" font-size="10" font-weight="bold" font-style="normal" text-anchor="end" fill="#000" >1</text>
<line x1="107.50" y1="747.70" x2="111.00" y2="747.70" stroke="#000" stroke-width="1.5" />
<text x="102.60" y="751.30" font-family="'Liberation Sans', sans-serif" font-size="10" font-weight="bold" font-style="normal" text-anchor="end" fill="#000" >2</text>
<line x1="107.50" y1="673.05" x2="111.00" y2="673.05" stroke="#000" stroke-width="1.5" />
<text x="102.60" y="676.65" font-family="'Liberation Sans', sans-serif" font-size="10" font-weight="bold" font-style="normal" text-anchor="end" fill="#000" >3</text>
<line x1="107.50" y1="598.40" x2="111.00" y2="598.40" stroke="#000" stroke-width="1.5" />
<text x="102.60" y="602.00" font-family="'Liberation Sans', sans-serif" font-size="10" font-weight="bold" font-style="normal" text-anchor="end" fill="#000" >4</text>
<line x1="107.50" y1="523.75" x2="111.00" y2="523.75" stroke="#000" stroke-width="1.5" />
<text x="102.60" y="527.35" font-family="'Liberation Sans', sans-serif" font-size="10" font-weight="bold" font-style="normal" text-anchor="end" fill="#000" >5</text>
<line x1="131.60" y1="910.60" x2="131.60" y2="914.10" stroke="#000" stroke-width="1.5" />
<text x="131.60" y="925.20" font-family="'Liberation Sans', sans-serif" font-size="10" font-weight="bold" font-style="normal" text-anchor="middle" fill="#000" >0</text>
<line x1="219.20" y1="910.60" x2="219.20" y2="914.10" stroke="#000" stroke-width="1.5" />
<text x="219.20" y="925.20" font-family="'Liberation Sans', sans-serif" font-size="10" font-weight="bold" font-style="normal" text-anchor="middle" fill="#000" >100</text>
<line x1="306.80" y1="910.60" x2="306.80" y2="914.10" stroke="#000" stroke-width="1.5" />
<text x="306.80" y="925.20" font-family="'Liberation Sans', sans-serif" font-size="10" font-weight="bold" font-style="normal" text-anchor="middle" fill="#000" >200</text>
<line x1="394.40" y1="910.60" x2="394.40" y2="914.10" stroke="#000" stroke-width="1.5" />
<text x="394.40" y="925.20" font-family="'Liberation Sans', sans-serif" font-size="10" font-weight="bold" font-style="normal" text-anchor="middle" fill="#000" >300</text>
<line x1="482.00" y1="910.60" x2="482.00" y2="914.10" stroke="#000" stroke-width="1.5" />
<text x="482.00" y="925.20" font-family="'Liberation Sans', sans-serif" font-size="10" font-weight="bold" font-style="normal" text-anchor="middle" fill="#000" >400</text>
<line x1="569.60" y1="910.60" x2="569.60" y2="914.10" stroke="#000" stroke-width="1.5" />
<text x="569.60" y="925.20" font-family="'Liberation Sans', sans-serif" font-size="10" font-weight="bold" font-style="normal" text-anchor="middle" fill="#000" >500</text>
<text x="110.00" y="506.80" font-family="'Liberation Sans', sans-serif" font-size="10.6" font-weight="normal" font-style="normal" text-anchor="start" fill="#000" ><tspan font-size="13.5">×</tspan><tspan dx="0.6">10</tspan><tspan font-size="7.8" dy="-4.8">5</tspan></text>
<text x="340.40" y="958.80" font-family="'Liberation Sans', sans-serif" font-size="18.5" font-weight="bold" font-style="normal" text-anchor="middle" fill="#000" ><tspan font-family="'Liberation Serif', serif" font-style="italic" font-weight="normal" font-size="21">δ</tspan><tspan font-size="11.8" dx="4.2" dy="-6.8">20</tspan><tspan dy="6.8" dx="0.3">Ne</tspan><tspan font-weight="normal" dx="4.2">(</tspan><tspan font-weight="normal" textLength="18" lengthAdjust="spacingAndGlyphs">‰</tspan><tspan font-weight="normal">)</tspan></text>
<g transform="translate(79.7,710.3) rotate(-90)">
<text x="0.00" y="0.00" font-family="'Liberation Sans', sans-serif" font-size="18.5" font-weight="bold" font-style="normal" text-anchor="middle" fill="#000" ><tspan font-family="'Liberation Serif', serif" font-style="italic" font-weight="normal" font-size="21">δ</tspan><tspan font-size="11.8" dx="4.2" dy="-6.8">3</tspan><tspan dy="6.8" dx="0.3">He</tspan><tspan font-weight="normal" dx="4.2">(</tspan><tspan font-weight="normal" textLength="18" lengthAdjust="spacingAndGlyphs">‰</tspan><tspan font-weight="normal">)</tspan></text>
</g>
<text x="0.00" y="514.20" font-family="'Liberation Sans', sans-serif" font-size="37.5" font-weight="bold" font-style="normal" text-anchor="start" fill="#000" >b<tspan dx="0.6">)</tspan></text>
<rect x="120.6" y="514.1" width="440.9" height="106.6" rx="2" fill="#fff" fill-opacity="0.8" stroke="#d6d6d6" stroke-width="1"/>
<line x1="124.6" y1="522.0" x2="154.9" y2="522.0" stroke="#d62728" stroke-width="1.5" stroke-dasharray="10.9 2.9 1.6 2.9"/>
<text x="163.40" y="525.70" font-family="'Liberation Sans', sans-serif" font-size="10.35" font-weight="bold" font-style="normal" text-anchor="start" fill="#000" >Case - I (Magnetized), PHE @ 200 km</text>
<line x1="124.6" y1="536.9" x2="154.9" y2="536.9" stroke="#d62728" stroke-width="1.5" stroke-dasharray="7.7 7.5"/>
<text x="163.40" y="540.60" font-family="'Liberation Sans', sans-serif" font-size="10.35" font-weight="bold" font-style="normal" text-anchor="start" fill="#000" >Case - I (Magnetized), PHE @ 250 km</text>
<line x1="124.6" y1="551.8" x2="154.9" y2="551.8" stroke="#d62728" stroke-width="1.5" stroke-dasharray="1.5 1.56"/>
<text x="163.40" y="555.50" font-family="'Liberation Sans', sans-serif" font-size="10.35" font-weight="bold" font-style="normal" text-anchor="start" fill="#000" >Case - I (Magnetized), PHE @ 300 km</text>
<line x1="124.6" y1="566.7" x2="154.9" y2="566.7" stroke="#d62728" stroke-width="1.5" stroke-dasharray="1.5 7.6"/>
<text x="163.40" y="570.40" font-family="'Liberation Sans', sans-serif" font-size="10.35" font-weight="bold" font-style="normal" text-anchor="start" fill="#000" >Case - I (Magnetized), PHE @ 325 km</text>
<line x1="124.6" y1="581.6" x2="154.9" y2="581.6" stroke="#d62728" stroke-width="1.5" stroke-dasharray="4.7 7.4 1.5 7.9 1.5 7.9"/>
<text x="163.40" y="585.30" font-family="'Liberation Sans', sans-serif" font-size="10.35" font-weight="bold" font-style="normal" text-anchor="start" fill="#000" >Case - I (Magnetized), PHE @ 350 km</text>
<line x1="124.6" y1="596.5" x2="154.9" y2="596.5" stroke="#d62728" stroke-width="1.5"/>
<text x="163.40" y="600.20" font-family="'Liberation Sans', sans-serif" font-size="10.35" font-weight="bold" font-style="normal" text-anchor="start" fill="#000" >Case - I (Magnetized), PHE @ 401 km</text>
<text x="163.40" y="614.90" font-family="'Liberation Sans', sans-serif" font-size="10.35" font-weight="bold" font-style="normal" text-anchor="start" fill="#000" >Ilmenite 71501 (Lunar soil)</text>
<rect x="135.30" y="606.70" width="9.0" height="9.0" fill="#000" stroke="none" stroke-width="0"/>
<text x="404.20" y="525.70" font-family="'Liberation Sans', sans-serif" font-size="10.35" font-weight="bold" font-style="normal" text-anchor="start" fill="#000" >Ilmenite 12001 (Lunar soil)</text>
<text x="404.20" y="540.60" font-family="'Liberation Sans', sans-serif" font-size="10.35" font-weight="bold" font-style="normal" text-anchor="start" fill="#000" >Ilmenite 74241 (Lunar soil)</text>
<text x="404.20" y="555.50" font-family="'Liberation Sans', sans-serif" font-size="10.35" font-weight="bold" font-style="normal" text-anchor="start" fill="#000" >Breccias 79135 (Lunar regolith)</text>
<text x="404.20" y="570.40" font-family="'Liberation Sans', sans-serif" font-size="10.35" font-weight="bold" font-style="normal" text-anchor="start" fill="#000" >Breccias 79035 (Lunar regolith)</text>
<text x="404.20" y="585.30" font-family="'Liberation Sans', sans-serif" font-size="10.35" font-weight="bold" font-style="normal" text-anchor="start" fill="#000" >Breccias 14301 (Lunar regolith)</text>
<text x="404.20" y="600.20" font-family="'Liberation Sans', sans-serif" font-size="10.35" font-weight="bold" font-style="normal" text-anchor="start" fill="#000" >Solar wind</text>
<text x="404.20" y="614.90" font-family="'Liberation Sans', sans-serif" font-size="10.35" font-weight="bold" font-style="normal" text-anchor="start" fill="#000" >Earth’s atmosphere</text>
<circle cx="381.30" cy="522.00" r="4.6" fill="#000" stroke="none" stroke-width="0"/>
<polygon points="381.30,530.90 387.30,536.90 381.30,542.90 375.30,536.90" fill="#000" stroke="none" stroke-width="0"/>
<rect x="377.10" y="547.60" width="8.4" height="8.4" fill="#fff" stroke="#000" stroke-width="1.1"/>
<circle cx="381.30" cy="566.70" r="4.1" fill="#fff" stroke="#000" stroke-width="1.1"/>
<polygon points="381.30,575.90 387.00,581.60 381.30,587.30 375.60,581.60" fill="#fff" stroke="#000" stroke-width="1.1"/>
<rect x="376.70" y="591.90" width="9.2" height="9.2" fill="#ec9428" stroke="none" stroke-width="0"/>
<rect x="376.70" y="606.60" width="9.2" height="9.2" fill="#4f4fb8" stroke="none" stroke-width="0"/>
<defs><linearGradient id="cbb" x1="0" y1="1" x2="0" y2="0"><stop offset="0.0000" stop-color="#ff22ff"/><stop offset="0.0357" stop-color="#fb26ff"/><stop offset="0.0714" stop-color="#f829ff"/><stop offset="0.1071" stop-color="#f42cff"/><stop offset="0.1429" stop-color="#f030ff"/><stop offset="0.1786" stop-color="#e734ff"/><stop offset="0.2143" stop-color="#de38ff"/><stop offset="0.2500" stop-color="#d63cff"/><stop offset="0.2857" stop-color="#cd40ff"/><stop offset="0.3214" stop-color="#c346fe"/><stop offset="0.3571" stop-color="#b94bfc"/><stop offset="0.3929" stop-color="#af50fb"/><stop offset="0.4286" stop-color="#a556fa"/><stop offset="0.4643" stop-color="#9a62fa"/><stop offset="0.5000" stop-color="#906dfa"/><stop offset="0.5357" stop-color="#8578fa"/><stop offset="0.5714" stop-color="#7a84fa"/><stop offset="0.6071" stop-color="#748ffa"/><stop offset="0.6429" stop-color="#6f9afa"/><stop offset="0.6786" stop-color="#6aa5fa"/><stop offset="0.7143" stop-color="#64b0fa"/><stop offset="0.7500" stop-color="#66bcfa"/><stop offset="0.7857" stop-color="#68c7fb"/><stop offset="0.8214" stop-color="#6ad2fc"/><stop offset="0.8571" stop-color="#6cdefc"/><stop offset="0.8929" stop-color="#71e6fd"/><stop offset="0.9286" stop-color="#76eefe"/><stop offset="0.9643" stop-color="#7bf7fe"/><stop offset="1.0000" stop-color="#80ffff"/></linearGradient></defs>
<path d="M600.4,910.5 L600.4,527.8 L613.8,527.8 L613.8,910.5 Z" fill="url(#cbb)"/>
<path d="M600.4,527.8 L607.0999999999999,507.4 L613.8,527.8 Z" fill="#80ffff"/>
<path d="M600.4,910.5 L600.4,527.8 L607.0999999999999,507.4 L613.8,527.8 L613.8,910.5 Z" fill="none" stroke="#000" stroke-width="1.4"/>
<line x1="613.80" y1="910.50" x2="617.30" y2="910.50" stroke="#000" stroke-width="1.4" />
<text x="620.40" y="914.10" font-family="'Liberation Sans', sans-serif" font-size="10" font-weight="bold" font-style="normal" text-anchor="start" fill="#000" >0.00</text>
<line x1="613.80" y1="855.83" x2="617.30" y2="855.83" stroke="#000" stroke-width="1.4" />
<text x="620.40" y="859.43" font-family="'Liberation Sans', sans-serif" font-size="10" font-weight="bold" font-style="normal" text-anchor="start" fill="#000" >0.05</text>
<line x1="613.80" y1="801.16" x2="617.30" y2="801.16" stroke="#000" stroke-width="1.4" />
<text x="620.40" y="804.76" font-family="'Liberation Sans', sans-serif" font-size="10" font-weight="bold" font-style="normal" text-anchor="start" fill="#000" >0.10</text>
<line x1="613.80" y1="746.49" x2="617.30" y2="746.49" stroke="#000" stroke-width="1.4" />
<text x="620.40" y="750.09" font-family="'Liberation Sans', sans-serif" font-size="10" font-weight="bold" font-style="normal" text-anchor="start" fill="#000" >0.15</text>
<line x1="613.80" y1="691.81" x2="617.30" y2="691.81" stroke="#000" stroke-width="1.4" />
<text x="620.40" y="695.41" font-family="'Liberation Sans', sans-serif" font-size="10" font-weight="bold" font-style="normal" text-anchor="start" fill="#000" >0.20</text>
<line x1="613.80" y1="637.14" x2="617.30" y2="637.14" stroke="#000" stroke-width="1.4" />
<text x="620.40" y="640.74" font-family="'Liberation Sans', sans-serif" font-size="10" font-weight="bold" font-style="normal" text-anchor="start" fill="#000" >0.25</text>
<line x1="613.80" y1="582.47" x2="617.30" y2="582.47" stroke="#000" stroke-width="1.4" />
<text x="620.40" y="586.07" font-family="'Liberation Sans', sans-serif" font-size="10" font-weight="bold" font-style="normal" text-anchor="start" fill="#000" >0.30</text>
<line x1="613.80" y1="527.80" x2="617.30" y2="527.80" stroke="#000" stroke-width="1.4" />
<text x="620.40" y="531.40" font-family="'Liberation Sans', sans-serif" font-size="10" font-weight="bold" font-style="normal" text-anchor="start" fill="#000" >0.35</text>
<g transform="translate(673.2,720) rotate(-90)">
<text x="0.00" y="0.00" font-family="'Liberation Sans', sans-serif" font-size="16.4" font-weight="bold" font-style="normal" text-anchor="middle" fill="#000" >Solar wind mass fraction</text>
</g>
<polyline points="549.4,1380.0 548.9,1379.1 548.4,1378.2 547.9,1377.4 547.8,1377.1 547.4,1376.5 546.9,1375.6 546.4,1374.7 546.2,1374.3 545.9,1373.8 545.4,1373.0 544.9,1372.1 544.6,1371.5 544.4,1371.2 543.9,1370.3 543.4,1369.4 543.0,1368.8 542.8,1368.5 542.3,1367.7 541.8,1366.8 541.4,1366.1 541.3,1365.9 540.7,1365.0 540.2,1364.1 539.7,1363.4 539.6,1363.3 539.1,1362.4 538.6,1361.5 538.1,1360.8 538.0,1360.6 537.5,1359.7 536.9,1358.9 536.5,1358.3 536.3,1358.0 535.8,1357.1 535.2,1356.2 534.9,1355.8 534.6,1355.3 534.1,1354.5 533.5,1353.6 533.3,1353.3 532.9,1352.7 532.3,1351.8 531.8,1350.9 531.7,1350.9 531.2,1350.1 530.6,1349.2 530.1,1348.5 530.0,1348.3 529.4,1347.4 528.8,1346.5 528.5,1346.1 528.2,1345.7 527.6,1344.8 526.9,1343.9 526.9,1343.8 526.3,1343.0 525.7,1342.1 525.3,1341.5 525.1,1341.2 524.5,1340.4 523.8,1339.5 523.7,1339.3 523.2,1338.6 522.5,1337.7 522.1,1337.0 521.9,1336.8 521.3,1336.0 520.6,1335.1 520.4,1334.9 519.9,1334.2 519.3,1333.3 518.8,1332.7 518.6,1332.4 518.0,1331.6 517.3,1330.7 517.2,1330.6 516.6,1329.8 515.9,1328.9 515.6,1328.5 515.2,1328.0 514.5,1327.2 514.0,1326.5 513.9,1326.3 513.2,1325.4 512.5,1324.5 512.4,1324.5 511.7,1323.6 511.0,1322.8 510.8,1322.5 510.3,1321.9 509.6,1321.0 509.2,1320.5 508.9,1320.1 508.1,1319.2 507.6,1318.6 507.4,1318.3 506.7,1317.5 506.0,1316.7 505.9,1316.6 505.2,1315.7 504.4,1314.8 504.4,1314.8 503.6,1313.9 502.9,1313.1 502.8,1312.9 502.1,1312.2 501.3,1311.3 501.1,1311.1 500.5,1310.4 499.8,1309.5 499.5,1309.3 499.0,1308.7 498.2,1307.8 497.9,1307.5 497.4,1306.9 496.6,1306.0 496.3,1305.8 495.7,1305.1 494.9,1304.3 494.7,1304.0 494.1,1303.4 493.3,1302.5 493.1,1302.3 492.4,1301.6 491.6,1300.7 491.5,1300.6 490.7,1299.8 489.9,1299.0 489.9,1299.0 489.0,1298.1 488.3,1297.3 488.1,1297.2 487.3,1296.3 486.7,1295.7 486.4,1295.4 485.5,1294.6 485.1,1294.1 484.6,1293.7 483.7,1292.8 483.5,1292.5 482.8,1291.9 481.9,1291.0 481.8,1291.0 481.0,1290.2 480.2,1289.5 480.0,1289.3 479.1,1288.4 478.6,1287.9 478.2,1287.5 477.2,1286.6 477.0,1286.4 476.3,1285.8 475.4,1285.0 475.3,1284.9 474.3,1284.0 473.8,1283.5 473.4,1283.1 472.4,1282.2 472.2,1282.1 471.4,1281.4 470.6,1280.6 470.4,1280.5 469.4,1279.6 469.0,1279.2 468.4,1278.7 467.4,1277.9 467.3,1277.8 466.3,1277.0 465.8,1276.5 465.3,1276.1 464.2,1275.2 464.2,1275.1 463.2,1274.3 462.5,1273.8 462.1,1273.4 461.0,1272.5 460.9,1272.5 460.0,1271.7 459.3,1271.2 458.9,1270.8 457.8,1269.9 457.7,1269.9 456.7,1269.0 456.1,1268.6 455.5,1268.1 454.5,1267.3 454.4,1267.3 453.3,1266.4 452.9,1266.1 452.1,1265.5 451.3,1264.8 451.0,1264.6 449.8,1263.7 449.7,1263.6 448.7,1262.9 448.1,1262.4 447.5,1262.0 446.5,1261.2 446.3,1261.1 445.1,1260.2 444.8,1260.0 443.9,1259.3 443.2,1258.9 442.6,1258.5 441.6,1257.7 441.4,1257.6 440.2,1256.7 440.0,1256.6 438.9,1255.8 438.4,1255.5 437.6,1254.9 436.8,1254.3 436.4,1254.0 435.2,1253.2 435.1,1253.2 433.8,1252.3 433.6,1252.2 432.5,1251.4 432.0,1251.1 431.2,1250.5 430.4,1250.0 429.8,1249.6 428.8,1249.0 428.5,1248.8 427.2,1247.9 427.1,1247.9 425.7,1247.0 425.5,1246.9 424.4,1246.1 423.9,1245.9 423.0,1245.2 422.3,1244.8 421.6,1244.4 420.7,1243.8 420.1,1243.5 419.1,1242.8 418.7,1242.6 417.5,1241.9 417.3,1241.7 415.9,1240.9 415.8,1240.8 414.3,1240.0 414.3,1239.9 412.8,1239.1 412.7,1239.0 411.3,1238.2 411.1,1238.0 409.8,1237.3 409.5,1237.1 408.3,1236.4 407.9,1236.2 406.8,1235.6 406.2,1235.3 405.2,1234.7 404.6,1234.4 403.6,1233.8 403.0,1233.5 402.0,1232.9 401.4,1232.6 400.4,1232.0 399.8,1231.7 398.8,1231.2 398.2,1230.8 397.2,1230.3 396.6,1230.0 395.5,1229.4 395.0,1229.1 393.8,1228.5 393.4,1228.3 392.2,1227.6 391.8,1227.4 390.5,1226.7 390.2,1226.6 388.7,1225.9 388.6,1225.8 387.0,1225.0 386.9,1225.0 385.3,1224.2 385.2,1224.1 383.7,1223.4 383.5,1223.2 382.1,1222.6 381.7,1222.3 380.5,1221.8 379.9,1221.5 378.9,1221.0 378.0,1220.6 377.3,1220.2 376.2,1219.7 375.7,1219.5 374.3,1218.8 374.1,1218.7 372.5,1218.0 372.4,1217.9 370.9,1217.2 370.5,1217.1 369.3,1216.5 368.6,1216.2 367.6,1215.7 366.6,1215.3 366.0,1215.0 364.7,1214.4 364.4,1214.3 362.8,1213.6 362.7,1213.5 361.2,1212.9 360.7,1212.7 359.6,1212.2 358.6,1211.8 358.0,1211.5 356.6,1210.9 356.4,1210.8 354.8,1210.1 354.5,1210.0 353.2,1209.5 352.4,1209.1 351.6,1208.8 350.3,1208.2 350.0,1208.1 348.3,1207.5 348.1,1207.4 346.7,1206.8 345.9,1206.5 345.1,1206.2 343.7,1205.6 343.5,1205.5 341.9,1204.9 341.5,1204.7 340.3,1204.3 339.2,1203.8 338.7,1203.6 337.1,1203.0 337.0,1203.0 335.5,1202.4 334.7,1202.1 333.9,1201.8 332.3,1201.2 332.3,1201.2 330.6,1200.6 330.0,1200.3 329.0,1200.0 327.6,1199.4 327.4,1199.4 325.8,1198.8 325.2,1198.6 324.2,1198.2 322.7,1197.7 322.6,1197.6 321.0,1197.1 320.2,1196.8 319.4,1196.5 317.8,1195.9 317.7,1195.9 316.2,1195.4 315.2,1195.0 314.6,1194.8 313.0,1194.3 312.6,1194.2 311.3,1193.7 310.0,1193.3 309.7,1193.2 308.1,1192.6 307.4,1192.4 306.5,1192.1 304.9,1191.6 304.7,1191.5 303.3,1191.0 302.0,1190.6 301.7,1190.5 300.1,1190.0 299.3,1189.8 298.5,1189.5 296.9,1189.0 296.5,1188.9 295.3,1188.5 293.7,1188.0 293.7,1188.0 292.0,1187.5 290.9,1187.1 290.4,1187.0 288.8,1186.5 288.0,1186.2 287.2,1186.0 285.6,1185.5 285.1,1185.3 284.0,1185.0 282.4,1184.5 282.2,1184.5 280.8,1184.1 279.2,1183.6 279.2,1183.6 277.6,1183.1 276.1,1182.7 276.0,1182.7 274.4,1182.2 273.1,1181.8 272.7,1181.7 271.1,1181.3 269.9,1180.9 269.5,1180.8 267.9,1180.4 266.8,1180.1 266.3,1179.9 264.7,1179.5 263.6,1179.2 263.1,1179.1 261.5,1178.6 260.3,1178.3 259.9,1178.2 258.3,1177.7 257.0,1177.4 256.7,1177.3 255.1,1176.9 253.7,1176.5 253.4,1176.5 251.8,1176.1 250.3,1175.7 250.2,1175.6 248.6,1175.2 247.0,1174.8 246.9,1174.8 245.4,1174.4 243.8,1174.0 243.4,1173.9 242.2,1173.6 240.6,1173.2 239.9,1173.0 239.0,1172.8 237.4,1172.4 236.3,1172.1 235.8,1172.0 234.1,1171.6 232.6,1171.3 232.5,1171.2 230.9,1170.8 229.3,1170.5 229.0,1170.4 227.7,1170.1 226.1,1169.7 225.2,1169.5 224.5,1169.3 222.9,1169.0 221.4,1168.6 221.3,1168.6 219.7,1168.2 218.1,1167.9 217.5,1167.7 216.4,1167.5 214.8,1167.1 213.6,1166.9 213.2,1166.8 211.6,1166.4 210.0,1166.1 209.6,1166.0 208.4,1165.7 206.8,1165.4 205.6,1165.1 205.2,1165.0 203.6,1164.7 202.0,1164.3 201.5,1164.2 200.4,1164.0 198.8,1163.6 197.3,1163.3 197.1,1163.3 195.5,1163.0 193.9,1162.6 193.1,1162.5 192.3,1162.3 190.7,1162.0 189.1,1161.6 188.8,1161.6 187.5,1161.3 185.9,1161.0 184.4,1160.7 184.3,1160.7 182.7,1160.3 181.1,1160.0 180.0,1159.8 179.5,1159.7 177.8,1159.4 176.2,1159.1 175.4,1158.9 174.6,1158.8 173.0,1158.5 171.4,1158.2 170.9,1158.0 169.8,1157.8 168.2,1157.5 166.6,1157.2 166.2,1157.2 165.0,1156.9 163.4,1156.6 161.8,1156.3 161.4,1156.3 160.2,1156.0 158.5,1155.8 156.9,1155.5 156.6,1155.4 155.3,1155.2 153.7,1154.9 152.1,1154.6 151.7,1154.5 150.5,1154.3 148.9,1154.0 147.3,1153.7 146.7,1153.6 145.7,1153.5 144.1,1153.2 142.5,1152.9 141.6,1152.8 140.9,1152.6 139.2,1152.4 137.6,1152.1 136.5,1151.9 136.0,1151.8 134.4,1151.5 132.8,1151.3 131.2,1151.0" fill="none" stroke="#5ab4e6" stroke-width="1.5" stroke-dasharray="10.9 2.9 1.6 2.9" />
<polyline points="549.4,1380.0 547.8,1379.6 546.2,1379.2 545.7,1379.1 544.6,1378.9 543.0,1378.5 542.0,1378.2 541.4,1378.1 539.7,1377.7 538.3,1377.4 538.1,1377.3 536.5,1376.9 534.9,1376.5 534.7,1376.5 533.3,1376.1 531.7,1375.7 531.2,1375.6 530.1,1375.3 528.5,1374.9 527.6,1374.7 526.9,1374.5 525.3,1374.1 524.1,1373.8 523.7,1373.7 522.1,1373.3 520.6,1373.0 520.4,1372.9 518.8,1372.5 517.2,1372.1 517.2,1372.1 515.6,1371.7 514.0,1371.2 513.8,1371.2 512.4,1370.8 510.8,1370.4 510.4,1370.3 509.2,1370.0 507.6,1369.6 507.1,1369.4 506.0,1369.1 504.4,1368.7 503.8,1368.5 502.8,1368.3 501.1,1367.8 500.5,1367.7 499.5,1367.4 497.9,1367.0 497.3,1366.8 496.3,1366.5 494.7,1366.1 494.1,1365.9 493.1,1365.6 491.5,1365.2 490.9,1365.0 489.9,1364.7 488.3,1364.3 487.7,1364.1 486.7,1363.8 485.1,1363.4 484.6,1363.3 483.5,1362.9 481.8,1362.5 481.5,1362.4 480.2,1362.0 478.6,1361.6 478.4,1361.5 477.0,1361.1 475.4,1360.6 475.4,1360.6 473.8,1360.2 472.4,1359.7 472.2,1359.7 470.6,1359.2 469.4,1358.9 469.0,1358.7 467.4,1358.3 466.5,1358.0 465.8,1357.8 464.2,1357.3 463.5,1357.1 462.5,1356.8 460.9,1356.3 460.6,1356.2 459.3,1355.8 457.7,1355.3 457.7,1355.3 456.1,1354.8 454.9,1354.5 454.5,1354.3 452.9,1353.8 452.1,1353.6 451.3,1353.3 449.7,1352.8 449.3,1352.7 448.1,1352.3 446.5,1351.8 446.5,1351.8 444.8,1351.3 443.7,1350.9 443.2,1350.8 441.6,1350.3 441.0,1350.1 440.0,1349.7 438.4,1349.2 438.3,1349.2 436.8,1348.7 435.6,1348.3 435.2,1348.2 433.6,1347.6 433.0,1347.4 432.0,1347.1 430.4,1346.5 430.3,1346.5 428.8,1346.0 427.7,1345.7 427.2,1345.5 425.5,1344.9 425.1,1344.8 423.9,1344.4 422.6,1343.9 422.3,1343.8 420.7,1343.3 420.0,1343.0 419.1,1342.7 417.5,1342.1 417.5,1342.1 415.9,1341.6 415.0,1341.2 414.3,1341.0 412.7,1340.4 412.5,1340.4 411.1,1339.9 410.0,1339.5 409.5,1339.3 407.9,1338.7 407.6,1338.6 406.2,1338.1 405.2,1337.7 404.6,1337.5 403.0,1336.9 402.7,1336.8 401.4,1336.4 400.4,1336.0 399.8,1335.8 398.2,1335.2 398.0,1335.1 396.6,1334.6 395.6,1334.2 395.0,1334.0 393.4,1333.3 393.3,1333.3 391.8,1332.7 391.0,1332.4 390.2,1332.1 388.7,1331.6 388.6,1331.5 386.9,1330.9 386.4,1330.7 385.3,1330.2 384.2,1329.8 383.7,1329.6 382.1,1329.0 382.0,1328.9 380.5,1328.3 379.7,1328.0 378.9,1327.7 377.5,1327.2 377.3,1327.1 375.7,1326.4 375.4,1326.3 374.1,1325.8 373.2,1325.4 372.5,1325.1 371.0,1324.5 370.9,1324.4 369.3,1323.8 368.9,1323.6 367.6,1323.1 366.8,1322.8 366.0,1322.4 364.7,1321.9 364.4,1321.8 362.8,1321.1 362.6,1321.0 361.2,1320.4 360.5,1320.1 359.6,1319.7 358.5,1319.2 358.0,1319.0 356.4,1318.3 356.4,1318.3 354.8,1317.6 354.4,1317.5 353.2,1316.9 352.4,1316.6 351.6,1316.2 350.4,1315.7 350.0,1315.5 348.4,1314.8 348.3,1314.8 346.7,1314.1 346.5,1313.9 345.1,1313.3 344.5,1313.1 343.5,1312.6 342.6,1312.2 341.9,1311.9 340.6,1311.3 340.3,1311.1 338.7,1310.4 338.7,1310.4 337.1,1309.6 336.8,1309.5 335.5,1308.9 335.0,1308.7 333.9,1308.1 333.1,1307.8 332.3,1307.4 331.2,1306.9 330.6,1306.6 329.4,1306.0 329.0,1305.8 327.6,1305.1 327.4,1305.1 325.8,1304.3 325.8,1304.3 324.2,1303.5 324.0,1303.4 322.6,1302.7 322.2,1302.5 321.0,1301.9 320.4,1301.6 319.4,1301.1 318.6,1300.7 317.8,1300.3 316.9,1299.8 316.2,1299.5 315.1,1299.0 314.6,1298.7 313.4,1298.1 313.0,1297.9 311.7,1297.2 311.3,1297.0 310.0,1296.3 309.7,1296.2 308.3,1295.4 308.1,1295.4 306.6,1294.6 306.5,1294.5 305.0,1293.7 304.9,1293.7 303.3,1292.8 303.3,1292.8 301.7,1291.9 301.7,1291.9 300.1,1291.1 300.0,1291.0 298.5,1290.2 298.4,1290.2 296.9,1289.3 296.8,1289.3 295.3,1288.4 295.2,1288.4 293.7,1287.6 293.6,1287.5 292.0,1286.7 292.0,1286.6 290.4,1285.8 290.4,1285.8 288.9,1284.9 288.8,1284.9 287.3,1284.0 287.2,1283.9 285.8,1283.1 285.6,1283.0 284.2,1282.2 284.0,1282.1 282.7,1281.4 282.4,1281.2 281.2,1280.5 280.8,1280.2 279.7,1279.6 279.2,1279.3 278.2,1278.7 277.6,1278.3 276.7,1277.8 276.0,1277.4 275.3,1277.0 274.4,1276.4 273.8,1276.1 272.7,1275.4 272.4,1275.2 271.1,1274.4 270.9,1274.3 269.5,1273.5 269.5,1273.4 268.0,1272.5 267.9,1272.5 266.6,1271.7 266.3,1271.5 265.2,1270.8 264.7,1270.5 263.8,1269.9 263.1,1269.4 262.4,1269.0 261.5,1268.4 261.0,1268.1 259.9,1267.4 259.7,1267.3 258.3,1266.4 258.3,1266.4 257.0,1265.5 256.7,1265.3 255.6,1264.6 255.1,1264.3 254.3,1263.7 253.4,1263.2 252.9,1262.9 251.8,1262.1 251.6,1262.0 250.3,1261.1 250.2,1261.1 249.0,1260.2 248.6,1260.0 247.7,1259.3 247.0,1258.9 246.4,1258.5 245.4,1257.8 245.1,1257.6 243.8,1256.7 243.8,1256.7 242.6,1255.8 242.2,1255.6 241.3,1254.9 240.6,1254.4 240.0,1254.0 239.0,1253.3 238.8,1253.2 237.6,1252.3 237.4,1252.2 236.3,1251.4 235.8,1251.0 235.1,1250.5 234.1,1249.8 233.9,1249.6 232.7,1248.8 232.5,1248.7 231.5,1247.9 230.9,1247.5 230.3,1247.0 229.3,1246.3 229.1,1246.1 227.9,1245.2 227.7,1245.1 226.7,1244.4 226.1,1243.9 225.5,1243.5 224.5,1242.7 224.4,1242.6 223.2,1241.7 222.9,1241.5 222.1,1240.8 221.3,1240.2 220.9,1240.0 219.8,1239.1 219.7,1239.0 218.7,1238.2 218.1,1237.7 217.5,1237.3 216.4,1236.5 216.4,1236.4 215.3,1235.6 214.8,1235.2 214.2,1234.7 213.2,1233.9 213.1,1233.8 212.0,1232.9 211.6,1232.6 210.9,1232.0 210.0,1231.3 209.8,1231.2 208.7,1230.3 208.4,1230.0 207.7,1229.4 206.8,1228.7 206.6,1228.5 205.6,1227.6 205.2,1227.3 204.5,1226.7 203.6,1226.0 203.5,1225.9 202.4,1225.0 202.0,1224.6 201.4,1224.1 200.4,1223.2 200.3,1223.2 199.3,1222.3 198.8,1221.9 198.3,1221.5 197.3,1220.6 197.1,1220.5 196.3,1219.7 195.5,1219.1 195.3,1218.8 194.3,1217.9 193.9,1217.6 193.3,1217.1 192.3,1216.2 192.3,1216.2 191.3,1215.3 190.7,1214.8 190.3,1214.4 189.4,1213.5 189.1,1213.3 188.4,1212.7 187.5,1211.8 187.4,1211.8 186.5,1210.9 185.9,1210.4 185.5,1210.0 184.6,1209.1 184.3,1208.9 183.6,1208.2 182.7,1207.4 182.7,1207.4 181.8,1206.5 181.1,1205.8 180.8,1205.6 179.9,1204.7 179.5,1204.3 179.0,1203.8 178.1,1203.0 177.8,1202.7 177.2,1202.1 176.3,1201.2 176.2,1201.2 175.4,1200.3 174.6,1199.6 174.5,1199.4 173.6,1198.6 173.0,1198.0 172.7,1197.7 171.8,1196.8 171.4,1196.4 170.9,1195.9 170.0,1195.0 169.8,1194.8 169.2,1194.2 168.3,1193.3 168.2,1193.2 167.4,1192.4 166.6,1191.5 166.6,1191.5 165.7,1190.6 165.0,1189.9 164.9,1189.8 164.0,1188.9 163.4,1188.2 163.2,1188.0 162.4,1187.1 161.8,1186.5 161.5,1186.2 160.7,1185.3 160.2,1184.8 159.9,1184.5 159.0,1183.6 158.5,1183.0 158.2,1182.7 157.4,1181.8 156.9,1181.3 156.6,1180.9 155.8,1180.1 155.3,1179.5 155.0,1179.2 154.2,1178.3 153.7,1177.8 153.4,1177.4 152.6,1176.5 152.1,1176.0 151.8,1175.7 151.0,1174.8 150.5,1174.2 150.3,1173.9 149.5,1173.0 148.9,1172.3 148.7,1172.1 148.0,1171.3 147.3,1170.5 147.2,1170.4 146.4,1169.5 145.7,1168.6 145.7,1168.6 144.9,1167.7 144.2,1166.9 144.1,1166.7 143.4,1166.0 142.7,1165.1 142.5,1164.8 141.9,1164.2 141.2,1163.3 140.9,1162.9 140.5,1162.5 139.7,1161.6 139.2,1161.0 139.0,1160.7 138.3,1159.8 137.6,1159.0 137.6,1158.9 136.8,1158.0 136.1,1157.2 136.0,1157.1 135.4,1156.3 134.7,1155.4 134.4,1155.1 134.0,1154.5 133.3,1153.6 132.8,1153.0 132.6,1152.8 131.9,1151.9 131.2,1151.0" fill="none" stroke="#5ab4e6" stroke-width="1.5" stroke-dasharray="7.7 7.5" />
<polyline points="549.4,1380.0 547.8,1379.9 546.2,1379.8 544.6,1379.7 543.0,1379.6 541.4,1379.5 539.7,1379.4 538.1,1379.3 536.5,1379.2 534.9,1379.1 534.7,1379.1 533.3,1379.0 531.7,1378.9 530.1,1378.8 528.5,1378.7 526.9,1378.6 525.3,1378.5 523.7,1378.4 522.1,1378.3 520.9,1378.2 520.4,1378.2 518.8,1378.1 517.2,1378.0 515.6,1377.9 514.0,1377.8 512.4,1377.7 510.8,1377.6 509.2,1377.4 507.9,1377.4 507.6,1377.3 506.0,1377.2 504.4,1377.1 502.8,1377.0 501.1,1376.9 499.5,1376.8 497.9,1376.6 496.3,1376.5 495.7,1376.5 494.7,1376.4 493.1,1376.3 491.5,1376.2 489.9,1376.0 488.3,1375.9 486.7,1375.8 485.1,1375.7 484.1,1375.6 483.5,1375.5 481.8,1375.4 480.2,1375.3 478.6,1375.2 477.0,1375.0 475.4,1374.9 473.8,1374.8 473.2,1374.7 472.2,1374.6 470.6,1374.5 469.0,1374.4 467.4,1374.2 465.8,1374.1 464.2,1373.9 462.8,1373.8 462.5,1373.8 460.9,1373.7 459.3,1373.5 457.7,1373.4 456.1,1373.2 454.5,1373.1 453.0,1373.0 452.9,1372.9 451.3,1372.8 449.7,1372.6 448.1,1372.5 446.5,1372.3 444.8,1372.2 443.7,1372.1 443.2,1372.0 441.6,1371.9 440.0,1371.7 438.4,1371.6 436.8,1371.4 435.2,1371.2 434.8,1371.2 433.6,1371.1 432.0,1370.9 430.4,1370.7 428.8,1370.6 427.2,1370.4 426.4,1370.3 425.5,1370.2 423.9,1370.0 422.3,1369.9 420.7,1369.7 419.1,1369.5 418.3,1369.4 417.5,1369.3 415.9,1369.2 414.3,1369.0 412.7,1368.8 411.1,1368.6 410.6,1368.5 409.5,1368.4 407.9,1368.2 406.2,1368.0 404.6,1367.8 403.3,1367.7 403.0,1367.6 401.4,1367.4 399.8,1367.2 398.2,1367.0 396.6,1366.8 396.3,1366.8 395.0,1366.6 393.4,1366.4 391.8,1366.2 390.2,1366.0 389.6,1365.9 388.6,1365.8 386.9,1365.6 385.3,1365.3 383.7,1365.1 383.1,1365.0 382.1,1364.9 380.5,1364.7 378.9,1364.4 377.3,1364.2 377.0,1364.1 375.7,1364.0 374.1,1363.7 372.5,1363.5 371.0,1363.3 370.9,1363.2 369.3,1363.0 367.6,1362.7 366.0,1362.5 365.3,1362.4 364.4,1362.2 362.8,1362.0 361.2,1361.7 359.9,1361.5 359.6,1361.5 358.0,1361.2 356.4,1360.9 354.8,1360.7 354.6,1360.6 353.2,1360.4 351.6,1360.1 350.0,1359.8 349.5,1359.7 348.3,1359.5 346.7,1359.2 345.1,1359.0 344.6,1358.9 343.5,1358.7 341.9,1358.4 340.3,1358.1 339.9,1358.0 338.7,1357.7 337.1,1357.4 335.5,1357.1 335.4,1357.1 333.9,1356.8 332.3,1356.5 331.0,1356.2 330.6,1356.1 329.0,1355.8 327.4,1355.5 326.8,1355.3 325.8,1355.1 324.2,1354.8 322.7,1354.5 322.6,1354.4 321.0,1354.1 319.4,1353.7 318.7,1353.6 317.8,1353.4 316.2,1353.0 314.9,1352.7 314.6,1352.6 313.0,1352.2 311.3,1351.9 311.1,1351.8 309.7,1351.5 308.1,1351.1 307.5,1350.9 306.5,1350.7 304.9,1350.3 304.1,1350.1 303.3,1349.9 301.7,1349.4 300.7,1349.2 300.1,1349.0 298.5,1348.6 297.4,1348.3 296.9,1348.1 295.3,1347.7 294.2,1347.4 293.7,1347.3 292.0,1346.8 291.1,1346.5 290.4,1346.3 288.8,1345.9 288.1,1345.7 287.2,1345.4 285.6,1344.9 285.2,1344.8 284.0,1344.4 282.4,1343.9 282.4,1343.9 280.8,1343.4 279.6,1343.0 279.2,1342.9 277.6,1342.3 276.9,1342.1 276.0,1341.8 274.4,1341.3 274.3,1341.2 272.7,1340.7 271.8,1340.4 271.1,1340.1 269.5,1339.6 269.3,1339.5 267.9,1339.0 266.9,1338.6 266.3,1338.4 264.7,1337.8 264.6,1337.7 263.1,1337.2 262.3,1336.8 261.5,1336.5 260.0,1336.0 259.9,1335.9 258.3,1335.3 257.8,1335.1 256.7,1334.6 255.7,1334.2 255.1,1333.9 253.6,1333.3 253.4,1333.2 251.8,1332.5 251.6,1332.4 250.2,1331.8 249.6,1331.6 248.6,1331.1 247.7,1330.7 247.0,1330.4 245.8,1329.8 245.4,1329.6 244.0,1328.9 243.8,1328.8 242.2,1328.0 242.2,1328.0 240.6,1327.2 240.4,1327.2 239.0,1326.4 238.7,1326.3 237.4,1325.6 237.0,1325.4 235.8,1324.7 235.3,1324.5 234.1,1323.9 233.7,1323.6 232.5,1323.0 232.1,1322.8 230.9,1322.1 230.5,1321.9 229.3,1321.2 229.0,1321.0 227.7,1320.2 227.5,1320.1 226.1,1319.2 226.1,1319.2 224.6,1318.3 224.5,1318.3 223.2,1317.5 222.9,1317.2 221.9,1316.6 221.3,1316.2 220.5,1315.7 219.7,1315.1 219.2,1314.8 218.1,1314.1 217.9,1313.9 216.6,1313.1 216.4,1313.0 215.4,1312.2 214.8,1311.8 214.1,1311.3 213.2,1310.6 212.9,1310.4 211.7,1309.5 211.6,1309.5 210.6,1308.7 210.0,1308.2 209.4,1307.8 208.4,1307.0 208.3,1306.9 207.2,1306.0 206.8,1305.7 206.1,1305.1 205.2,1304.4 205.1,1304.3 204.0,1303.4 203.6,1303.0 203.0,1302.5 202.0,1301.6 202.0,1301.6 201.0,1300.7 200.4,1300.2 200.0,1299.8 199.0,1299.0 198.8,1298.7 198.1,1298.1 197.1,1297.2 197.1,1297.2 196.2,1296.3 195.5,1295.7 195.3,1295.4 194.4,1294.6 193.9,1294.1 193.6,1293.7 192.7,1292.8 192.3,1292.4 191.8,1291.9 191.0,1291.0 190.7,1290.7 190.2,1290.2 189.4,1289.3 189.1,1289.0 188.6,1288.4 187.8,1287.5 187.5,1287.2 187.0,1286.6 186.2,1285.8 185.9,1285.3 185.5,1284.9 184.7,1284.0 184.3,1283.4 184.0,1283.1 183.3,1282.2 182.7,1281.5 182.6,1281.4 181.9,1280.5 181.2,1279.6 181.1,1279.4 180.5,1278.7 179.8,1277.8 179.5,1277.3 179.2,1277.0 178.5,1276.1 177.9,1275.2 177.8,1275.2 177.2,1274.3 176.6,1273.4 176.2,1272.9 176.0,1272.5 175.4,1271.7 174.8,1270.8 174.6,1270.6 174.2,1269.9 173.6,1269.0 173.0,1268.2 173.0,1268.1 172.4,1267.3 171.8,1266.4 171.4,1265.7 171.3,1265.5 170.7,1264.6 170.2,1263.7 169.8,1263.1 169.6,1262.9 169.1,1262.0 168.6,1261.1 168.2,1260.5 168.1,1260.2 167.5,1259.3 167.0,1258.5 166.6,1257.7 166.5,1257.6 166.0,1256.7 165.5,1255.8 165.1,1254.9 165.0,1254.8 164.6,1254.0 164.1,1253.2 163.6,1252.3 163.4,1251.8 163.2,1251.4 162.7,1250.5 162.3,1249.6 161.8,1248.8 161.8,1248.7 161.4,1247.9 160.9,1247.0 160.5,1246.1 160.2,1245.4 160.1,1245.2 159.6,1244.4 159.2,1243.5 158.8,1242.6 158.5,1242.0 158.4,1241.7 158.0,1240.8 157.6,1240.0 157.2,1239.1 156.9,1238.5 156.8,1238.2 156.4,1237.3 156.0,1236.4 155.6,1235.6 155.3,1234.8 155.3,1234.7 154.9,1233.8 154.5,1232.9 154.1,1232.0 153.8,1231.2 153.7,1231.0 153.4,1230.3 153.1,1229.4 152.7,1228.5 152.4,1227.6 152.1,1227.0 152.0,1226.7 151.7,1225.9 151.3,1225.0 151.0,1224.1 150.7,1223.2 150.5,1222.8 150.3,1222.3 150.0,1221.5 149.7,1220.6 149.4,1219.7 149.1,1218.8 148.9,1218.4 148.7,1217.9 148.4,1217.1 148.1,1216.2 147.8,1215.3 147.5,1214.4 147.3,1213.7 147.2,1213.5 146.9,1212.7 146.6,1211.8 146.3,1210.9 146.0,1210.0 145.8,1209.1 145.7,1208.9 145.5,1208.2 145.2,1207.4 144.9,1206.5 144.6,1205.6 144.4,1204.7 144.1,1203.8 144.1,1203.8 143.8,1203.0 143.6,1202.1 143.3,1201.2 143.0,1200.3 142.8,1199.4 142.5,1198.6 142.5,1198.4 142.3,1197.7 142.0,1196.8 141.7,1195.9 141.5,1195.0 141.2,1194.2 141.0,1193.3 140.9,1192.7 140.8,1192.4 140.5,1191.5 140.3,1190.6 140.0,1189.8 139.8,1188.9 139.6,1188.0 139.3,1187.1 139.2,1186.7 139.1,1186.2 138.9,1185.3 138.7,1184.5 138.4,1183.6 138.2,1182.7 138.0,1181.8 137.8,1180.9 137.6,1180.4 137.5,1180.1 137.3,1179.2 137.1,1178.3 136.9,1177.4 136.7,1176.5 136.5,1175.7 136.3,1174.8 136.1,1173.9 136.0,1173.7 135.9,1173.0 135.7,1172.1 135.5,1171.3 135.3,1170.4 135.1,1169.5 134.9,1168.6 134.7,1167.7 134.5,1166.9 134.4,1166.6 134.3,1166.0 134.1,1165.1 133.9,1164.2 133.7,1163.3 133.5,1162.4 133.3,1161.6 133.1,1160.7 133.0,1159.8 132.8,1159.0 132.8,1158.9 132.6,1158.0 132.4,1157.2 132.2,1156.3 132.1,1155.4 131.9,1154.5 131.7,1153.6 131.5,1152.8 131.4,1151.9 131.2,1151.0" fill="none" stroke="#5ab4e6" stroke-width="1.5" stroke-dasharray="1.5 1.56" />
<polyline points="549.4,1380.0 547.8,1380.0 546.2,1380.0 544.6,1380.0 543.0,1380.0 541.4,1379.9 539.7,1379.9 538.1,1379.9 536.5,1379.9 534.9,1379.9 533.3,1379.9 531.7,1379.9 530.1,1379.9 528.5,1379.8 526.9,1379.8 525.3,1379.8 523.7,1379.8 522.1,1379.8 520.4,1379.8 518.8,1379.8 517.2,1379.8 515.6,1379.7 514.0,1379.7 512.4,1379.7 510.8,1379.7 509.2,1379.7 507.6,1379.7 506.0,1379.7 504.4,1379.6 502.8,1379.6 501.1,1379.6 499.5,1379.6 497.9,1379.6 496.3,1379.6 494.7,1379.6 493.1,1379.5 491.5,1379.5 489.9,1379.5 488.3,1379.5 486.7,1379.5 485.1,1379.5 483.5,1379.4 481.8,1379.4 480.2,1379.4 478.6,1379.4 477.0,1379.4 475.4,1379.4 473.8,1379.3 472.2,1379.3 470.6,1379.3 469.0,1379.3 467.4,1379.3 465.8,1379.3 464.2,1379.2 462.5,1379.2 460.9,1379.2 459.3,1379.2 457.7,1379.2 456.1,1379.1 454.5,1379.1 453.6,1379.1 452.9,1379.1 451.3,1379.1 449.7,1379.1 448.1,1379.1 446.5,1379.0 444.8,1379.0 443.2,1379.0 441.6,1379.0 440.0,1379.0 438.4,1378.9 436.8,1378.9 435.2,1378.9 433.6,1378.9 432.0,1378.8 430.4,1378.8 428.8,1378.8 427.2,1378.8 425.5,1378.8 423.9,1378.7 422.3,1378.7 420.7,1378.7 419.1,1378.7 417.5,1378.6 415.9,1378.6 414.3,1378.6 412.7,1378.6 411.1,1378.5 409.5,1378.5 407.9,1378.5 406.2,1378.5 404.6,1378.4 403.0,1378.4 401.4,1378.4 399.8,1378.4 398.2,1378.3 396.6,1378.3 395.0,1378.3 393.4,1378.2 393.2,1378.2 391.8,1378.2 390.2,1378.2 388.6,1378.2 386.9,1378.1 385.3,1378.1 383.7,1378.1 382.1,1378.0 380.5,1378.0 378.9,1378.0 377.3,1377.9 375.7,1377.9 374.1,1377.9 372.5,1377.8 370.9,1377.8 369.3,1377.8 367.6,1377.7 366.0,1377.7 364.4,1377.7 362.8,1377.6 361.2,1377.6 359.6,1377.6 358.0,1377.5 356.4,1377.5 354.8,1377.4 353.2,1377.4 351.6,1377.4 351.5,1377.4 350.0,1377.3 348.3,1377.3 346.7,1377.2 345.1,1377.2 343.5,1377.1 341.9,1377.1 340.3,1377.1 338.7,1377.0 337.1,1377.0 335.5,1376.9 333.9,1376.9 332.3,1376.8 330.6,1376.8 329.0,1376.7 327.4,1376.7 325.8,1376.6 324.2,1376.6 322.6,1376.5 321.1,1376.5 321.0,1376.5 319.4,1376.4 317.8,1376.4 316.2,1376.3 314.6,1376.2 313.0,1376.2 311.3,1376.1 309.7,1376.1 308.1,1376.0 306.5,1375.9 304.9,1375.9 303.3,1375.8 301.7,1375.8 300.1,1375.7 298.5,1375.6 297.9,1375.6 296.9,1375.6 295.3,1375.5 293.7,1375.4 292.0,1375.3 290.4,1375.3 288.8,1375.2 287.2,1375.1 285.6,1375.0 284.0,1374.9 282.4,1374.9 280.8,1374.8 279.7,1374.7 279.2,1374.7 277.6,1374.6 276.0,1374.5 274.4,1374.4 272.7,1374.3 271.1,1374.2 269.5,1374.1 267.9,1374.0 266.3,1373.9 264.9,1373.8 264.7,1373.8 263.1,1373.7 261.5,1373.6 259.9,1373.5 258.3,1373.4 256.7,1373.3 255.1,1373.1 253.4,1373.0 252.7,1373.0 251.8,1372.9 250.2,1372.8 248.6,1372.6 247.0,1372.5 245.4,1372.3 243.8,1372.2 242.5,1372.1 242.2,1372.0 240.6,1371.9 239.0,1371.7 237.4,1371.6 235.8,1371.4 234.1,1371.2 233.8,1371.2 232.5,1371.1 230.9,1370.9 229.3,1370.7 227.7,1370.5 226.3,1370.3 226.1,1370.3 224.5,1370.1 222.9,1369.9 221.3,1369.6 219.8,1369.4 219.7,1369.4 218.1,1369.2 216.4,1368.9 214.8,1368.7 214.0,1368.5 213.2,1368.4 211.6,1368.1 210.0,1367.9 209.0,1367.7 208.4,1367.6 206.8,1367.3 205.2,1366.9 204.4,1366.8 203.6,1366.6 202.0,1366.3 200.4,1365.9 200.4,1365.9 198.8,1365.5 197.1,1365.1 196.7,1365.0 195.5,1364.7 193.9,1364.3 193.4,1364.1 192.3,1363.8 190.7,1363.4 190.4,1363.3 189.1,1362.9 187.6,1362.4 187.5,1362.3 185.9,1361.8 185.1,1361.5 184.3,1361.2 182.8,1360.6 182.7,1360.6 181.1,1359.9 180.6,1359.7 179.5,1359.2 178.6,1358.9 177.8,1358.5 176.7,1358.0 176.2,1357.7 175.0,1357.1 174.6,1356.9 173.4,1356.2 173.0,1356.0 171.9,1355.3 171.4,1355.1 170.4,1354.5 169.8,1354.0 169.1,1353.6 168.2,1352.9 167.8,1352.7 166.7,1351.8 166.6,1351.8 165.5,1350.9 165.0,1350.5 164.5,1350.1 163.5,1349.2 163.4,1349.1 162.5,1348.3 161.8,1347.6 161.6,1347.4 160.7,1346.5 160.2,1345.9 159.9,1345.7 159.1,1344.8 158.5,1344.1 158.4,1343.9 157.6,1343.0 156.9,1342.1 156.9,1342.1 156.3,1341.2 155.7,1340.4 155.3,1339.9 155.0,1339.5 154.5,1338.6 153.9,1337.7 153.7,1337.4 153.4,1336.8 152.9,1336.0 152.4,1335.1 152.1,1334.6 151.9,1334.2 151.4,1333.3 151.0,1332.4 150.5,1331.6 150.5,1331.5 150.1,1330.7 149.7,1329.8 149.3,1328.9 148.9,1328.0 148.9,1327.9 148.6,1327.2 148.2,1326.3 147.9,1325.4 147.5,1324.5 147.3,1323.8 147.2,1323.6 146.9,1322.8 146.6,1321.9 146.3,1321.0 146.0,1320.1 145.7,1319.2 145.7,1319.1 145.5,1318.3 145.2,1317.5 144.9,1316.6 144.7,1315.7 144.4,1314.8 144.2,1313.9 144.1,1313.5 144.0,1313.1 143.7,1312.2 143.5,1311.3 143.3,1310.4 143.1,1309.5 142.9,1308.7 142.7,1307.8 142.5,1306.9 142.5,1306.8 142.3,1306.0 142.1,1305.1 141.9,1304.3 141.7,1303.4 141.6,1302.5 141.4,1301.6 141.2,1300.7 141.1,1299.9 140.9,1299.0 140.9,1298.7 140.7,1298.1 140.6,1297.2 140.4,1296.3 140.3,1295.4 140.1,1294.6 140.0,1293.7 139.9,1292.8 139.7,1291.9 139.6,1291.0 139.5,1290.2 139.3,1289.3 139.2,1288.7 139.2,1288.4 139.1,1287.5 139.0,1286.6 138.8,1285.8 138.7,1284.9 138.6,1284.0 138.5,1283.1 138.4,1282.2 138.3,1281.4 138.2,1280.5 138.0,1279.6 137.9,1278.7 137.8,1277.8 137.7,1277.0 137.6,1276.1 137.6,1276.0 137.5,1275.2 137.4,1274.3 137.4,1273.4 137.3,1272.5 137.2,1271.7 137.1,1270.8 137.0,1269.9 136.9,1269.0 136.8,1268.1 136.7,1267.3 136.6,1266.4 136.6,1265.5 136.5,1264.6 136.4,1263.7 136.3,1262.9 136.3,1262.0 136.2,1261.1 136.1,1260.2 136.0,1259.3 136.0,1259.3 136.0,1258.5 135.9,1257.6 135.8,1256.7 135.7,1255.8 135.7,1254.9 135.6,1254.1 135.5,1253.2 135.5,1252.3 135.4,1251.4 135.3,1250.5 135.3,1249.6 135.2,1248.8 135.1,1247.9 135.1,1247.0 135.0,1246.1 135.0,1245.2 134.9,1244.4 134.9,1243.5 134.8,1242.6 134.7,1241.7 134.7,1240.8 134.6,1240.0 134.6,1239.1 134.5,1238.2 134.5,1237.3 134.4,1236.5 134.4,1236.4 134.4,1235.6 134.3,1234.7 134.3,1233.8 134.2,1232.9 134.2,1232.0 134.1,1231.2 134.1,1230.3 134.0,1229.4 134.0,1228.5 133.9,1227.6 133.9,1226.7 133.8,1225.9 133.8,1225.0 133.7,1224.1 133.7,1223.2 133.6,1222.3 133.6,1221.5 133.6,1220.6 133.5,1219.7 133.5,1218.8 133.4,1217.9 133.4,1217.1 133.4,1216.2 133.3,1215.3 133.3,1214.4 133.2,1213.5 133.2,1212.7 133.2,1211.8 133.1,1210.9 133.1,1210.0 133.0,1209.1 133.0,1208.2 133.0,1207.4 132.9,1206.5 132.9,1205.6 132.9,1204.7 132.8,1203.8 132.8,1203.4 132.8,1203.0 132.8,1202.1 132.7,1201.2 132.7,1200.3 132.7,1199.4 132.6,1198.6 132.6,1197.7 132.6,1196.8 132.5,1195.9 132.5,1195.0 132.5,1194.2 132.4,1193.3 132.4,1192.4 132.4,1191.5 132.3,1190.6 132.3,1189.8 132.3,1188.9 132.2,1188.0 132.2,1187.1 132.2,1186.2 132.2,1185.4 132.1,1184.5 132.1,1183.6 132.1,1182.7 132.0,1181.8 132.0,1180.9 132.0,1180.1 132.0,1179.2 131.9,1178.3 131.9,1177.4 131.9,1176.5 131.9,1175.7 131.8,1174.8 131.8,1173.9 131.8,1173.0 131.8,1172.1 131.7,1171.3 131.7,1170.4 131.7,1169.5 131.7,1168.6 131.6,1167.7 131.6,1166.9 131.6,1166.0 131.6,1165.1 131.5,1164.2 131.5,1163.3 131.5,1162.5 131.5,1161.6 131.4,1160.7 131.4,1159.8 131.4,1158.9 131.4,1158.0 131.4,1157.2 131.3,1156.3 131.3,1155.4 131.3,1154.5 131.3,1153.6 131.2,1152.8 131.2,1151.9 131.2,1151.0" fill="none" stroke="#5ab4e6" stroke-width="1.5" stroke-dasharray="1.5 7.6" />
<polyline points="549.4,1380.0 547.8,1380.0 546.2,1380.0 544.6,1380.0 543.0,1380.0 541.4,1380.0 539.7,1380.0 538.1,1380.0 536.5,1380.0 534.9,1380.0 533.3,1380.0 531.7,1380.0 530.1,1380.0 528.5,1380.0 526.9,1380.0 525.3,1380.0 523.7,1379.9 522.1,1379.9 520.4,1379.9 518.8,1379.9 517.2,1379.9 515.6,1379.9 514.0,1379.9 512.4,1379.9 510.8,1379.9 509.2,1379.9 507.6,1379.9 506.0,1379.9 504.4,1379.9 502.8,1379.9 501.1,1379.9 499.5,1379.9 497.9,1379.9 496.3,1379.9 494.7,1379.9 493.1,1379.9 491.5,1379.9 489.9,1379.9 488.3,1379.9 486.7,1379.9 485.1,1379.9 483.5,1379.9 481.8,1379.9 480.2,1379.8 478.6,1379.8 477.0,1379.8 475.4,1379.8 473.8,1379.8 472.2,1379.8 470.6,1379.8 469.0,1379.8 467.4,1379.8 465.8,1379.8 464.2,1379.8 462.5,1379.8 460.9,1379.8 459.3,1379.8 457.7,1379.8 456.1,1379.8 454.5,1379.8 452.9,1379.8 451.3,1379.8 449.7,1379.8 448.1,1379.8 446.5,1379.7 444.8,1379.7 443.2,1379.7 441.6,1379.7 440.0,1379.7 438.4,1379.7 436.8,1379.7 435.2,1379.7 433.6,1379.7 432.0,1379.7 430.4,1379.7 428.8,1379.7 427.2,1379.7 425.5,1379.7 423.9,1379.7 422.3,1379.7 420.7,1379.7 419.1,1379.6 417.5,1379.6 415.9,1379.6 414.3,1379.6 412.7,1379.6 411.1,1379.6 409.5,1379.6 407.9,1379.6 406.2,1379.6 404.6,1379.6 403.0,1379.6 401.4,1379.6 399.8,1379.6 398.2,1379.6 396.6,1379.6 395.0,1379.5 393.4,1379.5 391.8,1379.5 390.2,1379.5 388.6,1379.5 386.9,1379.5 385.3,1379.5 383.7,1379.5 382.1,1379.5 380.5,1379.5 378.9,1379.5 377.3,1379.5 375.7,1379.4 374.1,1379.4 372.5,1379.4 370.9,1379.4 369.3,1379.4 367.6,1379.4 366.0,1379.4 364.4,1379.4 362.8,1379.4 361.2,1379.4 359.6,1379.4 358.0,1379.3 356.4,1379.3 354.8,1379.3 353.2,1379.3 351.6,1379.3 350.0,1379.3 348.3,1379.3 346.7,1379.3 345.1,1379.3 343.5,1379.2 341.9,1379.2 340.3,1379.2 338.7,1379.2 337.1,1379.2 335.5,1379.2 333.9,1379.2 332.3,1379.2 330.6,1379.1 329.0,1379.1 327.4,1379.1 327.0,1379.1 325.8,1379.1 324.2,1379.1 322.6,1379.1 321.0,1379.1 319.4,1379.1 317.8,1379.0 316.2,1379.0 314.6,1379.0 313.0,1379.0 311.3,1379.0 309.7,1379.0 308.1,1378.9 306.5,1378.9 304.9,1378.9 303.3,1378.9 301.7,1378.9 300.1,1378.9 298.5,1378.8 296.9,1378.8 295.3,1378.8 293.7,1378.8 292.0,1378.8 290.4,1378.7 288.8,1378.7 287.2,1378.7 285.6,1378.7 284.0,1378.7 282.4,1378.6 280.8,1378.6 279.2,1378.6 277.6,1378.6 276.0,1378.5 274.4,1378.5 272.7,1378.5 271.1,1378.5 269.5,1378.4 267.9,1378.4 266.3,1378.4 264.7,1378.4 263.1,1378.3 261.5,1378.3 259.9,1378.3 258.7,1378.2 258.3,1378.2 256.7,1378.2 255.1,1378.2 253.4,1378.1 251.8,1378.1 250.2,1378.1 248.6,1378.0 247.0,1378.0 245.4,1377.9 243.8,1377.9 242.2,1377.9 240.6,1377.8 239.0,1377.8 237.4,1377.7 235.8,1377.7 234.1,1377.6 232.5,1377.6 230.9,1377.5 229.3,1377.5 227.7,1377.4 226.1,1377.4 225.5,1377.4 224.5,1377.3 222.9,1377.3 221.3,1377.2 219.7,1377.1 218.1,1377.1 216.4,1377.0 214.8,1376.9 213.2,1376.9 211.6,1376.8 210.0,1376.7 208.4,1376.6 206.8,1376.5 205.9,1376.5 205.2,1376.4 203.6,1376.3 202.0,1376.2 200.4,1376.1 198.8,1376.0 197.1,1375.9 195.5,1375.8 193.9,1375.7 193.0,1375.6 192.3,1375.5 190.7,1375.4 189.1,1375.3 187.5,1375.1 185.9,1374.9 184.3,1374.8 183.8,1374.7 182.7,1374.6 181.1,1374.4 179.5,1374.2 177.8,1374.0 177.0,1373.8 176.2,1373.7 174.6,1373.5 173.0,1373.2 171.7,1373.0 171.4,1372.9 169.8,1372.6 168.2,1372.2 167.4,1372.1 166.6,1371.9 165.0,1371.5 164.0,1371.2 163.4,1371.0 161.8,1370.5 161.1,1370.3 160.2,1370.0 158.7,1369.4 158.5,1369.4 156.9,1368.7 156.6,1368.5 155.3,1368.0 154.8,1367.7 153.7,1367.1 153.2,1366.8 152.1,1366.1 151.8,1365.9 150.6,1365.0 150.5,1365.0 149.5,1364.1 148.9,1363.6 148.5,1363.3 147.6,1362.4 147.3,1362.1 146.8,1361.5 146.0,1360.6 145.7,1360.2 145.4,1359.7 144.7,1358.9 144.2,1358.0 144.1,1357.8 143.6,1357.1 143.1,1356.2 142.7,1355.3 142.5,1354.9 142.2,1354.5 141.8,1353.6 141.4,1352.7 141.1,1351.8 140.9,1351.2 140.8,1350.9 140.4,1350.1 140.1,1349.2 139.9,1348.3 139.6,1347.4 139.3,1346.5 139.2,1346.2 139.1,1345.6 138.9,1344.8 138.7,1343.9 138.5,1343.0 138.3,1342.1 138.1,1341.2 137.9,1340.4 137.7,1339.5 137.6,1339.1 137.5,1338.6 137.4,1337.7 137.2,1336.8 137.1,1336.0 136.9,1335.1 136.8,1334.2 136.7,1333.3 136.6,1332.4 136.4,1331.6 136.3,1330.7 136.2,1329.8 136.1,1328.9 136.0,1328.3 136.0,1328.0 135.9,1327.2 135.8,1326.3 135.7,1325.4 135.6,1324.5 135.5,1323.6 135.4,1322.7 135.3,1321.9 135.3,1321.0 135.2,1320.1 135.1,1319.2 135.0,1318.3 135.0,1317.5 134.9,1316.6 134.8,1315.7 134.7,1314.8 134.7,1313.9 134.6,1313.1 134.6,1312.2 134.5,1311.3 134.4,1310.4 134.4,1310.2 134.4,1309.5 134.3,1308.7 134.3,1307.8 134.2,1306.9 134.2,1306.0 134.1,1305.1 134.1,1304.3 134.0,1303.4 134.0,1302.5 133.9,1301.6 133.9,1300.7 133.8,1299.8 133.8,1299.0 133.7,1298.1 133.7,1297.2 133.7,1296.3 133.6,1295.4 133.6,1294.6 133.5,1293.7 133.5,1292.8 133.5,1291.9 133.4,1291.0 133.4,1290.2 133.4,1289.3 133.3,1288.4 133.3,1287.5 133.3,1286.6 133.2,1285.8 133.2,1284.9 133.2,1284.0 133.1,1283.1 133.1,1282.2 133.1,1281.4 133.0,1280.5 133.0,1279.6 133.0,1278.7 133.0,1277.8 132.9,1276.9 132.9,1276.1 132.9,1275.2 132.9,1274.3 132.8,1273.4 132.8,1272.8 132.8,1272.5 132.8,1271.7 132.8,1270.8 132.7,1269.9 132.7,1269.0 132.7,1268.1 132.7,1267.3 132.6,1266.4 132.6,1265.5 132.6,1264.6 132.6,1263.7 132.6,1262.9 132.5,1262.0 132.5,1261.1 132.5,1260.2 132.5,1259.3 132.5,1258.5 132.4,1257.6 132.4,1256.7 132.4,1255.8 132.4,1254.9 132.4,1254.1 132.3,1253.2 132.3,1252.3 132.3,1251.4 132.3,1250.5 132.3,1249.6 132.3,1248.8 132.2,1247.9 132.2,1247.0 132.2,1246.1 132.2,1245.2 132.2,1244.4 132.2,1243.5 132.1,1242.6 132.1,1241.7 132.1,1240.8 132.1,1240.0 132.1,1239.1 132.1,1238.2 132.1,1237.3 132.0,1236.4 132.0,1235.6 132.0,1234.7 132.0,1233.8 132.0,1232.9 132.0,1232.0 132.0,1231.1 132.0,1230.3 131.9,1229.4 131.9,1228.5 131.9,1227.6 131.9,1226.7 131.9,1225.9 131.9,1225.0 131.9,1224.1 131.9,1223.2 131.8,1222.3 131.8,1221.5 131.8,1220.6 131.8,1219.7 131.8,1218.8 131.8,1217.9 131.8,1217.1 131.8,1216.2 131.8,1215.3 131.7,1214.4 131.7,1213.5 131.7,1212.7 131.7,1211.8 131.7,1210.9 131.7,1210.0 131.7,1209.1 131.7,1208.3 131.7,1207.4 131.7,1206.5 131.6,1205.6 131.6,1204.7 131.6,1203.8 131.6,1203.0 131.6,1202.1 131.6,1201.2 131.6,1200.3 131.6,1199.4 131.6,1198.6 131.6,1197.7 131.6,1196.8 131.5,1195.9 131.5,1195.0 131.5,1194.2 131.5,1193.3 131.5,1192.4 131.5,1191.5 131.5,1190.6 131.5,1189.8 131.5,1188.9 131.5,1188.0 131.5,1187.1 131.5,1186.2 131.5,1185.3 131.4,1184.5 131.4,1183.6 131.4,1182.7 131.4,1181.8 131.4,1180.9 131.4,1180.1 131.4,1179.2 131.4,1178.3 131.4,1177.4 131.4,1176.5 131.4,1175.7 131.4,1174.8 131.4,1173.9 131.4,1173.0 131.3,1172.1 131.3,1171.3 131.3,1170.4 131.3,1169.5 131.3,1168.6 131.3,1167.7 131.3,1166.9 131.3,1166.0 131.3,1165.1 131.3,1164.2 131.3,1163.3 131.3,1162.5 131.3,1161.6 131.3,1160.7 131.3,1159.8 131.3,1158.9 131.2,1158.0 131.2,1157.2 131.2,1156.3 131.2,1155.4 131.2,1154.5 131.2,1153.6 131.2,1152.8 131.2,1151.9 131.2,1151.0" fill="none" stroke="#5ab4e6" stroke-width="1.5" stroke-dasharray="4.7 7.4 1.5 7.9 1.5 7.9" />
<polyline points="549.4,1380.0 547.8,1380.0 546.2,1380.0 544.6,1380.0 543.0,1380.0 541.4,1380.0 539.7,1380.0 538.1,1380.0 536.5,1380.0 534.9,1380.0 533.3,1380.0 531.7,1380.0 530.1,1380.0 528.5,1380.0 526.9,1380.0 525.3,1380.0 523.7,1380.0 522.1,1380.0 520.4,1380.0 518.8,1380.0 517.2,1380.0 515.6,1380.0 514.0,1380.0 512.4,1380.0 510.8,1380.0 509.2,1380.0 507.6,1380.0 506.0,1380.0 504.4,1380.0 502.8,1380.0 501.1,1380.0 499.5,1380.0 497.9,1380.0 496.3,1380.0 494.7,1380.0 493.1,1380.0 491.5,1380.0 489.9,1380.0 488.3,1380.0 486.7,1380.0 485.1,1380.0 483.5,1380.0 481.8,1380.0 480.2,1380.0 478.6,1380.0 477.0,1380.0 475.4,1380.0 473.8,1380.0 472.2,1380.0 470.6,1380.0 469.0,1380.0 467.4,1380.0 465.8,1380.0 464.2,1380.0 462.5,1380.0 460.9,1380.0 459.3,1380.0 457.7,1380.0 456.1,1380.0 454.5,1380.0 452.9,1380.0 451.3,1380.0 449.7,1380.0 448.1,1380.0 446.5,1380.0 444.8,1380.0 443.2,1380.0 441.6,1380.0 440.0,1380.0 438.4,1380.0 436.8,1380.0 435.2,1380.0 433.6,1380.0 432.0,1380.0 430.4,1380.0 428.8,1380.0 427.2,1380.0 425.5,1380.0 423.9,1380.0 422.3,1380.0 420.7,1380.0 419.1,1380.0 417.5,1380.0 415.9,1380.0 414.3,1380.0 412.7,1380.0 411.1,1380.0 409.5,1380.0 407.9,1380.0 406.2,1380.0 404.6,1380.0 403.0,1380.0 401.4,1380.0 399.8,1380.0 398.2,1380.0 396.6,1380.0 395.0,1380.0 393.4,1380.0 391.8,1380.0 390.2,1380.0 388.6,1380.0 386.9,1380.0 385.3,1380.0 383.7,1380.0 382.1,1380.0 380.5,1380.0 378.9,1380.0 377.3,1380.0 375.7,1380.0 374.1,1380.0 372.5,1380.0 370.9,1380.0 369.3,1380.0 367.6,1380.0 366.0,1380.0 364.4,1380.0 362.8,1380.0 361.2,1380.0 359.6,1380.0 358.0,1380.0 356.4,1380.0 354.8,1380.0 353.2,1380.0 351.6,1380.0 350.0,1380.0 348.3,1380.0 346.7,1380.0 345.1,1380.0 343.5,1380.0 341.9,1380.0 340.3,1380.0 338.7,1380.0 337.1,1380.0 335.5,1380.0 333.9,1380.0 332.3,1380.0 330.6,1380.0 329.0,1380.0 327.4,1380.0 325.8,1380.0 324.2,1380.0 322.6,1380.0 321.0,1380.0 319.4,1380.0 317.8,1380.0 316.2,1380.0 314.6,1380.0 313.0,1380.0 311.3,1380.0 309.7,1380.0 308.1,1380.0 306.5,1380.0 304.9,1380.0 303.3,1380.0 301.7,1380.0 300.1,1380.0 298.5,1380.0 296.9,1380.0 295.3,1380.0 293.7,1380.0 292.0,1380.0 290.4,1380.0 288.8,1380.0 287.2,1380.0 285.6,1380.0 284.0,1380.0 282.4,1380.0 280.8,1380.0 279.2,1380.0 277.6,1380.0 276.0,1380.0 274.4,1380.0 272.7,1380.0 271.1,1380.0 269.5,1380.0 267.9,1380.0 266.3,1380.0 264.7,1380.0 263.1,1380.0 261.5,1380.0 259.9,1380.0 258.3,1380.0 256.7,1380.0 255.1,1380.0 253.4,1380.0 251.8,1380.0 250.2,1380.0 248.6,1380.0 247.0,1380.0 245.4,1380.0 243.8,1380.0 242.2,1380.0 240.6,1380.0 239.0,1380.0 237.4,1380.0 235.8,1380.0 234.1,1380.0 232.5,1380.0 230.9,1380.0 229.3,1380.0 227.7,1380.0 226.1,1380.0 224.5,1380.0 222.9,1380.0 221.3,1380.0 219.7,1380.0 218.1,1380.0 216.4,1380.0 214.8,1380.0 213.2,1380.0 211.6,1380.0 210.0,1380.0 208.4,1380.0 206.8,1380.0 205.2,1380.0 203.6,1380.0 202.0,1380.0 200.4,1380.0 198.8,1380.0 197.1,1380.0 195.5,1380.0 193.9,1380.0 192.3,1380.0 190.7,1380.0 189.1,1380.0 187.5,1380.0 185.9,1380.0 184.3,1380.0 182.7,1380.0 181.1,1380.0 179.5,1380.0 177.8,1380.0 176.2,1380.0 174.6,1380.0 173.0,1380.0 171.4,1380.0 169.8,1380.0 168.2,1380.0 166.6,1380.0 165.0,1380.0 163.4,1380.0 161.8,1380.0 160.2,1380.0 158.5,1380.0 156.9,1380.0 155.3,1380.0 153.7,1380.0 152.1,1380.0 150.5,1380.0 148.9,1379.9 147.3,1379.9 145.7,1379.9 144.1,1379.9 142.5,1379.9 140.9,1379.9 139.2,1379.9 137.6,1379.9 136.0,1379.8 134.4,1379.7 132.8,1379.4 132.3,1379.1 131.7,1378.2 131.6,1377.4 131.5,1376.5 131.4,1375.6 131.4,1374.7 131.4,1373.8 131.3,1373.0 131.3,1372.1 131.3,1371.2 131.3,1370.3 131.3,1369.4 131.3,1368.5 131.3,1367.7 131.3,1366.8 131.3,1365.9 131.3,1365.0 131.3,1364.1 131.3,1363.3 131.3,1362.4 131.2,1361.5 131.2,1360.6 131.2,1359.7 131.2,1358.9 131.2,1358.0 131.2,1357.1 131.2,1356.2 131.2,1355.3 131.2,1354.5 131.2,1353.6 131.2,1352.7 131.2,1351.8 131.2,1350.9 131.2,1350.1 131.2,1349.2 131.2,1348.3 131.2,1347.4 131.2,1346.5 131.2,1345.7 131.2,1344.8 131.2,1343.9 131.2,1343.0 131.2,1342.1 131.2,1341.2 131.2,1340.4 131.2,1339.5 131.2,1338.6 131.2,1337.7 131.2,1336.8 131.2,1336.0 131.2,1335.1 131.2,1334.2 131.2,1333.3 131.2,1332.4 131.2,1331.6 131.2,1330.7 131.2,1329.8 131.2,1328.9 131.2,1328.0 131.2,1327.2 131.2,1326.3 131.2,1325.4 131.2,1324.5 131.2,1323.6 131.2,1322.7 131.2,1321.9 131.2,1321.0 131.2,1320.1 131.2,1319.2 131.2,1318.3 131.2,1317.5 131.2,1316.6 131.2,1315.7 131.2,1314.8 131.2,1313.9 131.2,1313.1 131.2,1312.2 131.2,1311.3 131.2,1310.4 131.2,1309.5 131.2,1308.7 131.2,1307.8 131.2,1306.9 131.2,1306.0 131.2,1305.1 131.2,1304.3 131.2,1303.4 131.2,1302.5 131.2,1301.6 131.2,1300.7 131.2,1299.9 131.2,1299.0 131.2,1298.1 131.2,1297.2 131.2,1296.3 131.2,1295.4 131.2,1294.6 131.2,1293.7 131.2,1292.8 131.2,1291.9 131.2,1291.0 131.2,1290.2 131.2,1289.3 131.2,1288.4 131.2,1287.5 131.2,1286.6 131.2,1285.8 131.2,1284.9 131.2,1284.0 131.2,1283.1 131.2,1282.2 131.2,1281.4 131.2,1280.5 131.2,1279.6 131.2,1278.7 131.2,1277.8 131.2,1277.0 131.2,1276.1 131.2,1275.2 131.2,1274.3 131.2,1273.4 131.2,1272.5 131.2,1271.7 131.2,1270.8 131.2,1269.9 131.2,1269.0 131.2,1268.1 131.2,1267.3 131.2,1266.4 131.2,1265.5 131.2,1264.6 131.2,1263.7 131.2,1262.9 131.2,1262.0 131.2,1261.1 131.2,1260.2 131.2,1259.3 131.2,1258.5 131.2,1257.6 131.2,1256.7 131.2,1255.8 131.2,1254.9 131.2,1254.0 131.2,1253.2 131.2,1252.3 131.2,1251.4 131.2,1250.5 131.2,1249.6 131.2,1248.8 131.2,1247.9 131.2,1247.0 131.2,1246.1 131.2,1245.2 131.2,1244.4 131.2,1243.5 131.2,1242.6 131.2,1241.7 131.2,1240.8 131.2,1240.0 131.2,1239.1 131.2,1238.2 131.2,1237.3 131.2,1236.4 131.2,1235.6 131.2,1234.7 131.2,1233.8 131.2,1232.9 131.2,1232.0 131.2,1231.2 131.2,1230.3 131.2,1229.4 131.2,1228.5 131.2,1227.6 131.2,1226.7 131.2,1225.9 131.2,1225.0 131.2,1224.1 131.2,1223.2 131.2,1222.3 131.2,1221.5 131.2,1220.6 131.2,1219.7 131.2,1218.8 131.2,1217.9 131.2,1217.1 131.2,1216.2 131.2,1215.3 131.2,1214.4 131.2,1213.5 131.2,1212.7 131.2,1211.8 131.2,1210.9 131.2,1210.0 131.2,1209.1 131.2,1208.2 131.2,1207.4 131.2,1206.5 131.2,1205.6 131.2,1204.7 131.2,1203.8 131.2,1203.0 131.2,1202.1 131.2,1201.2 131.2,1200.3 131.2,1199.4 131.2,1198.6 131.2,1197.7 131.2,1196.8 131.2,1195.9 131.2,1195.0 131.2,1194.2 131.2,1193.3 131.2,1192.4 131.2,1191.5 131.2,1190.6 131.2,1189.8 131.2,1188.9 131.2,1188.0 131.2,1187.1 131.2,1186.2 131.2,1185.3 131.2,1184.5 131.2,1183.6 131.2,1182.7 131.2,1181.8 131.2,1180.9 131.2,1180.1 131.2,1179.2 131.2,1178.3 131.2,1177.4 131.2,1176.5 131.2,1175.7 131.2,1174.8 131.2,1173.9 131.2,1173.0 131.2,1172.1 131.2,1171.3 131.2,1170.4 131.2,1169.5 131.2,1168.6 131.2,1167.7 131.2,1166.9 131.2,1166.0 131.2,1165.1 131.2,1164.2 131.2,1163.3 131.2,1162.4 131.2,1161.6 131.2,1160.7 131.2,1159.8 131.2,1158.9 131.2,1158.0 131.2,1157.2 131.2,1156.3 131.2,1155.4 131.2,1154.5 131.2,1153.6 131.2,1152.8 131.2,1151.9 131.2,1151.0" fill="none" stroke="#5ab4e6" stroke-width="1.5" />
<line x1="132.10" y1="1112.50" x2="132.10" y2="1142.80" stroke="#a3a3a3" stroke-width="1.25" />
<line x1="127.30" y1="1112.50" x2="136.90" y2="1112.50" stroke="#a3a3a3" stroke-width="1.25" />
<line x1="127.30" y1="1142.80" x2="136.90" y2="1142.80" stroke="#a3a3a3" stroke-width="1.25" />
<line x1="132.10" y1="1140.20" x2="132.10" y2="1140.20" stroke="#a3a3a3" stroke-width="1.25" />
<line x1="127.30" y1="1140.20" x2="136.90" y2="1140.20" stroke="#a3a3a3" stroke-width="1.25" />
<line x1="127.30" y1="1140.20" x2="136.90" y2="1140.20" stroke="#a3a3a3" stroke-width="1.25" />
<line x1="139.50" y1="1156.00" x2="139.50" y2="1176.60" stroke="#a3a3a3" stroke-width="1.25" />
<line x1="136.00" y1="1156.00" x2="143.00" y2="1156.00" stroke="#a3a3a3" stroke-width="1.25" />
<line x1="136.00" y1="1176.60" x2="143.00" y2="1176.60" stroke="#a3a3a3" stroke-width="1.25" />
<circle cx="182.80" cy="1160.30" r="3.45" fill="#b40426" stroke="none" stroke-width="0"/>
<circle cx="194.10" cy="1162.70" r="3.45" fill="#ee8468" stroke="none" stroke-width="0"/>
<circle cx="211.80" cy="1166.20" r="3.45" fill="#ecc8b4" stroke="none" stroke-width="0"/>
<circle cx="242.40" cy="1173.20" r="3.45" fill="#c4d6f4" stroke="none" stroke-width="0"/>
<circle cx="307.80" cy="1191.90" r="3.45" fill="#7b9ff9" stroke="none" stroke-width="0"/>
<circle cx="499.50" cy="1308.50" r="3.45" fill="#4553cc" stroke="none" stroke-width="0"/>
<circle cx="157.80" cy="1182.60" r="3.45" fill="#b40426" stroke="none" stroke-width="0"/>
<circle cx="164.40" cy="1189.60" r="3.45" fill="#ee8468" stroke="none" stroke-width="0"/>
<circle cx="174.60" cy="1199.80" r="3.45" fill="#ecc8b4" stroke="none" stroke-width="0"/>
<circle cx="193.70" cy="1217.70" r="3.45" fill="#c4d6f4" stroke="none" stroke-width="0"/>
<circle cx="240.60" cy="1255.00" r="3.45" fill="#7b9ff9" stroke="none" stroke-width="0"/>
<circle cx="458.20" cy="1355.50" r="3.45" fill="#4553cc" stroke="none" stroke-width="0"/>
<circle cx="147.20" cy="1213.30" r="3.45" fill="#b40426" stroke="none" stroke-width="0"/>
<circle cx="151.30" cy="1224.70" r="3.45" fill="#ee8468" stroke="none" stroke-width="0"/>
<circle cx="157.40" cy="1240.10" r="3.45" fill="#ecc8b4" stroke="none" stroke-width="0"/>
<circle cx="170.00" cy="1263.60" r="3.45" fill="#c4d6f4" stroke="none" stroke-width="0"/>
<circle cx="202.10" cy="1300.00" r="3.45" fill="#7b9ff9" stroke="none" stroke-width="0"/>
<circle cx="413.70" cy="1369.00" r="3.45" fill="#4553cc" stroke="none" stroke-width="0"/>
<circle cx="136.90" cy="1270.60" r="3.45" fill="#b40426" stroke="none" stroke-width="0"/>
<circle cx="138.50" cy="1283.70" r="3.45" fill="#ee8468" stroke="none" stroke-width="0"/>
<circle cx="141.00" cy="1299.80" r="3.45" fill="#ecc8b4" stroke="none" stroke-width="0"/>
<circle cx="145.70" cy="1319.80" r="3.45" fill="#c4d6f4" stroke="none" stroke-width="0"/>
<circle cx="159.50" cy="1345.90" r="3.45" fill="#7b9ff9" stroke="none" stroke-width="0"/>
<circle cx="307.60" cy="1375.80" r="3.45" fill="#4553cc" stroke="none" stroke-width="0"/>
<circle cx="134.10" cy="1296.20" r="3.45" fill="#b40426" stroke="none" stroke-width="0"/>
<circle cx="134.80" cy="1308.50" r="3.45" fill="#ee8468" stroke="none" stroke-width="0"/>
<circle cx="135.50" cy="1322.30" r="3.45" fill="#ecc8b4" stroke="none" stroke-width="0"/>
<circle cx="137.30" cy="1338.30" r="3.45" fill="#c4d6f4" stroke="none" stroke-width="0"/>
<circle cx="142.80" cy="1357.20" r="3.45" fill="#7b9ff9" stroke="none" stroke-width="0"/>
<circle cx="223.20" cy="1377.80" r="3.45" fill="#4553cc" stroke="none" stroke-width="0"/>
<circle cx="131.50" cy="1298.00" r="3.45" fill="#b40426" stroke="none" stroke-width="0"/>
<circle cx="131.20" cy="1310.30" r="3.45" fill="#ee8468" stroke="none" stroke-width="0"/>
<circle cx="131.20" cy="1323.80" r="3.45" fill="#ecc8b4" stroke="none" stroke-width="0"/>
<circle cx="131.20" cy="1339.70" r="3.45" fill="#c4d6f4" stroke="none" stroke-width="0"/>
<circle cx="131.20" cy="1358.20" r="3.45" fill="#7b9ff9" stroke="none" stroke-width="0"/>
<circle cx="131.20" cy="1377.60" r="3.45" fill="#4553cc" stroke="none" stroke-width="0"/>
<rect x="126.80" y="1146.60" width="9.2" height="9.2" fill="#ec9428" stroke="none" stroke-width="0"/>
<rect x="127.50" y="1122.80" width="9.0" height="9.0" fill="#000" stroke="none" stroke-width="0"/>
<circle cx="132.30" cy="1135.00" r="4.4" fill="#000" stroke="none" stroke-width="0"/>
<rect x="131.50" y="1144.60" width="8.0" height="8.0" fill="#fff" stroke="#000" stroke-width="1.2"/>
<polygon points="140.40,1156.70 146.10,1162.40 140.40,1168.10 134.70,1162.40" fill="#000" stroke="none" stroke-width="0"/>
<circle cx="139.50" cy="1165.20" r="3.9" fill="#fff" stroke="#000" stroke-width="1.2"/>
<polygon points="149.30,1170.60 155.10,1176.40 149.30,1182.20 143.50,1176.40" fill="#fff" stroke="#000" stroke-width="1.2"/>
<rect x="544.70" y="1375.30" width="9.4" height="9.4" fill="#4f4fb8" stroke="none" stroke-width="0"/>
<rect x="110.7" y="992.6" width="460.3" height="400.69999999999993" fill="none" stroke="#000" stroke-width="1.7"/>
<line x1="107.20" y1="1380.00" x2="110.70" y2="1380.00" stroke="#000" stroke-width="1.5" />
<text x="102.60" y="1383.60" font-family="'Liberation Sans', sans-serif" font-size="10" font-weight="bold" font-style="normal" text-anchor="end" fill="#000" >0</text>
<line x1="107.20" y1="1305.35" x2="110.70" y2="1305.35" stroke="#000" stroke-width="1.5" />
<text x="102.60" y="1308.95" font-family="'Liberation Sans', sans-serif" font-size="10" font-weight="bold" font-style="normal" text-anchor="end" fill="#000" >1</text>
<line x1="107.20" y1="1230.70" x2="110.70" y2="1230.70" stroke="#000" stroke-width="1.5" />
<text x="102.60" y="1234.30" font-family="'Liberation Sans', sans-serif" font-size="10" font-weight="bold" font-style="normal" text-anchor="end" fill="#000" >2</text>
<line x1="107.20" y1="1156.05" x2="110.70" y2="1156.05" stroke="#000" stroke-width="1.5" />
<text x="102.60" y="1159.65" font-family="'Liberation Sans', sans-serif" font-size="10" font-weight="bold" font-style="normal" text-anchor="end" fill="#000" >3</text>
<line x1="107.20" y1="1081.40" x2="110.70" y2="1081.40" stroke="#000" stroke-width="1.5" />
<text x="102.60" y="1085.00" font-family="'Liberation Sans', sans-serif" font-size="10" font-weight="bold" font-style="normal" text-anchor="end" fill="#000" >4</text>
<line x1="107.20" y1="1006.75" x2="110.70" y2="1006.75" stroke="#000" stroke-width="1.5" />
<text x="102.60" y="1010.35" font-family="'Liberation Sans', sans-serif" font-size="10" font-weight="bold" font-style="normal" text-anchor="end" fill="#000" >5</text>
<line x1="131.50" y1="1393.30" x2="131.50" y2="1396.80" stroke="#000" stroke-width="1.5" />
<text x="131.50" y="1407.90" font-family="'Liberation Sans', sans-serif" font-size="10" font-weight="bold" font-style="normal" text-anchor="middle" fill="#000" ><tspan font-size="12.4" dy="1.7">–</tspan><tspan dx="1.4" dy="-0.7">1000</tspan></text>
<line x1="215.06" y1="1393.30" x2="215.06" y2="1396.80" stroke="#000" stroke-width="1.5" />
<text x="215.06" y="1407.90" font-family="'Liberation Sans', sans-serif" font-size="10" font-weight="bold" font-style="normal" text-anchor="middle" fill="#000" ><tspan font-size="12.4" dy="1.7">–</tspan><tspan dx="1.4" dy="-0.7">800</tspan></text>
<line x1="298.62" y1="1393.30" x2="298.62" y2="1396.80" stroke="#000" stroke-width="1.5" />
<text x="298.62" y="1407.90" font-family="'Liberation Sans', sans-serif" font-size="10" font-weight="bold" font-style="normal" text-anchor="middle" fill="#000" ><tspan font-size="12.4" dy="1.7">–</tspan><tspan dx="1.4" dy="-0.7">600</tspan></text>
<line x1="382.18" y1="1393.30" x2="382.18" y2="1396.80" stroke="#000" stroke-width="1.5" />
<text x="382.18" y="1407.90" font-family="'Liberation Sans', sans-serif" font-size="10" font-weight="bold" font-style="normal" text-anchor="middle" fill="#000" ><tspan font-size="12.4" dy="1.7">–</tspan><tspan dx="1.4" dy="-0.7">400</tspan></text>
<line x1="465.74" y1="1393.30" x2="465.74" y2="1396.80" stroke="#000" stroke-width="1.5" />
<text x="465.74" y="1407.90" font-family="'Liberation Sans', sans-serif" font-size="10" font-weight="bold" font-style="normal" text-anchor="middle" fill="#000" ><tspan font-size="12.4" dy="1.7">–</tspan><tspan dx="1.4" dy="-0.7">200</tspan></text>
<line x1="549.30" y1="1393.30" x2="549.30" y2="1396.80" stroke="#000" stroke-width="1.5" />
<text x="549.30" y="1407.90" font-family="'Liberation Sans', sans-serif" font-size="10" font-weight="bold" font-style="normal" text-anchor="middle" fill="#000" >0</text>
<text x="110.00" y="990.20" font-family="'Liberation Sans', sans-serif" font-size="10.6" font-weight="normal" font-style="normal" text-anchor="start" fill="#000" ><tspan font-size="13.5">×</tspan><tspan dx="0.6">10</tspan><tspan font-size="7.8" dy="-4.8">5</tspan></text>
<text x="340.00" y="1441.20" font-family="'Liberation Sans', sans-serif" font-size="18.5" font-weight="bold" font-style="normal" text-anchor="middle" fill="#000" ><tspan font-family="'Liberation Serif', serif" font-style="italic" font-weight="normal" font-size="21">δ</tspan><tspan font-size="11.8" dx="4.2" dy="-6.8">40</tspan><tspan dy="6.8" dx="0.3">Ar</tspan><tspan font-weight="normal" dx="4.2">(</tspan><tspan font-weight="normal" textLength="18" lengthAdjust="spacingAndGlyphs">‰</tspan><tspan font-weight="normal">)</tspan></text>
<g transform="translate(79.7,1193.5) rotate(-90)">
<text x="0.00" y="0.00" font-family="'Liberation Sans', sans-serif" font-size="18.5" font-weight="bold" font-style="normal" text-anchor="middle" fill="#000" ><tspan font-family="'Liberation Serif', serif" font-style="italic" font-weight="normal" font-size="21">δ</tspan><tspan font-size="11.8" dx="4.2" dy="-6.8">3</tspan><tspan dy="6.8" dx="0.3">He</tspan><tspan font-weight="normal" dx="4.2">(</tspan><tspan font-weight="normal" textLength="18" lengthAdjust="spacingAndGlyphs">‰</tspan><tspan font-weight="normal">)</tspan></text>
</g>
<text x="1.80" y="1003.50" font-family="'Liberation Sans', sans-serif" font-size="37.5" font-weight="bold" font-style="normal" text-anchor="start" fill="#000" >c<tspan dx="1.0">)</tspan></text>
<rect x="120.6" y="997.1" width="440.6" height="106.6" rx="2" fill="#fff" fill-opacity="0.8" stroke="#d6d6d6" stroke-width="1"/>
<line x1="124.6" y1="1005.1" x2="154.9" y2="1005.1" stroke="#5ab4e6" stroke-width="1.5" stroke-dasharray="10.9 2.9 1.6 2.9"/>
<text x="163.40" y="1008.80" font-family="'Liberation Sans', sans-serif" font-size="10.35" font-weight="bold" font-style="normal" text-anchor="start" fill="#000" >Case - I (Magnetized), PHE @ 175 km</text>
<line x1="124.6" y1="1019.9" x2="154.9" y2="1019.9" stroke="#5ab4e6" stroke-width="1.5" stroke-dasharray="7.7 7.5"/>
<text x="163.40" y="1023.60" font-family="'Liberation Sans', sans-serif" font-size="10.35" font-weight="bold" font-style="normal" text-anchor="start" fill="#000" >Case - I (Magnetized), PHE @ 190 km</text>
<line x1="124.6" y1="1034.7" x2="154.9" y2="1034.7" stroke="#5ab4e6" stroke-width="1.5" stroke-dasharray="1.5 1.56"/>
<text x="163.40" y="1038.40" font-family="'Liberation Sans', sans-serif" font-size="10.35" font-weight="bold" font-style="normal" text-anchor="start" fill="#000" >Case - I (Magnetized), PHE @ 200 km</text>
<line x1="124.6" y1="1049.5" x2="154.9" y2="1049.5" stroke="#5ab4e6" stroke-width="1.5" stroke-dasharray="1.5 7.6"/>
<text x="163.40" y="1053.20" font-family="'Liberation Sans', sans-serif" font-size="10.35" font-weight="bold" font-style="normal" text-anchor="start" fill="#000" >Case - I (Magnetized), PHE @ 215 km</text>
<line x1="124.6" y1="1064.3" x2="154.9" y2="1064.3" stroke="#5ab4e6" stroke-width="1.5" stroke-dasharray="4.7 7.4 1.5 7.9 1.5 7.9"/>
<text x="163.40" y="1068.00" font-family="'Liberation Sans', sans-serif" font-size="10.35" font-weight="bold" font-style="normal" text-anchor="start" fill="#000" >Case - I (Magnetized), PHE @ 225 km</text>
<line x1="124.6" y1="1079.1" x2="154.9" y2="1079.1" stroke="#5ab4e6" stroke-width="1.5"/>
<text x="163.40" y="1082.80" font-family="'Liberation Sans', sans-serif" font-size="10.35" font-weight="bold" font-style="normal" text-anchor="start" fill="#000" >Case - I (Magnetized), PHE @ 401 km</text>
<text x="163.40" y="1097.60" font-family="'Liberation Sans', sans-serif" font-size="10.35" font-weight="bold" font-style="normal" text-anchor="start" fill="#000" >Ilmenite 71501 (Lunar soil)</text>
<rect x="135.30" y="1089.40" width="9.0" height="9.0" fill="#000" stroke="none" stroke-width="0"/>
<text x="403.90" y="1008.80" font-family="'Liberation Sans', sans-serif" font-size="10.35" font-weight="bold" font-style="normal" text-anchor="start" fill="#000" >Ilmenite 12001 (Lunar soil)</text>
<text x="403.90" y="1023.60" font-family="'Liberation Sans', sans-serif" font-size="10.35" font-weight="bold" font-style="normal" text-anchor="start" fill="#000" >Ilmenite 74241 (Lunar soil)</text>
<text x="403.90" y="1038.40" font-family="'Liberation Sans', sans-serif" font-size="10.35" font-weight="bold" font-style="normal" text-anchor="start" fill="#000" >Breccias 79135 (Lunar regolith)</text>
<text x="403.90" y="1053.20" font-family="'Liberation Sans', sans-serif" font-size="10.35" font-weight="bold" font-style="normal" text-anchor="start" fill="#000" >Breccias 79035 (Lunar regolith)</text>
<text x="403.90" y="1068.00" font-family="'Liberation Sans', sans-serif" font-size="10.35" font-weight="bold" font-style="normal" text-anchor="start" fill="#000" >Breccias 14301 (Lunar regolith)</text>
<text x="403.90" y="1082.80" font-family="'Liberation Sans', sans-serif" font-size="10.35" font-weight="bold" font-style="normal" text-anchor="start" fill="#000" >Solar wind</text>
<text x="403.90" y="1097.60" font-family="'Liberation Sans', sans-serif" font-size="10.35" font-weight="bold" font-style="normal" text-anchor="start" fill="#000" >Earth’s atmosphere</text>
<circle cx="381.00" cy="1005.10" r="4.6" fill="#000" stroke="none" stroke-width="0"/>
<polygon points="381.00,1013.90 387.00,1019.90 381.00,1025.90 375.00,1019.90" fill="#000" stroke="none" stroke-width="0"/>
<rect x="376.80" y="1030.50" width="8.4" height="8.4" fill="#fff" stroke="#000" stroke-width="1.1"/>
<circle cx="381.00" cy="1049.50" r="4.1" fill="#fff" stroke="#000" stroke-width="1.1"/>
<polygon points="381.00,1058.60 386.70,1064.30 381.00,1070.00 375.30,1064.30" fill="#fff" stroke="#000" stroke-width="1.1"/>
<rect x="376.40" y="1074.50" width="9.2" height="9.2" fill="#ec9428" stroke="none" stroke-width="0"/>
<rect x="376.40" y="1089.30" width="9.2" height="9.2" fill="#4f4fb8" stroke="none" stroke-width="0"/>
<defs><linearGradient id="cbc" x1="0" y1="1" x2="0" y2="0"><stop offset="0.0000" stop-color="#3b4cc0"/><stop offset="0.0312" stop-color="#445acc"/><stop offset="0.0625" stop-color="#4e68d8"/><stop offset="0.0938" stop-color="#5875e1"/><stop offset="0.1250" stop-color="#6282ea"/><stop offset="0.1562" stop-color="#6c8ff1"/><stop offset="0.1875" stop-color="#779af7"/><stop offset="0.2188" stop-color="#82a6fb"/><stop offset="0.2500" stop-color="#8db0fe"/><stop offset="0.2812" stop-color="#98b9ff"/><stop offset="0.3125" stop-color="#a3c2fe"/><stop offset="0.3438" stop-color="#aec9fc"/><stop offset="0.3750" stop-color="#b9d0f9"/><stop offset="0.4062" stop-color="#c3d5f4"/><stop offset="0.4375" stop-color="#ccd9ed"/><stop offset="0.4688" stop-color="#d5dbe5"/><stop offset="0.5000" stop-color="#dddcdc"/><stop offset="0.5312" stop-color="#e5d8d1"/><stop offset="0.5625" stop-color="#ecd3c5"/><stop offset="0.5938" stop-color="#f1ccb8"/><stop offset="0.6250" stop-color="#f5c4ac"/><stop offset="0.6562" stop-color="#f7ba9f"/><stop offset="0.6875" stop-color="#f7b093"/><stop offset="0.7188" stop-color="#f6a586"/><stop offset="0.7500" stop-color="#f4987a"/><stop offset="0.7812" stop-color="#f08b6e"/><stop offset="0.8125" stop-color="#eb7d62"/><stop offset="0.8438" stop-color="#e46e56"/><stop offset="0.8750" stop-color="#dd5f4b"/><stop offset="0.9062" stop-color="#d44e41"/><stop offset="0.9375" stop-color="#ca3b37"/><stop offset="0.9688" stop-color="#be242e"/><stop offset="1.0000" stop-color="#b40426"/></linearGradient></defs>
<path d="M599.2,1393.0 L599.2,1011.1 L613.0,1011.1 L613.0,1393.0 Z" fill="url(#cbc)"/>
<path d="M599.2,1011.1 L606.1,990.6 L613.0,1011.1 Z" fill="#b40426"/>
<path d="M599.2,1393.0 L599.2,1011.1 L606.1,990.6 L613.0,1011.1 L613.0,1393.0 Z" fill="none" stroke="#000" stroke-width="1.4"/>
<line x1="613.00" y1="1393.00" x2="616.50" y2="1393.00" stroke="#000" stroke-width="1.4" />
<text x="619.60" y="1396.60" font-family="'Liberation Sans', sans-serif" font-size="10" font-weight="bold" font-style="normal" text-anchor="start" fill="#000" >0.00</text>
<line x1="613.00" y1="1316.62" x2="616.50" y2="1316.62" stroke="#000" stroke-width="1.4" />
<text x="619.60" y="1320.22" font-family="'Liberation Sans', sans-serif" font-size="10" font-weight="bold" font-style="normal" text-anchor="start" fill="#000" >0.01</text>
<line x1="613.00" y1="1240.24" x2="616.50" y2="1240.24" stroke="#000" stroke-width="1.4" />
<text x="619.60" y="1243.84" font-family="'Liberation Sans', sans-serif" font-size="10" font-weight="bold" font-style="normal" text-anchor="start" fill="#000" >0.02</text>
<line x1="613.00" y1="1163.86" x2="616.50" y2="1163.86" stroke="#000" stroke-width="1.4" />
<text x="619.60" y="1167.46" font-family="'Liberation Sans', sans-serif" font-size="10" font-weight="bold" font-style="normal" text-anchor="start" fill="#000" >0.03</text>
<line x1="613.00" y1="1087.48" x2="616.50" y2="1087.48" stroke="#000" stroke-width="1.4" />
<text x="619.60" y="1091.08" font-family="'Liberation Sans', sans-serif" font-size="10" font-weight="bold" font-style="normal" text-anchor="start" fill="#000" >0.04</text>
<line x1="613.00" y1="1011.10" x2="616.50" y2="1011.10" stroke="#000" stroke-width="1.4" />
<text x="619.60" y="1014.70" font-family="'Liberation Sans', sans-serif" font-size="10" font-weight="bold" font-style="normal" text-anchor="start" fill="#000" >0.05</text>
<g transform="translate(672.6,1202.4) rotate(-90)">
<text x="0.00" y="0.00" font-family="'Liberation Sans', sans-serif" font-size="16.4" font-weight="bold" font-style="normal" text-anchor="middle" fill="#000" >Solar wind mass fraction</text>
</g>
</svg></body></html>
